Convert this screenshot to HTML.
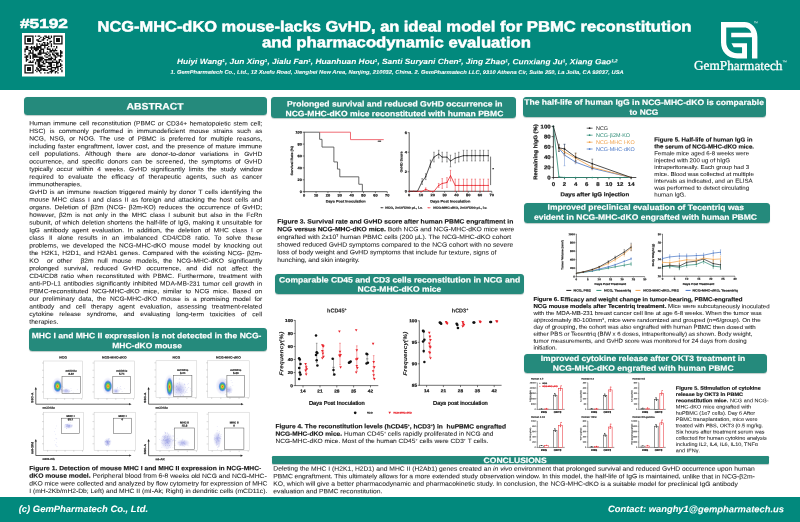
<!DOCTYPE html>
<html lang="en"><head><meta charset="utf-8"><title>NCG-MHC-dKO mouse poster</title>
<style>

html,body{margin:0;padding:0;background:#fff;}
body{width:800px;height:522px;overflow:hidden;font-family:"Liberation Sans",sans-serif;color:#262626;}
#poster{position:relative;width:800px;height:522px;overflow:hidden;background:#fff;}
.ln{position:absolute;left:0;top:0;-webkit-text-stroke:0.06px currentColor;white-space:nowrap;line-height:1;margin:0;padding:0;transform-origin:0 0;}
.w{color:#fff;}
.bd{font-weight:bold;-webkit-text-stroke:0.18px currentColor;}
.bi{font-weight:bold;font-style:italic;}
.hdr{position:absolute;left:0;top:0;width:800px;height:89.7px;background:#02897d;}
.ftr{position:absolute;left:0;top:497.3px;width:800px;height:24.7px;background:#02897d;}
.ban{position:absolute;background:#258a7c;border-radius:3.5px;box-shadow:0 0.5px 0.8px rgba(70,110,100,.35);}
b{-webkit-text-stroke:0.15px currentColor;color:#161616;}
sup{font-size:55%;line-height:0;vertical-align:baseline;position:relative;top:-0.5em;}
svg{position:absolute;left:0;top:0;overflow:visible;}
svg text{font-family:"Liberation Sans",sans-serif;}

</style></head>
<body>
<div id="poster">
<div class="hdr"></div>
<div class="ftr"></div>
<div class="ln w bd" style="font-size:13.075px;transform:translate(20.00px,16.93px) rotate(0.03deg) scaleX(1.32);-webkit-text-stroke:0.55px #fff;">#5192</div>
<svg style="left:22px;top:32.5px" width="43" height="43.5" viewBox="0 0 43 43.5"><rect width="43" height="43.5" fill="#fff"/><path d="M2.40 2.40h9.22v1.32h-9.22zM12.94 2.40h1.32v1.32h-1.32zM15.57 2.40h2.63v1.32h-2.63zM22.16 2.40h2.63v1.32h-2.63zM26.11 2.40h1.32v1.32h-1.32zM28.74 2.40h1.32v1.32h-1.32zM31.38 2.40h9.22v1.32h-9.22zM2.40 3.72h1.32v1.32h-1.32zM10.30 3.72h1.32v1.32h-1.32zM18.21 3.72h1.32v1.32h-1.32zM20.84 3.72h1.32v1.32h-1.32zM23.48 3.72h3.95v1.32h-3.95zM28.74 3.72h1.32v1.32h-1.32zM31.38 3.72h1.32v1.32h-1.32zM39.28 3.72h1.32v1.32h-1.32zM2.40 5.03h1.32v1.32h-1.32zM5.03 5.03h3.95v1.32h-3.95zM10.30 5.03h1.32v1.32h-1.32zM16.89 5.03h1.32v1.32h-1.32zM20.84 5.03h2.63v1.32h-2.63zM26.11 5.03h2.63v1.32h-2.63zM31.38 5.03h1.32v1.32h-1.32zM34.01 5.03h3.95v1.32h-3.95zM39.28 5.03h1.32v1.32h-1.32zM2.40 6.35h1.32v1.32h-1.32zM5.03 6.35h3.95v1.32h-3.95zM10.30 6.35h1.32v1.32h-1.32zM14.26 6.35h2.63v1.32h-2.63zM19.52 6.35h2.63v1.32h-2.63zM24.79 6.35h1.32v1.32h-1.32zM31.38 6.35h1.32v1.32h-1.32zM34.01 6.35h3.95v1.32h-3.95zM39.28 6.35h1.32v1.32h-1.32zM2.40 7.67h1.32v1.32h-1.32zM5.03 7.67h3.95v1.32h-3.95zM10.30 7.67h1.32v1.32h-1.32zM15.57 7.67h3.95v1.32h-3.95zM27.43 7.67h2.63v1.32h-2.63zM31.38 7.67h1.32v1.32h-1.32zM34.01 7.67h3.95v1.32h-3.95zM39.28 7.67h1.32v1.32h-1.32zM2.40 8.99h1.32v1.32h-1.32zM10.30 8.99h1.32v1.32h-1.32zM20.84 8.99h2.63v1.32h-2.63zM24.79 8.99h1.32v1.32h-1.32zM27.43 8.99h1.32v1.32h-1.32zM31.38 8.99h1.32v1.32h-1.32zM39.28 8.99h1.32v1.32h-1.32zM2.40 10.30h9.22v1.32h-9.22zM14.26 10.30h1.32v1.32h-1.32zM16.89 10.30h1.32v1.32h-1.32zM19.52 10.30h1.32v1.32h-1.32zM22.16 10.30h1.32v1.32h-1.32zM24.79 10.30h2.63v1.32h-2.63zM28.74 10.30h1.32v1.32h-1.32zM31.38 10.30h9.22v1.32h-9.22zM14.26 11.62h1.32v1.32h-1.32zM18.21 11.62h7.90v1.32h-7.90zM28.74 11.62h1.32v1.32h-1.32zM3.72 12.94h2.63v1.32h-2.63zM8.99 12.94h1.32v1.32h-1.32zM11.62 12.94h1.32v1.32h-1.32zM14.26 12.94h5.27v1.32h-5.27zM22.16 12.94h1.32v1.32h-1.32zM26.11 12.94h1.32v1.32h-1.32zM28.74 12.94h1.32v1.32h-1.32zM31.38 12.94h1.32v1.32h-1.32zM34.01 12.94h1.32v1.32h-1.32zM3.72 14.26h2.63v1.32h-2.63zM7.67 14.26h11.86v1.32h-11.86zM22.16 14.26h1.32v1.32h-1.32zM24.79 14.26h1.32v1.32h-1.32zM34.01 14.26h1.32v1.32h-1.32zM2.40 15.57h3.95v1.32h-3.95zM8.99 15.57h1.32v1.32h-1.32zM11.62 15.57h5.27v1.32h-5.27zM18.21 15.57h3.95v1.32h-3.95zM24.79 15.57h3.95v1.32h-3.95zM30.06 15.57h1.32v1.32h-1.32zM32.70 15.57h1.32v1.32h-1.32zM2.40 16.89h1.32v1.32h-1.32zM6.35 16.89h2.63v1.32h-2.63zM10.30 16.89h1.32v1.32h-1.32zM12.94 16.89h2.63v1.32h-2.63zM16.89 16.89h2.63v1.32h-2.63zM20.84 16.89h1.32v1.32h-1.32zM27.43 16.89h7.90v1.32h-7.90zM37.97 16.89h1.32v1.32h-1.32zM2.40 18.21h1.32v1.32h-1.32zM7.67 18.21h1.32v1.32h-1.32zM10.30 18.21h1.32v1.32h-1.32zM16.89 18.21h2.63v1.32h-2.63zM20.84 18.21h1.32v1.32h-1.32zM24.79 18.21h1.32v1.32h-1.32zM27.43 18.21h2.63v1.32h-2.63zM31.38 18.21h1.32v1.32h-1.32zM37.97 18.21h2.63v1.32h-2.63zM6.35 19.52h5.27v1.32h-5.27zM15.57 19.52h9.22v1.32h-9.22zM26.11 19.52h1.32v1.32h-1.32zM30.06 19.52h1.32v1.32h-1.32zM32.70 19.52h3.95v1.32h-3.95zM37.97 19.52h2.63v1.32h-2.63zM2.40 20.84h1.32v1.32h-1.32zM6.35 20.84h1.32v1.32h-1.32zM10.30 20.84h3.95v1.32h-3.95zM15.57 20.84h3.95v1.32h-3.95zM23.48 20.84h2.63v1.32h-2.63zM27.43 20.84h1.32v1.32h-1.32zM30.06 20.84h2.63v1.32h-2.63zM34.01 20.84h2.63v1.32h-2.63zM37.97 20.84h1.32v1.32h-1.32zM3.72 22.16h2.63v1.32h-2.63zM7.67 22.16h1.32v1.32h-1.32zM10.30 22.16h5.27v1.32h-5.27zM22.16 22.16h1.32v1.32h-1.32zM26.11 22.16h2.63v1.32h-2.63zM31.38 22.16h2.63v1.32h-2.63zM35.33 22.16h5.27v1.32h-5.27zM2.40 23.48h3.95v1.32h-3.95zM7.67 23.48h1.32v1.32h-1.32zM10.30 23.48h10.54v1.32h-10.54zM23.48 23.48h2.63v1.32h-2.63zM28.74 23.48h1.32v1.32h-1.32zM32.70 23.48h2.63v1.32h-2.63zM37.97 23.48h1.32v1.32h-1.32zM3.72 24.79h1.32v1.32h-1.32zM7.67 24.79h1.32v1.32h-1.32zM10.30 24.79h1.32v1.32h-1.32zM16.89 24.79h5.27v1.32h-5.27zM26.11 24.79h5.27v1.32h-5.27zM32.70 24.79h1.32v1.32h-1.32zM3.72 26.11h2.63v1.32h-2.63zM11.62 26.11h1.32v1.32h-1.32zM14.26 26.11h6.59v1.32h-6.59zM22.16 26.11h7.90v1.32h-7.90zM31.38 26.11h2.63v1.32h-2.63zM36.65 26.11h2.63v1.32h-2.63zM3.72 27.43h1.32v1.32h-1.32zM7.67 27.43h1.32v1.32h-1.32zM10.30 27.43h1.32v1.32h-1.32zM14.26 27.43h5.27v1.32h-5.27zM20.84 27.43h1.32v1.32h-1.32zM23.48 27.43h1.32v1.32h-1.32zM30.06 27.43h1.32v1.32h-1.32zM34.01 27.43h1.32v1.32h-1.32zM36.65 27.43h1.32v1.32h-1.32zM39.28 27.43h1.32v1.32h-1.32zM6.35 28.74h5.27v1.32h-5.27zM12.94 28.74h1.32v1.32h-1.32zM15.57 28.74h2.63v1.32h-2.63zM19.52 28.74h2.63v1.32h-2.63zM23.48 28.74h14.49v1.32h-14.49zM12.94 30.06h1.32v1.32h-1.32zM15.57 30.06h2.63v1.32h-2.63zM20.84 30.06h2.63v1.32h-2.63zM26.11 30.06h3.95v1.32h-3.95zM34.01 30.06h2.63v1.32h-2.63zM37.97 30.06h1.32v1.32h-1.32zM2.40 31.38h9.22v1.32h-9.22zM15.57 31.38h5.27v1.32h-5.27zM27.43 31.38h2.63v1.32h-2.63zM31.38 31.38h1.32v1.32h-1.32zM34.01 31.38h1.32v1.32h-1.32zM37.97 31.38h2.63v1.32h-2.63zM2.40 32.70h1.32v1.32h-1.32zM10.30 32.70h1.32v1.32h-1.32zM15.57 32.70h7.90v1.32h-7.90zM24.79 32.70h5.27v1.32h-5.27zM34.01 32.70h5.27v1.32h-5.27zM2.40 34.01h1.32v1.32h-1.32zM5.03 34.01h3.95v1.32h-3.95zM10.30 34.01h1.32v1.32h-1.32zM14.26 34.01h1.32v1.32h-1.32zM16.89 34.01h2.63v1.32h-2.63zM24.79 34.01h1.32v1.32h-1.32zM28.74 34.01h7.90v1.32h-7.90zM39.28 34.01h1.32v1.32h-1.32zM2.40 35.33h1.32v1.32h-1.32zM5.03 35.33h3.95v1.32h-3.95zM10.30 35.33h1.32v1.32h-1.32zM14.26 35.33h2.63v1.32h-2.63zM18.21 35.33h5.27v1.32h-5.27zM26.11 35.33h3.95v1.32h-3.95zM32.70 35.33h1.32v1.32h-1.32zM35.33 35.33h1.32v1.32h-1.32zM37.97 35.33h1.32v1.32h-1.32zM2.40 36.65h1.32v1.32h-1.32zM5.03 36.65h3.95v1.32h-3.95zM10.30 36.65h1.32v1.32h-1.32zM12.94 36.65h1.32v1.32h-1.32zM15.57 36.65h3.95v1.32h-3.95zM20.84 36.65h5.27v1.32h-5.27zM28.74 36.65h3.95v1.32h-3.95zM35.33 36.65h1.32v1.32h-1.32zM39.28 36.65h1.32v1.32h-1.32zM2.40 37.97h1.32v1.32h-1.32zM10.30 37.97h1.32v1.32h-1.32zM14.26 37.97h1.32v1.32h-1.32zM16.89 37.97h1.32v1.32h-1.32zM27.43 37.97h3.95v1.32h-3.95zM32.70 37.97h2.63v1.32h-2.63zM39.28 37.97h1.32v1.32h-1.32zM2.40 39.28h9.22v1.32h-9.22zM18.21 39.28h1.32v1.32h-1.32zM22.16 39.28h1.32v1.32h-1.32zM24.79 39.28h2.63v1.32h-2.63zM28.74 39.28h1.32v1.32h-1.32zM32.70 39.28h1.32v1.32h-1.32zM35.33 39.28h1.32v1.32h-1.32z" fill="#111"/></svg>
<div class="ln w bd" style="font-size:14.900px;transform:translate(97.60px,19.39px) rotate(0.03deg) scaleX(1.101962574167047);-webkit-text-stroke:0.5px #fff;">NCG-MHC-dKO mouse-lacks GvHD, an </div>
<div class="ln w bd" style="font-size:14.900px;transform:translate(403.75px,19.39px) rotate(0.03deg) scaleX(1.1183579279771665);-webkit-text-stroke:0.5px #fff;">ideal model for PBMC reconstitution</div>
<div class="ln w bd" style="font-size:14.900px;transform:translate(262.00px,35.29px) rotate(0.03deg) scaleX(1.1209063090044924);-webkit-text-stroke:0.5px #fff;">and pharmacodynamic evaluation</div>
<div class="ln w bi" style="font-size:7.606px;transform:translate(177.00px,57.96px) rotate(0.03deg) scaleX(1.1);">Huiyi Wang<sup>1</sup>, Jun Xing<sup>1</sup>, Jialu Fan<sup>1</sup>, Huanhuan Hou<sup>1</sup>, Santi Suryani Chen<sup>2</sup>, Jing Zhao<sup>1</sup>, Cunxiang Ju<sup>1</sup>, Xiang Gao<sup>1,2</sup></div>
<div class="ln w bi" style="font-size:5.265px;transform:translate(170.50px,69.74px) rotate(0.03deg) scaleX(1.1);">1. GemPharmatech Co., Ltd., 12 Xuefu Road, Jiangbei New Area, Nanjing, 210032, China. 2. GemPharmatech LLC, 9310 Athena Cir, Suite 250, La Jolla, CA 92037, USA</div>
<svg style="left:721px;top:21.7px" width="36.4" height="36.4" viewBox="0 0 403 403"><path d="M0 0H258C340 0 403 70 403 165V403H178C70 403 0 330 0 225ZM58 60H258C300 60 330 90 335 120H113V170H343V404H288V235H116L140 280H233V345H180C110 345 58 295 58 225Z" fill="#fff" fill-rule="evenodd"/></svg>
<div class="ln w" style="font-size:13.277px;transform:translate(694.00px,58.86px) rotate(0.03deg) scaleX(1.0);font-family:'Liberation Serif',serif;-webkit-text-stroke:0.3px #fff;">GemPharmatech</div>
<div class="ln w" style="font-size:2.600px;transform:translate(782.60px,61.20px) rotate(0.03deg) scaleX(1.08);">TM</div>
<div class="ln w" style="font-size:2.400px;transform:translate(754.00px,22.27px) rotate(0.03deg) scaleX(1.08);opacity:.75;">TM</div>
<div class="ln w bi" style="font-size:9.171px;transform:translate(18.70px,505.04px) rotate(0.03deg) scaleX(1.03);">(c) GemPharmatech Co., Ltd.</div>
<div class="ln w bi" style="font-size:9.119px;transform:translate(608.00px,505.08px) rotate(0.03deg) scaleX(1.03);">Contact: wanghy1@gempharmatech.us</div>
<div class="ban" style="left:24.1px;top:97.4px;width:242.6px;height:17.4px;border-radius:3.5px"></div>
<div class="ln w bd" style="font-size:9.450px;transform:translate(126.60px,101.60px) rotate(0.03deg) scaleX(1.1);">ABSTRACT</div>
<div class="ban" style="left:28.7px;top:327.9px;width:238.0px;height:22.7px;border-radius:3.5px"></div>
<div class="ln w bd" style="font-size:7.769px;transform:translate(31.70px,332.22px) rotate(0.03deg) scaleX(1.1);">MHC I and MHC II expression is not detected in the NCG-</div>
<div class="ln w bd" style="font-size:7.717px;transform:translate(112.30px,342.17px) rotate(0.03deg) scaleX(1.1);">MHC-dKO mouse</div>
<div class="ban" style="left:271.3px;top:96.9px;width:244.9px;height:21.1px;border-radius:3.5px"></div>
<div class="ln w bd" style="font-size:7.803px;transform:translate(287.10px,100.49px) rotate(0.03deg) scaleX(1.1);">Prolonged survival and reduced GvHD occurrence in</div>
<div class="ln w bd" style="font-size:7.772px;transform:translate(285.50px,110.22px) rotate(0.03deg) scaleX(1.1);">NCG-MHC-dKO mice reconstituted with human PBMC</div>
<div class="ban" style="left:275.3px;top:274.1px;width:249.0px;height:20.1px;border-radius:3.5px"></div>
<div class="ln w bd" style="font-size:7.803px;transform:translate(279.00px,276.49px) rotate(0.03deg) scaleX(1.1);">Comparable CD45 and CD3 cells reconstitution in NCG and</div>
<div class="ln w bd" style="font-size:7.758px;transform:translate(357.50px,285.83px) rotate(0.03deg) scaleX(1.1);">NCG-MHC-dKO mice</div>
<div class="ban" style="left:522.8px;top:97.2px;width:243.1px;height:20.0px;border-radius:3.5px"></div>
<div class="ln w bd" style="font-size:7.771px;transform:translate(524.30px,98.82px) rotate(0.03deg) scaleX(1.1);">The half-life of human IgG in NCG-MHC-dKO is comparable</div>
<div class="ln w bd" style="font-size:7.586px;transform:translate(629.50px,108.78px) rotate(0.03deg) scaleX(1.1);">to NCG</div>
<div class="ban" style="left:524px;top:202.8px;width:245.5px;height:19.9px;border-radius:3.5px"></div>
<div class="ln w bd" style="font-size:7.756px;transform:translate(547.60px,203.83px) rotate(0.03deg) scaleX(1.1);">Improved preclinical evaluation of Tecentriq was</div>
<div class="ln w bd" style="font-size:7.785px;transform:translate(534.00px,213.71px) rotate(0.03deg) scaleX(1.1);">evident in NCG-MHC-dKO engrafted with human PBMC</div>
<div class="ban" style="left:524px;top:354px;width:242.7px;height:19.4px;border-radius:3.5px"></div>
<div class="ln w bd" style="font-size:7.788px;transform:translate(540.70px,355.01px) rotate(0.03deg) scaleX(1.1);">Improved cytokine release after OKT3 treatment in</div>
<div class="ln w bd" style="font-size:7.787px;transform:translate(552.80px,364.71px) rotate(0.03deg) scaleX(1.1);">NCG-MHC-dKO engrafted with human PBMC</div>
<div class="ban" style="left:272px;top:455.6px;width:496.8px;height:8.3px;border-radius:1.2px"></div>
<div class="ln w bd" style="font-size:7.775px;transform:translate(483.60px,457.02px) rotate(0.03deg) scaleX(1.1);">CONCLUSIONS</div>
<div class="ln" style="font-size:6.130px;transform:translate(29.30px,120.31px) rotate(0.03deg) scaleX(1.08);word-spacing:0.718px;">Human immune cell reconstitution (PBMC or CD34+ hematopoietic stem cell;</div>
<div class="ln" style="font-size:6.130px;transform:translate(29.30px,127.94px) rotate(0.03deg) scaleX(1.08);word-spacing:2.213px;">HSC) is commonly performed in immunodeficient mouse strains such as</div>
<div class="ln" style="font-size:6.130px;transform:translate(29.30px,135.57px) rotate(0.03deg) scaleX(1.08);word-spacing:1.641px;">NCG, NSG, or NOG. The use of PBMC is preferred for multiple reasons,</div>
<div class="ln" style="font-size:6.130px;transform:translate(29.30px,143.20px) rotate(0.03deg) scaleX(1.08);word-spacing:0.729px;">including faster engraftment, lower cost, and the presence of mature immune</div>
<div class="ln" style="font-size:6.130px;transform:translate(29.30px,150.83px) rotate(0.03deg) scaleX(1.08);word-spacing:3.122px;">cell populations. Although there are donor-to-donor variations in GvHD</div>
<div class="ln" style="font-size:6.130px;transform:translate(29.30px,158.46px) rotate(0.03deg) scaleX(1.08);word-spacing:1.546px;">occurrence, and specific donors can be screened, the symptoms of GvHD</div>
<div class="ln" style="font-size:6.130px;transform:translate(29.30px,166.09px) rotate(0.03deg) scaleX(1.08);word-spacing:1.787px;">typically occur within 4 weeks. GvHD significantly limits the study window</div>
<div class="ln" style="font-size:6.130px;transform:translate(29.30px,173.72px) rotate(0.03deg) scaleX(1.08);word-spacing:2.541px;">required to evaluate the efficacy of therapeutic agents, such as cancer</div>
<div class="ln" style="font-size:6.130px;transform:translate(29.30px,181.35px) rotate(0.03deg) scaleX(1.08);">immunotherapies.</div>
<div class="ln" style="font-size:6.130px;transform:translate(29.30px,188.98px) rotate(0.03deg) scaleX(1.08);word-spacing:0.656px;">GvHD is an immune reaction triggered mainly by donor T cells identifying the</div>
<div class="ln" style="font-size:6.130px;transform:translate(29.30px,196.61px) rotate(0.03deg) scaleX(1.08);word-spacing:0.983px;">mouse MHC class I and class II as foreign and attacking the host cells and</div>
<div class="ln" style="font-size:6.130px;transform:translate(29.30px,204.24px) rotate(0.03deg) scaleX(1.08);word-spacing:1.185px;">organs. Deletion of β2m (NCG- β2m-KO) reduces the occurrence of GvHD;</div>
<div class="ln" style="font-size:6.130px;transform:translate(29.30px,211.87px) rotate(0.03deg) scaleX(1.08);word-spacing:1.272px;">however, β2m is not only in the MHC class I subunit but also in the FcRn</div>
<div class="ln" style="font-size:6.130px;transform:translate(29.30px,219.50px) rotate(0.03deg) scaleX(1.08);word-spacing:0.436px;">subunit, of which deletion shortens the half-life of IgG, making it unsuitable for</div>
<div class="ln" style="font-size:6.130px;transform:translate(29.30px,227.13px) rotate(0.03deg) scaleX(1.08);word-spacing:1.570px;">IgG antibody agent evaluation. In addition, the deletion of MHC class I or</div>
<div class="ln" style="font-size:6.130px;transform:translate(29.30px,234.76px) rotate(0.03deg) scaleX(1.08);word-spacing:2.560px;">class II alone results in an imbalanced CD4/CD8 ratio. To solve these</div>
<div class="ln" style="font-size:6.130px;transform:translate(29.30px,242.39px) rotate(0.03deg) scaleX(1.08);word-spacing:1.188px;">problems, we developed the NCG-MHC-dKO mouse model by knocking out</div>
<div class="ln" style="font-size:6.130px;transform:translate(29.30px,250.02px) rotate(0.03deg) scaleX(1.08);word-spacing:0.745px;">the H2K1, H2D1, and H2Ab1 genes. Compared with the existing NCG- β2m-</div>
<div class="ln" style="font-size:6.130px;transform:translate(29.30px,257.65px) rotate(0.03deg) scaleX(1.08);word-spacing:2.109px;">KO  or other  β2m null mouse models, the NCG-MHC-dKO significantly</div>
<div class="ln" style="font-size:6.130px;transform:translate(29.30px,265.28px) rotate(0.03deg) scaleX(1.08);word-spacing:3.280px;">prolonged survival, reduced GvHD occurrence, and did not affect the</div>
<div class="ln" style="font-size:6.130px;transform:translate(29.30px,272.91px) rotate(0.03deg) scaleX(1.08);word-spacing:1.468px;">CD4/CD8 ratio when reconstituted with PBMC. Furthermore, treatment with</div>
<div class="ln" style="font-size:6.130px;transform:translate(29.30px,280.54px) rotate(0.03deg) scaleX(1.08);word-spacing:0.657px;">anti-PD-L1 antibodies significantly inhibited MDA-MB-231 tumor cell growth in</div>
<div class="ln" style="font-size:6.130px;transform:translate(29.30px,288.17px) rotate(0.03deg) scaleX(1.08);word-spacing:1.683px;">PBMC-reconstituted NCG-MHC-dKO mice, similar to NCG mice. Based on</div>
<div class="ln" style="font-size:6.130px;transform:translate(29.30px,295.80px) rotate(0.03deg) scaleX(1.08);word-spacing:1.720px;">our preliminary data, the NCG-MHC-dKO mouse is a promising model for</div>
<div class="ln" style="font-size:6.130px;transform:translate(29.30px,303.43px) rotate(0.03deg) scaleX(1.08);word-spacing:3.128px;">antibody and cell therapy agent evaluation, assessing treatment-related</div>
<div class="ln" style="font-size:6.130px;transform:translate(29.30px,311.06px) rotate(0.03deg) scaleX(1.08);word-spacing:3.634px;">cytokine release syndrome, and evaluating long-term toxicities of cell</div>
<div class="ln" style="font-size:6.130px;transform:translate(29.30px,318.69px) rotate(0.03deg) scaleX(1.08);">therapies.</div>
<div class="ln" style="font-size:6.243px;transform:translate(29.20px,465.22px) rotate(0.03deg) scaleX(1.08);word-spacing:0.011px;"><b>Figure 1. Detection of mouse MHC I and MHC II expression in NCG-MHC-</b></div>
<div class="ln" style="font-size:6.243px;transform:translate(29.20px,472.80px) rotate(0.03deg) scaleX(1.08);word-spacing:-0.012px;"><b>dKO mouse model.</b> Peripheral blood from 6-8 weeks old NCG and NCG-MHC-</div>
<div class="ln" style="font-size:6.243px;transform:translate(29.20px,480.38px) rotate(0.03deg) scaleX(1.08);word-spacing:-0.066px;">dKO mice were collected and analyzed by flow cytometry for expression of MHC</div>
<div class="ln" style="font-size:6.243px;transform:translate(29.20px,487.96px) rotate(0.03deg) scaleX(1.08);word-spacing:0.020px;">I (mH-2Kb/mH2-Db; Left) and MHC II (mI-Ak; Right) in dendritic cells (mCD11c).</div>
<div class="ln" style="font-size:6.257px;transform:translate(277.30px,218.50px) rotate(0.03deg) scaleX(1.08);word-spacing:0.002px;"><b>Figure 3. Survival rate and GvHD score after human PBMC engraftment in</b></div>
<div class="ln" style="font-size:6.257px;transform:translate(277.30px,226.20px) rotate(0.03deg) scaleX(1.08);word-spacing:-0.039px;"><b>NCG versus NCG-MHC-dKO mice.</b> Both NCG and NCG-MHC-dKO mice were</div>
<div class="ln" style="font-size:6.257px;transform:translate(277.30px,233.90px) rotate(0.03deg) scaleX(1.08);word-spacing:0.017px;">engrafted with 2x10<sup>7</sup> human PBMC cells (200 μL). The NCG-MHC-dKO cohort</div>
<div class="ln" style="font-size:6.257px;transform:translate(277.30px,241.60px) rotate(0.03deg) scaleX(1.08);word-spacing:-0.002px;">showed reduced GvHD symptoms compared to the NCG cohort with no severe</div>
<div class="ln" style="font-size:6.257px;transform:translate(277.30px,249.30px) rotate(0.03deg) scaleX(1.08);word-spacing:0.002px;">loss of body weight and GvHD symptoms that include fur texture, signs of</div>
<div class="ln" style="font-size:6.257px;transform:translate(277.30px,257.00px) rotate(0.03deg) scaleX(1.08);word-spacing:-0.244px;">hunching, and skin integrity.</div>
<div class="ln" style="font-size:6.116px;transform:translate(275.40px,423.32px) rotate(0.03deg) scaleX(1.08);word-spacing:0.050px;"><b>Figure 4. The reconstitution levels (hCD45<sup>+</sup>, hCD3<sup>+</sup>) in&nbsp; huPBMC engrafted</b></div>
<div class="ln" style="font-size:6.116px;transform:translate(275.40px,430.64px) rotate(0.03deg) scaleX(1.08);word-spacing:-0.008px;"><b>NCG-MHC-dKO mice.</b> Human CD45<sup>+</sup> cells rapidly proliferated in NCG and</div>
<div class="ln" style="font-size:6.116px;transform:translate(275.40px,437.96px) rotate(0.03deg) scaleX(1.08);word-spacing:0.000px;">NCG-MHC-dKO mice. Most of the human CD45<sup>+</sup> cells were CD3<sup>+</sup> T cells.</div>
<div class="ln" style="font-size:6.249px;transform:translate(273.30px,465.61px) rotate(0.03deg) scaleX(1.08);word-spacing:0.005px;">Deleting the MHC I (H2K1, H2D1) and MHC II (H2Ab1) genes created an <i>in vivo</i> environment that prolonged survival and reduced GvHD occurrence upon human</div>
<div class="ln" style="font-size:6.249px;transform:translate(273.30px,473.16px) rotate(0.03deg) scaleX(1.08);word-spacing:-0.008px;">PBMC engraftment. This ultimately allows for a more extended study observation window. In this model, the half-life of IgG is maintained, unlike that in NCG-β2m-</div>
<div class="ln" style="font-size:6.249px;transform:translate(273.30px,480.71px) rotate(0.03deg) scaleX(1.08);word-spacing:-0.005px;">KO, which will give a better pharmacodynamic and pharmacokinetic study. In conclusion, the NCG-MHC-dKO is a suitable model for preclinical IgG antibody</div>
<div class="ln" style="font-size:6.249px;transform:translate(273.30px,488.26px) rotate(0.03deg) scaleX(1.08);word-spacing:0.021px;">evaluation and PBMC reconstitution.</div>
<div class="ln" style="font-size:5.677px;transform:translate(654.30px,137.49px) rotate(0.03deg) scaleX(1.08);word-spacing:0.059px;"><b>Figure 5. Half-life of human IgG in</b></div>
<div class="ln" style="font-size:5.677px;transform:translate(654.30px,144.37px) rotate(0.03deg) scaleX(1.08);word-spacing:-0.091px;"><b>the serum of NCG-MHC-dKO mice.</b></div>
<div class="ln" style="font-size:5.677px;transform:translate(654.30px,151.25px) rotate(0.03deg) scaleX(1.08);word-spacing:0.000px;">Female mice aged 6-8 weeks were</div>
<div class="ln" style="font-size:5.677px;transform:translate(654.30px,158.13px) rotate(0.03deg) scaleX(1.08);word-spacing:-0.000px;">injected with 200 ug of hIgG</div>
<div class="ln" style="font-size:5.677px;transform:translate(654.30px,165.01px) rotate(0.03deg) scaleX(1.08);word-spacing:0.102px;">intraperitoneally. Each group had 3</div>
<div class="ln" style="font-size:5.677px;transform:translate(654.30px,171.89px) rotate(0.03deg) scaleX(1.08);word-spacing:-0.053px;">mice. Blood was collected at multiple</div>
<div class="ln" style="font-size:5.677px;transform:translate(654.30px,178.77px) rotate(0.03deg) scaleX(1.08);word-spacing:0.017px;">intervals as indicated, and an ELISA</div>
<div class="ln" style="font-size:5.677px;transform:translate(654.30px,185.65px) rotate(0.03deg) scaleX(1.08);word-spacing:0.000px;">was performed to detect circulating</div>
<div class="ln" style="font-size:5.677px;transform:translate(654.30px,192.53px) rotate(0.03deg) scaleX(1.08);letter-spacing:-0.023px;">human IgG.</div>
<div class="ln" style="font-size:5.660px;transform:translate(533.40px,297.11px) rotate(0.03deg) scaleX(1.08);word-spacing:0.029px;"><b>Figure 6. Efficacy and weight change in tumor-bearing, PBMC-engrafted</b></div>
<div class="ln" style="font-size:5.660px;transform:translate(533.40px,304.03px) rotate(0.03deg) scaleX(1.08);word-spacing:0.001px;"><b>NCG mouse models after Tecentriq treatment.</b> Mice were subcutaneously inoculated</div>
<div class="ln" style="font-size:5.660px;transform:translate(533.40px,310.95px) rotate(0.03deg) scaleX(1.08);word-spacing:0.003px;">with the MDA-MB-231 breast cancer cell line at age 6-8 weeks. When the tumor was</div>
<div class="ln" style="font-size:5.660px;transform:translate(533.40px,317.87px) rotate(0.03deg) scaleX(1.08);word-spacing:0.038px;">approximately 80-100mm<sup>3</sup>, mice were randomized and grouped (n=6/group). On the</div>
<div class="ln" style="font-size:5.660px;transform:translate(533.40px,324.79px) rotate(0.03deg) scaleX(1.08);word-spacing:-0.008px;">day of grouping, the cohort was also engrafted with human PBMC then dosed with</div>
<div class="ln" style="font-size:5.660px;transform:translate(533.40px,331.71px) rotate(0.03deg) scaleX(1.08);word-spacing:-0.096px;">either PBS or Tecentriq (BIW x 6 doses, intraperitoneally) as shown. Body weight,</div>
<div class="ln" style="font-size:5.660px;transform:translate(533.40px,338.63px) rotate(0.03deg) scaleX(1.08);word-spacing:-0.001px;">tumor measurements, and GvHD score was monitored for 24 days from dosing</div>
<div class="ln" style="font-size:5.660px;transform:translate(533.40px,345.55px) rotate(0.03deg) scaleX(1.08);letter-spacing:-0.047px;">initiation.</div>
<div class="ln" style="font-size:5.108px;transform:translate(675.80px,385.78px) rotate(0.03deg) scaleX(1.08);word-spacing:0.000px;"><b>Figure 5. Stimulation of cytokine</b></div>
<div class="ln" style="font-size:5.108px;transform:translate(675.80px,392.03px) rotate(0.03deg) scaleX(1.08);word-spacing:-0.018px;"><b>release by OKT3 in PBMC</b></div>
<div class="ln" style="font-size:5.108px;transform:translate(675.80px,398.28px) rotate(0.03deg) scaleX(1.08);word-spacing:0.128px;"><b>reconstitution mice.</b> NCG and NCG-</div>
<div class="ln" style="font-size:5.108px;transform:translate(675.80px,404.53px) rotate(0.03deg) scaleX(1.08);word-spacing:0.177px;">MHC-dKO mice engrafted with</div>
<div class="ln" style="font-size:5.108px;transform:translate(675.80px,410.78px) rotate(0.03deg) scaleX(1.08);word-spacing:-0.003px;">huPBMC (1e7 cells). Day 6 After</div>
<div class="ln" style="font-size:5.108px;transform:translate(675.80px,417.03px) rotate(0.03deg) scaleX(1.08);word-spacing:0.013px;">PBMC transplantation, mice were</div>
<div class="ln" style="font-size:5.108px;transform:translate(675.80px,423.28px) rotate(0.03deg) scaleX(1.08);word-spacing:-0.051px;">treated with PBS, OKT3 (0.5 mg/kg.</div>
<div class="ln" style="font-size:5.108px;transform:translate(675.80px,429.53px) rotate(0.03deg) scaleX(1.08);word-spacing:0.057px;">Six hours after treatment serum was</div>
<div class="ln" style="font-size:5.108px;transform:translate(675.80px,435.78px) rotate(0.03deg) scaleX(1.08);word-spacing:-0.035px;">collected for human cytokine analysis</div>
<div class="ln" style="font-size:5.108px;transform:translate(675.80px,442.03px) rotate(0.03deg) scaleX(1.08);word-spacing:-0.134px;">including IL2, IL4, IL6, IL10, TNFα</div>
<div class="ln" style="font-size:5.108px;transform:translate(675.80px,448.28px) rotate(0.03deg) scaleX(1.08);letter-spacing:0.040px;">and IFNγ.</div>
<svg width="800" height="522" viewBox="0 0 800 522">
<defs><radialGradient id="blob"><stop offset="0" stop-color="#f0442a"/><stop offset="0.22" stop-color="#f6c02c"/><stop offset="0.45" stop-color="#58c05a"/><stop offset="0.7" stop-color="#3a8ad8"/><stop offset="1" stop-color="#5a6ae0" stop-opacity="0.0"/></radialGradient><radialGradient id="haze"><stop offset="0" stop-color="#6a72d8" stop-opacity="0.55"/><stop offset="1" stop-color="#8a90e0" stop-opacity="0"/></radialGradient></defs>
<rect x="43.6" y="361" width="39.1" height="37.3" fill="#fff" stroke="#c4c4c4" stroke-width="0.45" />
<line x1="42" y1="363" x2="43.6" y2="363" stroke="#999" stroke-width="0.35" />
<line x1="42" y1="370.24" x2="43.6" y2="370.24" stroke="#999" stroke-width="0.35" />
<line x1="42" y1="377.48" x2="43.6" y2="377.48" stroke="#999" stroke-width="0.35" />
<line x1="42" y1="384.72" x2="43.6" y2="384.72" stroke="#999" stroke-width="0.35" />
<line x1="42" y1="391.96" x2="43.6" y2="391.96" stroke="#999" stroke-width="0.35" />
<line x1="47.6" y1="398.3" x2="47.6" y2="399.8" stroke="#999" stroke-width="0.35" />
<line x1="56.12" y1="398.3" x2="56.12" y2="399.8" stroke="#999" stroke-width="0.35" />
<line x1="64.65" y1="398.3" x2="64.65" y2="399.8" stroke="#999" stroke-width="0.35" />
<line x1="73.18" y1="398.3" x2="73.18" y2="399.8" stroke="#999" stroke-width="0.35" />
<line x1="81.7" y1="398.3" x2="81.7" y2="399.8" stroke="#999" stroke-width="0.35" />
<ellipse cx="57.6" cy="386" rx="6" ry="9" fill="url(#haze)"/>
<ellipse cx="66" cy="391" rx="5" ry="3" fill="url(#haze)"/>
<circle cx="62.1" cy="390.94" r="0.32" fill="#7a80d8" opacity="0.55"/>
<circle cx="70.98" cy="388.72" r="0.32" fill="#7a80d8" opacity="0.55"/>
<circle cx="61.68" cy="389.84" r="0.32" fill="#7a80d8" opacity="0.55"/>
<circle cx="68.91" cy="392.75" r="0.32" fill="#7a80d8" opacity="0.55"/>
<circle cx="62.14" cy="386.77" r="0.32" fill="#7a80d8" opacity="0.55"/>
<circle cx="69.82" cy="391.19" r="0.32" fill="#7a80d8" opacity="0.55"/>
<circle cx="73.14" cy="392.46" r="0.32" fill="#7a80d8" opacity="0.55"/>
<circle cx="66.59" cy="389.31" r="0.32" fill="#7a80d8" opacity="0.55"/>
<circle cx="77.28" cy="389.28" r="0.32" fill="#7a80d8" opacity="0.55"/>
<circle cx="63.86" cy="387.15" r="0.32" fill="#7a80d8" opacity="0.55"/>
<circle cx="67.38" cy="390.36" r="0.32" fill="#7a80d8" opacity="0.55"/>
<circle cx="65.62" cy="389.84" r="0.32" fill="#7a80d8" opacity="0.55"/>
<circle cx="68.09" cy="391.73" r="0.32" fill="#7a80d8" opacity="0.55"/>
<circle cx="71.39" cy="390.52" r="0.32" fill="#7a80d8" opacity="0.55"/>
<circle cx="59.84" cy="391.75" r="0.32" fill="#7a80d8" opacity="0.55"/>
<circle cx="61.32" cy="389.57" r="0.32" fill="#7a80d8" opacity="0.55"/>
<circle cx="61.1" cy="390.01" r="0.32" fill="#7a80d8" opacity="0.55"/>
<circle cx="63.89" cy="390.53" r="0.32" fill="#7a80d8" opacity="0.55"/>
<ellipse cx="57.6" cy="386.2" rx="4.2" ry="6.2" fill="url(#blob)"/>
<rect x="62" y="376.3" width="18.3" height="17.1" fill="none" stroke="#555" stroke-width="0.5" />
<text transform="translate(63.15 358.6) rotate(0.03) scale(1.1 1)" font-size="3.1" text-anchor="middle" fill="#333" font-weight="bold" stroke="#333" stroke-width="0.22" >NCG</text>
<text transform="translate(71.15 371.7) rotate(0.03) scale(1.1 1)" font-size="2.6" text-anchor="middle" fill="#333" font-weight="bold" stroke="#333" stroke-width="0.22" >mCD11c</text>
<text transform="translate(71.15 374.7) rotate(0.03) scale(1.1 1)" font-size="2.6" text-anchor="middle" fill="#333" font-weight="bold" stroke="#333" stroke-width="0.22" >6.32</text>
<rect x="94.1" y="361" width="40.4" height="37.3" fill="#fff" stroke="#c4c4c4" stroke-width="0.45" />
<line x1="92.5" y1="363" x2="94.1" y2="363" stroke="#999" stroke-width="0.35" />
<line x1="92.5" y1="370.24" x2="94.1" y2="370.24" stroke="#999" stroke-width="0.35" />
<line x1="92.5" y1="377.48" x2="94.1" y2="377.48" stroke="#999" stroke-width="0.35" />
<line x1="92.5" y1="384.72" x2="94.1" y2="384.72" stroke="#999" stroke-width="0.35" />
<line x1="92.5" y1="391.96" x2="94.1" y2="391.96" stroke="#999" stroke-width="0.35" />
<line x1="98.1" y1="398.3" x2="98.1" y2="399.8" stroke="#999" stroke-width="0.35" />
<line x1="106.95" y1="398.3" x2="106.95" y2="399.8" stroke="#999" stroke-width="0.35" />
<line x1="115.8" y1="398.3" x2="115.8" y2="399.8" stroke="#999" stroke-width="0.35" />
<line x1="124.65" y1="398.3" x2="124.65" y2="399.8" stroke="#999" stroke-width="0.35" />
<line x1="133.5" y1="398.3" x2="133.5" y2="399.8" stroke="#999" stroke-width="0.35" />
<ellipse cx="108" cy="386" rx="6" ry="9" fill="url(#haze)"/>
<ellipse cx="116" cy="391" rx="4" ry="3" fill="url(#haze)"/>
<circle cx="130.2" cy="389.88" r="0.32" fill="#7a80d8" opacity="0.55"/>
<circle cx="120.37" cy="386.69" r="0.32" fill="#7a80d8" opacity="0.55"/>
<circle cx="115.85" cy="391.66" r="0.32" fill="#7a80d8" opacity="0.55"/>
<circle cx="116.63" cy="390.93" r="0.32" fill="#7a80d8" opacity="0.55"/>
<circle cx="117.41" cy="387.48" r="0.32" fill="#7a80d8" opacity="0.55"/>
<circle cx="119.25" cy="387.97" r="0.32" fill="#7a80d8" opacity="0.55"/>
<circle cx="124.49" cy="388.74" r="0.32" fill="#7a80d8" opacity="0.55"/>
<circle cx="119.74" cy="390.01" r="0.32" fill="#7a80d8" opacity="0.55"/>
<circle cx="120.81" cy="388.49" r="0.32" fill="#7a80d8" opacity="0.55"/>
<circle cx="121" cy="389.69" r="0.32" fill="#7a80d8" opacity="0.55"/>
<circle cx="122.05" cy="391.56" r="0.32" fill="#7a80d8" opacity="0.55"/>
<circle cx="117.57" cy="388.05" r="0.32" fill="#7a80d8" opacity="0.55"/>
<ellipse cx="108" cy="386.2" rx="4.2" ry="6.2" fill="url(#blob)"/>
<rect x="112.8" y="376.3" width="17.9" height="17.1" fill="none" stroke="#555" stroke-width="0.5" />
<text transform="translate(114.3 358.6) rotate(0.03) scale(1.1 1)" font-size="3.1" text-anchor="middle" fill="#333" font-weight="bold" stroke="#333" stroke-width="0.22" >NCG-MHC-dKO</text>
<text transform="translate(121.75 371.7) rotate(0.03) scale(1.1 1)" font-size="2.6" text-anchor="middle" fill="#333" font-weight="bold" stroke="#333" stroke-width="0.22" >mCD11c</text>
<text transform="translate(121.75 374.7) rotate(0.03) scale(1.1 1)" font-size="2.6" text-anchor="middle" fill="#333" font-weight="bold" stroke="#333" stroke-width="0.22" >5.71</text>
<line x1="35.8" y1="389" x2="35.8" y2="404.2" stroke="#222" stroke-width="0.7" />
<line x1="35.8" y1="404.2" x2="129.5" y2="404.2" stroke="#222" stroke-width="0.7" />
<polygon points="34.7,389.4 36.9,389.4 35.8,387" fill="#222"/>
<polygon points="129.1,403.1 129.1,405.3 131.5,404.2" fill="#222"/>
<text transform="translate(33.2 402.7) rotate(-89.97) scale(1.1 1)" font-size="2.9" text-anchor="start" fill="#333" font-weight="bold" stroke="#333" stroke-width="0.22" >SSC-A</text>
<text transform="translate(42.5 408.8) rotate(0.03) scale(1.1 1)" font-size="2.9" text-anchor="start" fill="#333" font-weight="bold" stroke="#333" stroke-width="0.22" >mCD11c</text>
<rect x="156" y="360.8" width="40.8" height="36.7" fill="#fff" stroke="#c4c4c4" stroke-width="0.45" />
<line x1="154.4" y1="362.8" x2="156" y2="362.8" stroke="#999" stroke-width="0.35" />
<line x1="154.4" y1="369.91" x2="156" y2="369.91" stroke="#999" stroke-width="0.35" />
<line x1="154.4" y1="377.02" x2="156" y2="377.02" stroke="#999" stroke-width="0.35" />
<line x1="154.4" y1="384.13" x2="156" y2="384.13" stroke="#999" stroke-width="0.35" />
<line x1="154.4" y1="391.23" x2="156" y2="391.23" stroke="#999" stroke-width="0.35" />
<line x1="160" y1="397.5" x2="160" y2="399" stroke="#999" stroke-width="0.35" />
<line x1="168.95" y1="397.5" x2="168.95" y2="399" stroke="#999" stroke-width="0.35" />
<line x1="177.9" y1="397.5" x2="177.9" y2="399" stroke="#999" stroke-width="0.35" />
<line x1="186.85" y1="397.5" x2="186.85" y2="399" stroke="#999" stroke-width="0.35" />
<line x1="195.8" y1="397.5" x2="195.8" y2="399" stroke="#999" stroke-width="0.35" />
<ellipse cx="169.6" cy="386" rx="5.5" ry="12" fill="url(#haze)"/>
<ellipse cx="179" cy="389" rx="8" ry="8" fill="url(#haze)"/>
<circle cx="183.84" cy="391.11" r="0.32" fill="#7a80d8" opacity="0.55"/>
<circle cx="188.21" cy="387.3" r="0.32" fill="#7a80d8" opacity="0.55"/>
<circle cx="182.77" cy="391.29" r="0.32" fill="#7a80d8" opacity="0.55"/>
<circle cx="181.41" cy="389.94" r="0.32" fill="#7a80d8" opacity="0.55"/>
<circle cx="180.91" cy="386.31" r="0.32" fill="#7a80d8" opacity="0.55"/>
<circle cx="174.93" cy="387.22" r="0.32" fill="#7a80d8" opacity="0.55"/>
<circle cx="182.95" cy="395.8" r="0.32" fill="#7a80d8" opacity="0.55"/>
<circle cx="184.89" cy="393.74" r="0.32" fill="#7a80d8" opacity="0.55"/>
<circle cx="183.89" cy="392.14" r="0.32" fill="#7a80d8" opacity="0.55"/>
<circle cx="180.92" cy="392.47" r="0.32" fill="#7a80d8" opacity="0.55"/>
<circle cx="188.87" cy="387.53" r="0.32" fill="#7a80d8" opacity="0.55"/>
<circle cx="181.22" cy="393.37" r="0.32" fill="#7a80d8" opacity="0.55"/>
<circle cx="184.37" cy="383.89" r="0.32" fill="#7a80d8" opacity="0.55"/>
<circle cx="180.88" cy="392.39" r="0.32" fill="#7a80d8" opacity="0.55"/>
<circle cx="180.63" cy="385.02" r="0.32" fill="#7a80d8" opacity="0.55"/>
<circle cx="179.44" cy="390.68" r="0.32" fill="#7a80d8" opacity="0.55"/>
<circle cx="185.58" cy="392.19" r="0.32" fill="#7a80d8" opacity="0.55"/>
<circle cx="180.3" cy="395.1" r="0.32" fill="#7a80d8" opacity="0.55"/>
<circle cx="176.2" cy="392.57" r="0.32" fill="#7a80d8" opacity="0.55"/>
<circle cx="185.56" cy="387.69" r="0.32" fill="#7a80d8" opacity="0.55"/>
<circle cx="171.05" cy="384.92" r="0.32" fill="#7a80d8" opacity="0.55"/>
<circle cx="181.19" cy="391.38" r="0.32" fill="#7a80d8" opacity="0.55"/>
<circle cx="187.74" cy="384.48" r="0.32" fill="#7a80d8" opacity="0.55"/>
<circle cx="180.01" cy="391.92" r="0.32" fill="#7a80d8" opacity="0.55"/>
<circle cx="179.21" cy="378.34" r="0.32" fill="#7a80d8" opacity="0.55"/>
<circle cx="185.02" cy="384.87" r="0.32" fill="#7a80d8" opacity="0.55"/>
<circle cx="177.94" cy="390" r="0.32" fill="#7a80d8" opacity="0.55"/>
<circle cx="192.45" cy="391.78" r="0.32" fill="#7a80d8" opacity="0.55"/>
<circle cx="180.57" cy="396.01" r="0.32" fill="#7a80d8" opacity="0.55"/>
<circle cx="176.57" cy="386.86" r="0.32" fill="#7a80d8" opacity="0.55"/>
<circle cx="183.6" cy="395.41" r="0.32" fill="#7a80d8" opacity="0.55"/>
<circle cx="183.27" cy="390.36" r="0.32" fill="#7a80d8" opacity="0.55"/>
<circle cx="170.89" cy="385.79" r="0.32" fill="#7a80d8" opacity="0.55"/>
<circle cx="176.95" cy="386.6" r="0.32" fill="#7a80d8" opacity="0.55"/>
<circle cx="182.93" cy="387.49" r="0.32" fill="#7a80d8" opacity="0.55"/>
<circle cx="183.94" cy="389.37" r="0.32" fill="#7a80d8" opacity="0.55"/>
<circle cx="178.34" cy="389.53" r="0.32" fill="#7a80d8" opacity="0.55"/>
<circle cx="182.14" cy="392.86" r="0.32" fill="#7a80d8" opacity="0.55"/>
<circle cx="177.61" cy="387.95" r="0.32" fill="#7a80d8" opacity="0.55"/>
<circle cx="173.18" cy="396.22" r="0.32" fill="#7a80d8" opacity="0.55"/>
<circle cx="187.26" cy="388.2" r="0.32" fill="#7a80d8" opacity="0.55"/>
<circle cx="177.61" cy="383.44" r="0.32" fill="#7a80d8" opacity="0.55"/>
<circle cx="180.85" cy="389.93" r="0.32" fill="#7a80d8" opacity="0.55"/>
<circle cx="190.91" cy="390.11" r="0.32" fill="#7a80d8" opacity="0.55"/>
<circle cx="176.11" cy="378" r="0.32" fill="#7a80d8" opacity="0.55"/>
<circle cx="187.05" cy="389.85" r="0.32" fill="#7a80d8" opacity="0.55"/>
<circle cx="171.95" cy="389.81" r="0.32" fill="#7a80d8" opacity="0.55"/>
<circle cx="185.59" cy="391.58" r="0.32" fill="#7a80d8" opacity="0.55"/>
<circle cx="179.12" cy="379.37" r="0.32" fill="#7a80d8" opacity="0.55"/>
<circle cx="179.37" cy="382" r="0.32" fill="#7a80d8" opacity="0.55"/>
<circle cx="182.98" cy="379.38" r="0.32" fill="#7a80d8" opacity="0.55"/>
<circle cx="175.46" cy="394.49" r="0.32" fill="#7a80d8" opacity="0.55"/>
<circle cx="188.22" cy="383.68" r="0.32" fill="#7a80d8" opacity="0.55"/>
<circle cx="172.33" cy="392.96" r="0.32" fill="#7a80d8" opacity="0.55"/>
<circle cx="184.27" cy="384.56" r="0.32" fill="#7a80d8" opacity="0.55"/>
<circle cx="176.53" cy="385.88" r="0.32" fill="#7a80d8" opacity="0.55"/>
<circle cx="174.05" cy="385.94" r="0.32" fill="#7a80d8" opacity="0.55"/>
<circle cx="186.25" cy="392.1" r="0.32" fill="#7a80d8" opacity="0.55"/>
<circle cx="190.28" cy="388.61" r="0.32" fill="#7a80d8" opacity="0.55"/>
<circle cx="179.32" cy="384.58" r="0.32" fill="#7a80d8" opacity="0.55"/>
<circle cx="179.38" cy="383.09" r="0.32" fill="#7a80d8" opacity="0.55"/>
<circle cx="171.11" cy="392.14" r="0.32" fill="#7a80d8" opacity="0.55"/>
<circle cx="187.2" cy="392.77" r="0.32" fill="#7a80d8" opacity="0.55"/>
<circle cx="186.66" cy="390.14" r="0.32" fill="#7a80d8" opacity="0.55"/>
<circle cx="176.41" cy="389.39" r="0.32" fill="#7a80d8" opacity="0.55"/>
<ellipse cx="169.6" cy="386.8" rx="3.4" ry="9.5" fill="url(#blob)"/>
<rect x="173.5" y="375.5" width="18.4" height="21.2" fill="none" stroke="#555" stroke-width="0.5" />
<text transform="translate(176.4 358.4) rotate(0.03) scale(1.1 1)" font-size="3.1" text-anchor="middle" fill="#333" font-weight="bold" stroke="#333" stroke-width="0.22" >NCG</text>
<text transform="translate(182.7 370.9) rotate(0.03) scale(1.1 1)" font-size="2.6" text-anchor="middle" fill="#333" font-weight="bold" stroke="#333" stroke-width="0.22" >mCD11c</text>
<text transform="translate(182.7 373.9) rotate(0.03) scale(1.1 1)" font-size="2.6" text-anchor="middle" fill="#333" font-weight="bold" stroke="#333" stroke-width="0.22" >6.21</text>
<rect x="207.7" y="360.8" width="41.5" height="36.7" fill="#fff" stroke="#c4c4c4" stroke-width="0.45" />
<line x1="206.1" y1="362.8" x2="207.7" y2="362.8" stroke="#999" stroke-width="0.35" />
<line x1="206.1" y1="369.91" x2="207.7" y2="369.91" stroke="#999" stroke-width="0.35" />
<line x1="206.1" y1="377.02" x2="207.7" y2="377.02" stroke="#999" stroke-width="0.35" />
<line x1="206.1" y1="384.13" x2="207.7" y2="384.13" stroke="#999" stroke-width="0.35" />
<line x1="206.1" y1="391.23" x2="207.7" y2="391.23" stroke="#999" stroke-width="0.35" />
<line x1="211.7" y1="397.5" x2="211.7" y2="399" stroke="#999" stroke-width="0.35" />
<line x1="220.82" y1="397.5" x2="220.82" y2="399" stroke="#999" stroke-width="0.35" />
<line x1="229.95" y1="397.5" x2="229.95" y2="399" stroke="#999" stroke-width="0.35" />
<line x1="239.07" y1="397.5" x2="239.07" y2="399" stroke="#999" stroke-width="0.35" />
<line x1="248.2" y1="397.5" x2="248.2" y2="399" stroke="#999" stroke-width="0.35" />
<ellipse cx="222.4" cy="386" rx="7" ry="9" fill="url(#haze)"/>
<ellipse cx="229" cy="390" rx="4" ry="4" fill="url(#haze)"/>
<circle cx="226.5" cy="384.55" r="0.32" fill="#7a80d8" opacity="0.55"/>
<circle cx="221.23" cy="383.07" r="0.32" fill="#7a80d8" opacity="0.55"/>
<circle cx="227.98" cy="389.6" r="0.32" fill="#7a80d8" opacity="0.55"/>
<circle cx="226.1" cy="394.72" r="0.32" fill="#7a80d8" opacity="0.55"/>
<circle cx="228.72" cy="391.33" r="0.32" fill="#7a80d8" opacity="0.55"/>
<circle cx="232.87" cy="385.72" r="0.32" fill="#7a80d8" opacity="0.55"/>
<circle cx="220.12" cy="392.01" r="0.32" fill="#7a80d8" opacity="0.55"/>
<circle cx="225.25" cy="394.24" r="0.32" fill="#7a80d8" opacity="0.55"/>
<circle cx="229.35" cy="393.03" r="0.32" fill="#7a80d8" opacity="0.55"/>
<circle cx="231.05" cy="380.68" r="0.32" fill="#7a80d8" opacity="0.55"/>
<circle cx="230.88" cy="386.31" r="0.32" fill="#7a80d8" opacity="0.55"/>
<circle cx="224.98" cy="387.26" r="0.32" fill="#7a80d8" opacity="0.55"/>
<circle cx="231.07" cy="392.54" r="0.32" fill="#7a80d8" opacity="0.55"/>
<circle cx="232.05" cy="382.36" r="0.32" fill="#7a80d8" opacity="0.55"/>
<circle cx="225.64" cy="379.5" r="0.32" fill="#7a80d8" opacity="0.55"/>
<circle cx="227.59" cy="391.4" r="0.32" fill="#7a80d8" opacity="0.55"/>
<ellipse cx="222.4" cy="386.6" rx="4" ry="5.2" fill="url(#blob)"/>
<rect x="226.9" y="375.5" width="17.8" height="21.5" fill="none" stroke="#555" stroke-width="0.5" />
<text transform="translate(228.45 358.4) rotate(0.03) scale(1.1 1)" font-size="3.1" text-anchor="middle" fill="#333" font-weight="bold" stroke="#333" stroke-width="0.22" >NCG-MHC-dKO</text>
<text transform="translate(235.8 370.9) rotate(0.03) scale(1.1 1)" font-size="2.6" text-anchor="middle" fill="#333" font-weight="bold" stroke="#333" stroke-width="0.22" >mCD11c</text>
<text transform="translate(235.8 373.9) rotate(0.03) scale(1.1 1)" font-size="2.6" text-anchor="middle" fill="#333" font-weight="bold" stroke="#333" stroke-width="0.22" >5.60</text>
<line x1="148.6" y1="389" x2="148.6" y2="404.2" stroke="#222" stroke-width="0.7" />
<line x1="148.6" y1="404.2" x2="241.5" y2="404.2" stroke="#222" stroke-width="0.7" />
<polygon points="147.5,389.4 149.7,389.4 148.6,387" fill="#222"/>
<polygon points="241.1,403.1 241.1,405.3 243.5,404.2" fill="#222"/>
<text transform="translate(146 402.7) rotate(-89.97) scale(1.1 1)" font-size="2.9" text-anchor="start" fill="#333" font-weight="bold" stroke="#333" stroke-width="0.22" >SSC-A</text>
<text transform="translate(155.5 408.8) rotate(0.03) scale(1.1 1)" font-size="2.9" text-anchor="start" fill="#333" font-weight="bold" stroke="#333" stroke-width="0.22" >mCD11c</text>
<rect x="43.6" y="412.2" width="39.9" height="38" fill="#fff" stroke="#c4c4c4" stroke-width="0.45" />
<line x1="42" y1="414.2" x2="43.6" y2="414.2" stroke="#999" stroke-width="0.35" />
<line x1="42" y1="421.59" x2="43.6" y2="421.59" stroke="#999" stroke-width="0.35" />
<line x1="42" y1="428.98" x2="43.6" y2="428.98" stroke="#999" stroke-width="0.35" />
<line x1="42" y1="436.37" x2="43.6" y2="436.37" stroke="#999" stroke-width="0.35" />
<line x1="42" y1="443.77" x2="43.6" y2="443.77" stroke="#999" stroke-width="0.35" />
<line x1="47.6" y1="450.2" x2="47.6" y2="451.7" stroke="#999" stroke-width="0.35" />
<line x1="56.33" y1="450.2" x2="56.33" y2="451.7" stroke="#999" stroke-width="0.35" />
<line x1="65.05" y1="450.2" x2="65.05" y2="451.7" stroke="#999" stroke-width="0.35" />
<line x1="73.78" y1="450.2" x2="73.78" y2="451.7" stroke="#999" stroke-width="0.35" />
<line x1="82.5" y1="450.2" x2="82.5" y2="451.7" stroke="#999" stroke-width="0.35" />
<ellipse cx="68.5" cy="426" rx="5" ry="3" fill="url(#haze)"/>
<circle cx="66.51" cy="426.34" r="0.32" fill="#7a80d8" opacity="0.55"/>
<circle cx="69.1" cy="427.41" r="0.32" fill="#7a80d8" opacity="0.55"/>
<circle cx="66.36" cy="424.84" r="0.32" fill="#7a80d8" opacity="0.55"/>
<circle cx="66.52" cy="428.45" r="0.32" fill="#7a80d8" opacity="0.55"/>
<circle cx="71.34" cy="425.83" r="0.32" fill="#7a80d8" opacity="0.55"/>
<circle cx="69.09" cy="426.16" r="0.32" fill="#7a80d8" opacity="0.55"/>
<circle cx="69.03" cy="425.71" r="0.32" fill="#7a80d8" opacity="0.55"/>
<circle cx="67.63" cy="424.24" r="0.32" fill="#7a80d8" opacity="0.55"/>
<circle cx="66.83" cy="428.31" r="0.32" fill="#7a80d8" opacity="0.55"/>
<circle cx="69.9" cy="426.09" r="0.32" fill="#7a80d8" opacity="0.55"/>
<circle cx="67.94" cy="426.09" r="0.32" fill="#7a80d8" opacity="0.55"/>
<circle cx="69.42" cy="425.1" r="0.32" fill="#7a80d8" opacity="0.55"/>
<circle cx="69.01" cy="426.34" r="0.32" fill="#7a80d8" opacity="0.55"/>
<circle cx="66.55" cy="424.9" r="0.32" fill="#7a80d8" opacity="0.55"/>
<circle cx="65.9" cy="424.51" r="0.32" fill="#7a80d8" opacity="0.55"/>
<circle cx="70.81" cy="422.7" r="0.32" fill="#7a80d8" opacity="0.55"/>
<circle cx="67.81" cy="425.14" r="0.32" fill="#7a80d8" opacity="0.55"/>
<circle cx="66.89" cy="426.14" r="0.32" fill="#7a80d8" opacity="0.55"/>
<circle cx="71.43" cy="426.11" r="0.32" fill="#7a80d8" opacity="0.55"/>
<circle cx="68.14" cy="425.14" r="0.32" fill="#7a80d8" opacity="0.55"/>
<circle cx="68.16" cy="427.28" r="0.32" fill="#7a80d8" opacity="0.55"/>
<circle cx="67.48" cy="424.39" r="0.32" fill="#7a80d8" opacity="0.55"/>
<circle cx="65.21" cy="424.45" r="0.32" fill="#7a80d8" opacity="0.55"/>
<circle cx="64.89" cy="427.54" r="0.32" fill="#7a80d8" opacity="0.55"/>
<circle cx="69.42" cy="425.67" r="0.32" fill="#7a80d8" opacity="0.55"/>
<circle cx="72.29" cy="425.08" r="0.32" fill="#7a80d8" opacity="0.55"/>
<rect x="61.5" y="418.2" width="17.9" height="15.5" fill="none" stroke="#555" stroke-width="0.5" />
<text transform="translate(70.4 417) rotate(0.03) scale(1.1 1)" font-size="2.6" text-anchor="middle" fill="#333" font-weight="bold" stroke="#333" stroke-width="0.22" >MHC I</text>
<text transform="translate(70.4 420.2) rotate(0.03) scale(1.1 1)" font-size="2.6" text-anchor="middle" fill="#333" font-weight="bold" stroke="#333" stroke-width="0.22" >83.1</text>
<circle cx="56.6" cy="438.39" r="0.3" fill="#8a90e0" opacity="0.5"/>
<circle cx="56.64" cy="444.93" r="0.3" fill="#8a90e0" opacity="0.5"/>
<circle cx="55.26" cy="444.22" r="0.3" fill="#8a90e0" opacity="0.5"/>
<circle cx="56.73" cy="442.33" r="0.3" fill="#8a90e0" opacity="0.5"/>
<circle cx="56.84" cy="438.98" r="0.3" fill="#8a90e0" opacity="0.5"/>
<circle cx="55.69" cy="428.71" r="0.3" fill="#8a90e0" opacity="0.5"/>
<circle cx="55.74" cy="438.76" r="0.3" fill="#8a90e0" opacity="0.5"/>
<circle cx="54.55" cy="440.51" r="0.3" fill="#8a90e0" opacity="0.5"/>
<circle cx="56.39" cy="446.55" r="0.3" fill="#8a90e0" opacity="0.5"/>
<circle cx="57.67" cy="446.48" r="0.3" fill="#8a90e0" opacity="0.5"/>
<circle cx="54.62" cy="431.37" r="0.3" fill="#8a90e0" opacity="0.5"/>
<circle cx="55.67" cy="444.93" r="0.3" fill="#8a90e0" opacity="0.5"/>
<circle cx="56.46" cy="425.9" r="0.3" fill="#8a90e0" opacity="0.5"/>
<circle cx="55.42" cy="434.14" r="0.3" fill="#8a90e0" opacity="0.5"/>
<rect x="94.1" y="412.2" width="41.5" height="38" fill="#fff" stroke="#c4c4c4" stroke-width="0.45" />
<line x1="92.5" y1="414.2" x2="94.1" y2="414.2" stroke="#999" stroke-width="0.35" />
<line x1="92.5" y1="421.59" x2="94.1" y2="421.59" stroke="#999" stroke-width="0.35" />
<line x1="92.5" y1="428.98" x2="94.1" y2="428.98" stroke="#999" stroke-width="0.35" />
<line x1="92.5" y1="436.37" x2="94.1" y2="436.37" stroke="#999" stroke-width="0.35" />
<line x1="92.5" y1="443.77" x2="94.1" y2="443.77" stroke="#999" stroke-width="0.35" />
<line x1="98.1" y1="450.2" x2="98.1" y2="451.7" stroke="#999" stroke-width="0.35" />
<line x1="107.22" y1="450.2" x2="107.22" y2="451.7" stroke="#999" stroke-width="0.35" />
<line x1="116.35" y1="450.2" x2="116.35" y2="451.7" stroke="#999" stroke-width="0.35" />
<line x1="125.47" y1="450.2" x2="125.47" y2="451.7" stroke="#999" stroke-width="0.35" />
<line x1="134.6" y1="450.2" x2="134.6" y2="451.7" stroke="#999" stroke-width="0.35" />
<ellipse cx="107.6" cy="442.3" rx="4" ry="4.5" fill="url(#haze)"/>
<circle cx="105.16" cy="441.24" r="0.32" fill="#7a80d8" opacity="0.55"/>
<circle cx="107.24" cy="442.34" r="0.32" fill="#7a80d8" opacity="0.55"/>
<circle cx="107.8" cy="441.62" r="0.32" fill="#7a80d8" opacity="0.55"/>
<circle cx="107.88" cy="441.13" r="0.32" fill="#7a80d8" opacity="0.55"/>
<circle cx="106.26" cy="445.33" r="0.32" fill="#7a80d8" opacity="0.55"/>
<circle cx="108.14" cy="443.18" r="0.32" fill="#7a80d8" opacity="0.55"/>
<circle cx="105.21" cy="441.97" r="0.32" fill="#7a80d8" opacity="0.55"/>
<circle cx="108.83" cy="439.72" r="0.32" fill="#7a80d8" opacity="0.55"/>
<circle cx="109.25" cy="441.52" r="0.32" fill="#7a80d8" opacity="0.55"/>
<circle cx="108.2" cy="442.03" r="0.32" fill="#7a80d8" opacity="0.55"/>
<circle cx="107.93" cy="444.71" r="0.32" fill="#7a80d8" opacity="0.55"/>
<circle cx="106.99" cy="445.43" r="0.32" fill="#7a80d8" opacity="0.55"/>
<circle cx="106.43" cy="440.44" r="0.32" fill="#7a80d8" opacity="0.55"/>
<circle cx="108.67" cy="440.17" r="0.32" fill="#7a80d8" opacity="0.55"/>
<circle cx="107.04" cy="444.11" r="0.32" fill="#7a80d8" opacity="0.55"/>
<circle cx="109.42" cy="438.75" r="0.32" fill="#7a80d8" opacity="0.55"/>
<circle cx="108.36" cy="446.07" r="0.32" fill="#7a80d8" opacity="0.55"/>
<circle cx="109.39" cy="441.82" r="0.32" fill="#7a80d8" opacity="0.55"/>
<circle cx="106.7" cy="441.71" r="0.32" fill="#7a80d8" opacity="0.55"/>
<circle cx="105.87" cy="441.77" r="0.32" fill="#7a80d8" opacity="0.55"/>
<circle cx="107.32" cy="442.01" r="0.32" fill="#7a80d8" opacity="0.55"/>
<circle cx="109.37" cy="441.84" r="0.32" fill="#7a80d8" opacity="0.55"/>
<circle cx="105.41" cy="444.4" r="0.32" fill="#7a80d8" opacity="0.55"/>
<circle cx="105.99" cy="441.41" r="0.32" fill="#7a80d8" opacity="0.55"/>
<circle cx="107.4" cy="441.61" r="0.32" fill="#7a80d8" opacity="0.55"/>
<circle cx="106.1" cy="441.8" r="0.32" fill="#7a80d8" opacity="0.55"/>
<circle cx="110.88" cy="441.09" r="0.32" fill="#7a80d8" opacity="0.55"/>
<circle cx="107.4" cy="444.55" r="0.32" fill="#7a80d8" opacity="0.55"/>
<circle cx="108.72" cy="443.83" r="0.32" fill="#7a80d8" opacity="0.55"/>
<circle cx="108.89" cy="438.36" r="0.32" fill="#7a80d8" opacity="0.55"/>
<circle cx="106.3" cy="442.56" r="0.32" fill="#7a80d8" opacity="0.55"/>
<circle cx="108.35" cy="444.89" r="0.32" fill="#7a80d8" opacity="0.55"/>
<circle cx="108.3" cy="441.82" r="0.32" fill="#7a80d8" opacity="0.55"/>
<circle cx="107.66" cy="441.88" r="0.32" fill="#7a80d8" opacity="0.55"/>
<circle cx="107.97" cy="443.65" r="0.32" fill="#7a80d8" opacity="0.55"/>
<circle cx="107.09" cy="440.67" r="0.32" fill="#7a80d8" opacity="0.55"/>
<circle cx="106.32" cy="444.49" r="0.32" fill="#7a80d8" opacity="0.55"/>
<circle cx="109.52" cy="444.28" r="0.32" fill="#7a80d8" opacity="0.55"/>
<circle cx="108.89" cy="443.97" r="0.32" fill="#7a80d8" opacity="0.55"/>
<circle cx="107.6" cy="443.63" r="0.32" fill="#7a80d8" opacity="0.55"/>
<rect x="113.3" y="418.2" width="18.3" height="15.5" fill="none" stroke="#555" stroke-width="0.5" />
<text transform="translate(122.4 417) rotate(0.03) scale(1.1 1)" font-size="2.6" text-anchor="middle" fill="#333" font-weight="bold" stroke="#333" stroke-width="0.22" >MHC I</text>
<text transform="translate(122.4 420.2) rotate(0.03) scale(1.1 1)" font-size="2.6" text-anchor="middle" fill="#333" font-weight="bold" stroke="#333" stroke-width="0.22" >0</text>
<line x1="35.8" y1="441" x2="35.8" y2="455.5" stroke="#222" stroke-width="0.7" />
<line x1="35.8" y1="455.5" x2="129.5" y2="455.5" stroke="#222" stroke-width="0.7" />
<polygon points="34.7,441.4 36.9,441.4 35.8,439" fill="#222"/>
<polygon points="129.1,454.4 129.1,456.6 131.5,455.5" fill="#222"/>
<text transform="translate(33.2 454) rotate(-89.97) scale(1.1 1)" font-size="2.9" text-anchor="start" fill="#333" font-weight="bold" stroke="#333" stroke-width="0.22" >mH-2Kd</text>
<text transform="translate(42.5 460.1) rotate(0.03) scale(1.1 1)" font-size="2.9" text-anchor="start" fill="#333" font-weight="bold" stroke="#333" stroke-width="0.22" >mH2-Db</text>
<rect x="156" y="412.2" width="41.4" height="38.3" fill="#fff" stroke="#c4c4c4" stroke-width="0.45" />
<line x1="154.4" y1="414.2" x2="156" y2="414.2" stroke="#999" stroke-width="0.35" />
<line x1="154.4" y1="421.66" x2="156" y2="421.66" stroke="#999" stroke-width="0.35" />
<line x1="154.4" y1="429.11" x2="156" y2="429.11" stroke="#999" stroke-width="0.35" />
<line x1="154.4" y1="436.57" x2="156" y2="436.57" stroke="#999" stroke-width="0.35" />
<line x1="154.4" y1="444.03" x2="156" y2="444.03" stroke="#999" stroke-width="0.35" />
<line x1="160" y1="450.5" x2="160" y2="452" stroke="#999" stroke-width="0.35" />
<line x1="169.1" y1="450.5" x2="169.1" y2="452" stroke="#999" stroke-width="0.35" />
<line x1="178.2" y1="450.5" x2="178.2" y2="452" stroke="#999" stroke-width="0.35" />
<line x1="187.3" y1="450.5" x2="187.3" y2="452" stroke="#999" stroke-width="0.35" />
<line x1="196.4" y1="450.5" x2="196.4" y2="452" stroke="#999" stroke-width="0.35" />
<ellipse cx="167" cy="441" rx="7" ry="9" fill="url(#haze)"/>
<ellipse cx="183" cy="443" rx="7" ry="4" fill="url(#haze)"/>
<circle cx="163.92" cy="440.09" r="0.32" fill="#7a80d8" opacity="0.55"/>
<circle cx="165.01" cy="444.27" r="0.32" fill="#7a80d8" opacity="0.55"/>
<circle cx="165.53" cy="440.51" r="0.32" fill="#7a80d8" opacity="0.55"/>
<circle cx="168.86" cy="447.1" r="0.32" fill="#7a80d8" opacity="0.55"/>
<circle cx="164.81" cy="436.78" r="0.32" fill="#7a80d8" opacity="0.55"/>
<circle cx="170.28" cy="436.02" r="0.32" fill="#7a80d8" opacity="0.55"/>
<circle cx="169.04" cy="438.43" r="0.32" fill="#7a80d8" opacity="0.55"/>
<circle cx="167.14" cy="432.81" r="0.32" fill="#7a80d8" opacity="0.55"/>
<circle cx="169.93" cy="438.75" r="0.32" fill="#7a80d8" opacity="0.55"/>
<circle cx="168.89" cy="439.43" r="0.32" fill="#7a80d8" opacity="0.55"/>
<circle cx="167.87" cy="448.23" r="0.32" fill="#7a80d8" opacity="0.55"/>
<circle cx="167.41" cy="443.03" r="0.32" fill="#7a80d8" opacity="0.55"/>
<circle cx="169.26" cy="436.9" r="0.32" fill="#7a80d8" opacity="0.55"/>
<circle cx="167.94" cy="438.74" r="0.32" fill="#7a80d8" opacity="0.55"/>
<circle cx="163.27" cy="444.92" r="0.32" fill="#7a80d8" opacity="0.55"/>
<circle cx="169.76" cy="441.34" r="0.32" fill="#7a80d8" opacity="0.55"/>
<circle cx="164.41" cy="431.97" r="0.32" fill="#7a80d8" opacity="0.55"/>
<circle cx="169.15" cy="440.56" r="0.32" fill="#7a80d8" opacity="0.55"/>
<circle cx="161.77" cy="440.73" r="0.32" fill="#7a80d8" opacity="0.55"/>
<circle cx="162.33" cy="440.88" r="0.32" fill="#7a80d8" opacity="0.55"/>
<circle cx="167.99" cy="442.6" r="0.32" fill="#7a80d8" opacity="0.55"/>
<circle cx="168.24" cy="441.77" r="0.32" fill="#7a80d8" opacity="0.55"/>
<circle cx="163.62" cy="439.27" r="0.32" fill="#7a80d8" opacity="0.55"/>
<circle cx="165.76" cy="439.94" r="0.32" fill="#7a80d8" opacity="0.55"/>
<circle cx="168.42" cy="443.79" r="0.32" fill="#7a80d8" opacity="0.55"/>
<circle cx="173.06" cy="429.44" r="0.32" fill="#7a80d8" opacity="0.55"/>
<circle cx="168.86" cy="440.11" r="0.32" fill="#7a80d8" opacity="0.55"/>
<circle cx="175.24" cy="445.2" r="0.32" fill="#7a80d8" opacity="0.55"/>
<circle cx="161.88" cy="442.81" r="0.32" fill="#7a80d8" opacity="0.55"/>
<circle cx="165.73" cy="445.47" r="0.32" fill="#7a80d8" opacity="0.55"/>
<circle cx="163.91" cy="440.54" r="0.32" fill="#7a80d8" opacity="0.55"/>
<circle cx="167.05" cy="440.56" r="0.32" fill="#7a80d8" opacity="0.55"/>
<circle cx="165.51" cy="432.73" r="0.32" fill="#7a80d8" opacity="0.55"/>
<circle cx="169.07" cy="445.5" r="0.32" fill="#7a80d8" opacity="0.55"/>
<circle cx="167.27" cy="436.42" r="0.32" fill="#7a80d8" opacity="0.55"/>
<circle cx="168.19" cy="443.54" r="0.32" fill="#7a80d8" opacity="0.55"/>
<circle cx="166.9" cy="440.94" r="0.32" fill="#7a80d8" opacity="0.55"/>
<circle cx="172.29" cy="435.97" r="0.32" fill="#7a80d8" opacity="0.55"/>
<circle cx="165.6" cy="432.42" r="0.32" fill="#7a80d8" opacity="0.55"/>
<circle cx="165.12" cy="437.67" r="0.32" fill="#7a80d8" opacity="0.55"/>
<circle cx="164.24" cy="437.88" r="0.32" fill="#7a80d8" opacity="0.55"/>
<circle cx="173.61" cy="440.12" r="0.32" fill="#7a80d8" opacity="0.55"/>
<circle cx="167.29" cy="433.2" r="0.32" fill="#7a80d8" opacity="0.55"/>
<circle cx="168.87" cy="436.78" r="0.32" fill="#7a80d8" opacity="0.55"/>
<circle cx="173.07" cy="435.39" r="0.32" fill="#7a80d8" opacity="0.55"/>
<circle cx="165.53" cy="433.77" r="0.32" fill="#7a80d8" opacity="0.55"/>
<circle cx="167.83" cy="436.43" r="0.32" fill="#7a80d8" opacity="0.55"/>
<circle cx="167.28" cy="439.3" r="0.32" fill="#7a80d8" opacity="0.55"/>
<circle cx="165.42" cy="445.24" r="0.32" fill="#7a80d8" opacity="0.55"/>
<circle cx="170.68" cy="441.28" r="0.32" fill="#7a80d8" opacity="0.55"/>
<circle cx="164.44" cy="436.18" r="0.32" fill="#7a80d8" opacity="0.55"/>
<circle cx="165.95" cy="437.47" r="0.32" fill="#7a80d8" opacity="0.55"/>
<circle cx="165.13" cy="436.07" r="0.32" fill="#7a80d8" opacity="0.55"/>
<circle cx="164.19" cy="440.08" r="0.32" fill="#7a80d8" opacity="0.55"/>
<circle cx="172.38" cy="441" r="0.32" fill="#7a80d8" opacity="0.55"/>
<circle cx="165.76" cy="433.73" r="0.32" fill="#7a80d8" opacity="0.55"/>
<circle cx="168.22" cy="440.88" r="0.32" fill="#7a80d8" opacity="0.55"/>
<circle cx="163.33" cy="436.11" r="0.32" fill="#7a80d8" opacity="0.55"/>
<circle cx="167.36" cy="445.56" r="0.32" fill="#7a80d8" opacity="0.55"/>
<circle cx="169.63" cy="441.93" r="0.32" fill="#7a80d8" opacity="0.55"/>
<circle cx="166.4" cy="442.44" r="0.32" fill="#7a80d8" opacity="0.55"/>
<circle cx="163.65" cy="439.34" r="0.32" fill="#7a80d8" opacity="0.55"/>
<circle cx="171.81" cy="439.8" r="0.32" fill="#7a80d8" opacity="0.55"/>
<circle cx="172.34" cy="440.8" r="0.32" fill="#7a80d8" opacity="0.55"/>
<circle cx="167.99" cy="439.33" r="0.32" fill="#7a80d8" opacity="0.55"/>
<circle cx="162.81" cy="436.63" r="0.32" fill="#7a80d8" opacity="0.55"/>
<circle cx="175.03" cy="443.9" r="0.32" fill="#7a80d8" opacity="0.55"/>
<circle cx="169.56" cy="445.29" r="0.32" fill="#7a80d8" opacity="0.55"/>
<circle cx="169.44" cy="445.6" r="0.32" fill="#7a80d8" opacity="0.55"/>
<circle cx="166.6" cy="439.99" r="0.32" fill="#7a80d8" opacity="0.55"/>
<circle cx="170.84" cy="439.41" r="0.32" fill="#7a80d8" opacity="0.55"/>
<circle cx="162.98" cy="439.98" r="0.32" fill="#7a80d8" opacity="0.55"/>
<circle cx="165.65" cy="443.76" r="0.32" fill="#7a80d8" opacity="0.55"/>
<circle cx="165.05" cy="436.22" r="0.32" fill="#7a80d8" opacity="0.55"/>
<circle cx="166.37" cy="447.99" r="0.32" fill="#7a80d8" opacity="0.55"/>
<circle cx="167.34" cy="441.72" r="0.32" fill="#7a80d8" opacity="0.55"/>
<circle cx="167.53" cy="442.33" r="0.32" fill="#7a80d8" opacity="0.55"/>
<circle cx="170.66" cy="447.28" r="0.32" fill="#7a80d8" opacity="0.55"/>
<circle cx="161.91" cy="447.13" r="0.32" fill="#7a80d8" opacity="0.55"/>
<circle cx="167.49" cy="439.56" r="0.32" fill="#7a80d8" opacity="0.55"/>
<circle cx="175.65" cy="440.24" r="0.32" fill="#7a80d8" opacity="0.55"/>
<circle cx="174.11" cy="445.36" r="0.32" fill="#7a80d8" opacity="0.55"/>
<circle cx="164" cy="443.2" r="0.32" fill="#7a80d8" opacity="0.55"/>
<circle cx="170.01" cy="440.44" r="0.32" fill="#7a80d8" opacity="0.55"/>
<circle cx="159.58" cy="439.45" r="0.32" fill="#7a80d8" opacity="0.55"/>
<circle cx="166.85" cy="436.02" r="0.32" fill="#7a80d8" opacity="0.55"/>
<circle cx="173.71" cy="439.9" r="0.32" fill="#7a80d8" opacity="0.55"/>
<circle cx="166.16" cy="439.65" r="0.32" fill="#7a80d8" opacity="0.55"/>
<circle cx="164.84" cy="437.51" r="0.32" fill="#7a80d8" opacity="0.55"/>
<circle cx="167.82" cy="442.41" r="0.32" fill="#7a80d8" opacity="0.55"/>
<circle cx="165.78" cy="440.59" r="0.32" fill="#7a80d8" opacity="0.55"/>
<circle cx="162.77" cy="443.35" r="0.32" fill="#7a80d8" opacity="0.55"/>
<circle cx="164.95" cy="441.97" r="0.32" fill="#7a80d8" opacity="0.55"/>
<circle cx="164.42" cy="438.68" r="0.32" fill="#7a80d8" opacity="0.55"/>
<circle cx="168.23" cy="435.55" r="0.32" fill="#7a80d8" opacity="0.55"/>
<circle cx="175.9" cy="440.83" r="0.32" fill="#7a80d8" opacity="0.55"/>
<circle cx="167.25" cy="437.7" r="0.32" fill="#7a80d8" opacity="0.55"/>
<circle cx="172.92" cy="447.24" r="0.32" fill="#7a80d8" opacity="0.55"/>
<circle cx="168.52" cy="434.84" r="0.32" fill="#7a80d8" opacity="0.55"/>
<circle cx="165.79" cy="443.77" r="0.32" fill="#7a80d8" opacity="0.55"/>
<circle cx="165.76" cy="435.67" r="0.32" fill="#7a80d8" opacity="0.55"/>
<circle cx="163.46" cy="437.53" r="0.32" fill="#7a80d8" opacity="0.55"/>
<circle cx="167.55" cy="438.08" r="0.32" fill="#7a80d8" opacity="0.55"/>
<circle cx="173.53" cy="436.33" r="0.32" fill="#7a80d8" opacity="0.55"/>
<rect x="174.3" y="428" width="20.4" height="21.7" fill="none" stroke="#555" stroke-width="0.5" />
<text transform="translate(184.5 423.4) rotate(0.03) scale(1.1 1)" font-size="2.6" text-anchor="middle" fill="#333" font-weight="bold" stroke="#333" stroke-width="0.22" >MHC II</text>
<text transform="translate(184.5 426.4) rotate(0.03) scale(1.1 1)" font-size="2.6" text-anchor="middle" fill="#333" font-weight="bold" stroke="#333" stroke-width="0.22" >15.8</text>
<circle cx="184.2" cy="443.67" r="0.3" fill="#8a90e0" opacity="0.5"/>
<circle cx="182.52" cy="445.59" r="0.3" fill="#8a90e0" opacity="0.5"/>
<circle cx="181.84" cy="442.85" r="0.3" fill="#8a90e0" opacity="0.5"/>
<circle cx="181.69" cy="443.3" r="0.3" fill="#8a90e0" opacity="0.5"/>
<circle cx="187.5" cy="445.05" r="0.3" fill="#8a90e0" opacity="0.5"/>
<circle cx="178.31" cy="442.62" r="0.3" fill="#8a90e0" opacity="0.5"/>
<circle cx="180.21" cy="445.13" r="0.3" fill="#8a90e0" opacity="0.5"/>
<circle cx="183.79" cy="445.28" r="0.3" fill="#8a90e0" opacity="0.5"/>
<circle cx="182.78" cy="439.68" r="0.3" fill="#8a90e0" opacity="0.5"/>
<circle cx="184.58" cy="443.95" r="0.3" fill="#8a90e0" opacity="0.5"/>
<circle cx="184.78" cy="440.89" r="0.3" fill="#8a90e0" opacity="0.5"/>
<circle cx="183.28" cy="442.12" r="0.3" fill="#8a90e0" opacity="0.5"/>
<circle cx="180.6" cy="444.21" r="0.3" fill="#8a90e0" opacity="0.5"/>
<circle cx="184.23" cy="441.72" r="0.3" fill="#8a90e0" opacity="0.5"/>
<circle cx="177.01" cy="438.55" r="0.3" fill="#8a90e0" opacity="0.5"/>
<circle cx="180.99" cy="445.74" r="0.3" fill="#8a90e0" opacity="0.5"/>
<circle cx="182.81" cy="439" r="0.3" fill="#8a90e0" opacity="0.5"/>
<circle cx="179.98" cy="444.34" r="0.3" fill="#8a90e0" opacity="0.5"/>
<circle cx="188.85" cy="445.84" r="0.3" fill="#8a90e0" opacity="0.5"/>
<circle cx="184.28" cy="443.89" r="0.3" fill="#8a90e0" opacity="0.5"/>
<circle cx="179.29" cy="442.6" r="0.3" fill="#8a90e0" opacity="0.5"/>
<circle cx="181.83" cy="441.95" r="0.3" fill="#8a90e0" opacity="0.5"/>
<circle cx="183.22" cy="442.71" r="0.3" fill="#8a90e0" opacity="0.5"/>
<circle cx="184.18" cy="446.37" r="0.3" fill="#8a90e0" opacity="0.5"/>
<circle cx="185.59" cy="444.34" r="0.3" fill="#8a90e0" opacity="0.5"/>
<circle cx="182.16" cy="440.46" r="0.3" fill="#8a90e0" opacity="0.5"/>
<circle cx="182.6" cy="444.59" r="0.3" fill="#8a90e0" opacity="0.5"/>
<circle cx="179.47" cy="446.01" r="0.3" fill="#8a90e0" opacity="0.5"/>
<circle cx="181.83" cy="444.24" r="0.3" fill="#8a90e0" opacity="0.5"/>
<circle cx="181.85" cy="440.99" r="0.3" fill="#8a90e0" opacity="0.5"/>
<rect x="208.2" y="412.2" width="41" height="38.3" fill="#fff" stroke="#c4c4c4" stroke-width="0.45" />
<line x1="206.6" y1="414.2" x2="208.2" y2="414.2" stroke="#999" stroke-width="0.35" />
<line x1="206.6" y1="421.66" x2="208.2" y2="421.66" stroke="#999" stroke-width="0.35" />
<line x1="206.6" y1="429.11" x2="208.2" y2="429.11" stroke="#999" stroke-width="0.35" />
<line x1="206.6" y1="436.57" x2="208.2" y2="436.57" stroke="#999" stroke-width="0.35" />
<line x1="206.6" y1="444.03" x2="208.2" y2="444.03" stroke="#999" stroke-width="0.35" />
<line x1="212.2" y1="450.5" x2="212.2" y2="452" stroke="#999" stroke-width="0.35" />
<line x1="221.2" y1="450.5" x2="221.2" y2="452" stroke="#999" stroke-width="0.35" />
<line x1="230.2" y1="450.5" x2="230.2" y2="452" stroke="#999" stroke-width="0.35" />
<line x1="239.2" y1="450.5" x2="239.2" y2="452" stroke="#999" stroke-width="0.35" />
<line x1="248.2" y1="450.5" x2="248.2" y2="452" stroke="#999" stroke-width="0.35" />
<ellipse cx="217.5" cy="439" rx="4.5" ry="8" fill="url(#haze)"/>
<circle cx="221.22" cy="434.77" r="0.32" fill="#7a80d8" opacity="0.55"/>
<circle cx="219.15" cy="437.5" r="0.32" fill="#7a80d8" opacity="0.55"/>
<circle cx="218" cy="436.37" r="0.32" fill="#7a80d8" opacity="0.55"/>
<circle cx="216.75" cy="444.14" r="0.32" fill="#7a80d8" opacity="0.55"/>
<circle cx="221" cy="436.19" r="0.32" fill="#7a80d8" opacity="0.55"/>
<circle cx="217.52" cy="444.26" r="0.32" fill="#7a80d8" opacity="0.55"/>
<circle cx="216.36" cy="443.2" r="0.32" fill="#7a80d8" opacity="0.55"/>
<circle cx="216.09" cy="442.72" r="0.32" fill="#7a80d8" opacity="0.55"/>
<circle cx="218.29" cy="445.45" r="0.32" fill="#7a80d8" opacity="0.55"/>
<circle cx="218.15" cy="434.63" r="0.32" fill="#7a80d8" opacity="0.55"/>
<circle cx="218.7" cy="435.04" r="0.32" fill="#7a80d8" opacity="0.55"/>
<circle cx="218.85" cy="446.8" r="0.32" fill="#7a80d8" opacity="0.55"/>
<circle cx="218.57" cy="437.51" r="0.32" fill="#7a80d8" opacity="0.55"/>
<circle cx="219.65" cy="440.75" r="0.32" fill="#7a80d8" opacity="0.55"/>
<circle cx="215.26" cy="438.4" r="0.32" fill="#7a80d8" opacity="0.55"/>
<circle cx="220.05" cy="438.63" r="0.32" fill="#7a80d8" opacity="0.55"/>
<circle cx="217.72" cy="438.46" r="0.32" fill="#7a80d8" opacity="0.55"/>
<circle cx="214.47" cy="437.7" r="0.32" fill="#7a80d8" opacity="0.55"/>
<circle cx="218.14" cy="440.94" r="0.32" fill="#7a80d8" opacity="0.55"/>
<circle cx="217.19" cy="430.39" r="0.32" fill="#7a80d8" opacity="0.55"/>
<circle cx="219.7" cy="443.24" r="0.32" fill="#7a80d8" opacity="0.55"/>
<circle cx="219.34" cy="445.85" r="0.32" fill="#7a80d8" opacity="0.55"/>
<circle cx="216.7" cy="437.28" r="0.32" fill="#7a80d8" opacity="0.55"/>
<circle cx="218.07" cy="447.53" r="0.32" fill="#7a80d8" opacity="0.55"/>
<circle cx="214.47" cy="438.97" r="0.32" fill="#7a80d8" opacity="0.55"/>
<circle cx="216.21" cy="442.52" r="0.32" fill="#7a80d8" opacity="0.55"/>
<circle cx="220.14" cy="438.67" r="0.32" fill="#7a80d8" opacity="0.55"/>
<circle cx="215.27" cy="440.22" r="0.32" fill="#7a80d8" opacity="0.55"/>
<circle cx="216.99" cy="433.06" r="0.32" fill="#7a80d8" opacity="0.55"/>
<circle cx="219.09" cy="437.64" r="0.32" fill="#7a80d8" opacity="0.55"/>
<circle cx="218.73" cy="434.08" r="0.32" fill="#7a80d8" opacity="0.55"/>
<circle cx="219.47" cy="433.51" r="0.32" fill="#7a80d8" opacity="0.55"/>
<circle cx="219.4" cy="431.85" r="0.32" fill="#7a80d8" opacity="0.55"/>
<circle cx="219.98" cy="438.31" r="0.32" fill="#7a80d8" opacity="0.55"/>
<circle cx="214.7" cy="438.94" r="0.32" fill="#7a80d8" opacity="0.55"/>
<circle cx="218.11" cy="435.54" r="0.32" fill="#7a80d8" opacity="0.55"/>
<circle cx="216.61" cy="441.21" r="0.32" fill="#7a80d8" opacity="0.55"/>
<circle cx="217.2" cy="426.21" r="0.32" fill="#7a80d8" opacity="0.55"/>
<circle cx="216.73" cy="441.92" r="0.32" fill="#7a80d8" opacity="0.55"/>
<circle cx="218.04" cy="444.54" r="0.32" fill="#7a80d8" opacity="0.55"/>
<circle cx="218.94" cy="441.4" r="0.32" fill="#7a80d8" opacity="0.55"/>
<circle cx="219.45" cy="444.29" r="0.32" fill="#7a80d8" opacity="0.55"/>
<circle cx="217.68" cy="437.21" r="0.32" fill="#7a80d8" opacity="0.55"/>
<circle cx="219.34" cy="441.9" r="0.32" fill="#7a80d8" opacity="0.55"/>
<circle cx="214.09" cy="435.03" r="0.32" fill="#7a80d8" opacity="0.55"/>
<circle cx="218.34" cy="440.49" r="0.32" fill="#7a80d8" opacity="0.55"/>
<circle cx="218" cy="442.89" r="0.32" fill="#7a80d8" opacity="0.55"/>
<circle cx="217.76" cy="447.12" r="0.32" fill="#7a80d8" opacity="0.55"/>
<circle cx="216.44" cy="438.2" r="0.32" fill="#7a80d8" opacity="0.55"/>
<circle cx="218.08" cy="443.35" r="0.32" fill="#7a80d8" opacity="0.55"/>
<circle cx="218.92" cy="446.69" r="0.32" fill="#7a80d8" opacity="0.55"/>
<circle cx="216.64" cy="445.25" r="0.32" fill="#7a80d8" opacity="0.55"/>
<circle cx="218.34" cy="435.31" r="0.32" fill="#7a80d8" opacity="0.55"/>
<circle cx="217.25" cy="449.38" r="0.32" fill="#7a80d8" opacity="0.55"/>
<rect x="224.3" y="428" width="19.6" height="21.7" fill="none" stroke="#555" stroke-width="0.5" />
<text transform="translate(234.1 423.4) rotate(0.03) scale(1.1 1)" font-size="2.6" text-anchor="middle" fill="#333" font-weight="bold" stroke="#333" stroke-width="0.22" >MHC II</text>
<text transform="translate(234.1 426.4) rotate(0.03) scale(1.1 1)" font-size="2.6" text-anchor="middle" fill="#333" font-weight="bold" stroke="#333" stroke-width="0.22" >0</text>
<line x1="148.6" y1="441" x2="148.6" y2="455.7" stroke="#222" stroke-width="0.7" />
<line x1="148.6" y1="455.7" x2="241" y2="455.7" stroke="#222" stroke-width="0.7" />
<polygon points="147.5,441.4 149.7,441.4 148.6,439" fill="#222"/>
<polygon points="240.6,454.6 240.6,456.8 243,455.7" fill="#222"/>
<text transform="translate(146 454.2) rotate(-89.97) scale(1.1 1)" font-size="2.9" text-anchor="start" fill="#333" font-weight="bold" stroke="#333" stroke-width="0.22" >SSC-A</text>
<text transform="translate(155.5 460.3) rotate(0.03) scale(1.1 1)" font-size="2.9" text-anchor="start" fill="#333" font-weight="bold" stroke="#333" stroke-width="0.22" >mI-AK</text>
<line x1="304.2" y1="131.9" x2="304.2" y2="191.7" stroke="#333" stroke-width="0.8" />
<line x1="303.8" y1="191.7" x2="387.29" y2="191.7" stroke="#333" stroke-width="0.8" />
<line x1="302.7" y1="191.7" x2="304.2" y2="191.7" stroke="#222" stroke-width="0.6" />
<text transform="translate(302 193) rotate(0.03) scale(1.1 1)" font-size="3.6" text-anchor="end" fill="#222" font-weight="bold" stroke="#222" stroke-width="0.22" >0</text>
<line x1="302.7" y1="179.8" x2="304.2" y2="179.8" stroke="#222" stroke-width="0.6" />
<text transform="translate(302 181.1) rotate(0.03) scale(1.1 1)" font-size="3.6" text-anchor="end" fill="#222" font-weight="bold" stroke="#222" stroke-width="0.22" >20</text>
<line x1="302.7" y1="167.9" x2="304.2" y2="167.9" stroke="#222" stroke-width="0.6" />
<text transform="translate(302 169.2) rotate(0.03) scale(1.1 1)" font-size="3.6" text-anchor="end" fill="#222" font-weight="bold" stroke="#222" stroke-width="0.22" >40</text>
<line x1="302.7" y1="156" x2="304.2" y2="156" stroke="#222" stroke-width="0.6" />
<text transform="translate(302 157.3) rotate(0.03) scale(1.1 1)" font-size="3.6" text-anchor="end" fill="#222" font-weight="bold" stroke="#222" stroke-width="0.22" >60</text>
<line x1="302.7" y1="144.1" x2="304.2" y2="144.1" stroke="#222" stroke-width="0.6" />
<text transform="translate(302 145.4) rotate(0.03) scale(1.1 1)" font-size="3.6" text-anchor="end" fill="#222" font-weight="bold" stroke="#222" stroke-width="0.22" >80</text>
<line x1="302.7" y1="132.2" x2="304.2" y2="132.2" stroke="#222" stroke-width="0.6" />
<text transform="translate(302 133.5) rotate(0.03) scale(1.1 1)" font-size="3.6" text-anchor="end" fill="#222" font-weight="bold" stroke="#222" stroke-width="0.22" >100</text>
<line x1="304.2" y1="191.7" x2="304.2" y2="193.2" stroke="#222" stroke-width="0.6" />
<text transform="translate(304.2 196.62) rotate(0.03) scale(1.1 1)" font-size="3.6" text-anchor="middle" fill="#222" font-weight="bold" stroke="#222" stroke-width="0.22" >0</text>
<line x1="316.07" y1="191.7" x2="316.07" y2="193.2" stroke="#222" stroke-width="0.6" />
<text transform="translate(316.07 196.62) rotate(0.03) scale(1.1 1)" font-size="3.6" text-anchor="middle" fill="#222" font-weight="bold" stroke="#222" stroke-width="0.22" >10</text>
<line x1="327.94" y1="191.7" x2="327.94" y2="193.2" stroke="#222" stroke-width="0.6" />
<text transform="translate(327.94 196.62) rotate(0.03) scale(1.1 1)" font-size="3.6" text-anchor="middle" fill="#222" font-weight="bold" stroke="#222" stroke-width="0.22" >20</text>
<line x1="339.81" y1="191.7" x2="339.81" y2="193.2" stroke="#222" stroke-width="0.6" />
<text transform="translate(339.81 196.62) rotate(0.03) scale(1.1 1)" font-size="3.6" text-anchor="middle" fill="#222" font-weight="bold" stroke="#222" stroke-width="0.22" >30</text>
<line x1="351.68" y1="191.7" x2="351.68" y2="193.2" stroke="#222" stroke-width="0.6" />
<text transform="translate(351.68 196.62) rotate(0.03) scale(1.1 1)" font-size="3.6" text-anchor="middle" fill="#222" font-weight="bold" stroke="#222" stroke-width="0.22" >40</text>
<line x1="363.55" y1="191.7" x2="363.55" y2="193.2" stroke="#222" stroke-width="0.6" />
<text transform="translate(363.55 196.62) rotate(0.03) scale(1.1 1)" font-size="3.6" text-anchor="middle" fill="#222" font-weight="bold" stroke="#222" stroke-width="0.22" >50</text>
<line x1="375.42" y1="191.7" x2="375.42" y2="193.2" stroke="#222" stroke-width="0.6" />
<text transform="translate(375.42 196.62) rotate(0.03) scale(1.1 1)" font-size="3.6" text-anchor="middle" fill="#222" font-weight="bold" stroke="#222" stroke-width="0.22" >60</text>
<line x1="387.29" y1="191.7" x2="387.29" y2="193.2" stroke="#222" stroke-width="0.6" />
<text transform="translate(387.29 196.62) rotate(0.03) scale(1.1 1)" font-size="3.6" text-anchor="middle" fill="#222" font-weight="bold" stroke="#222" stroke-width="0.22" >70</text>
<polyline points="304.2,132.2 319.63,132.2 319.63,139.34 322,139.34 322,147.07 333.88,147.07 333.88,161.95 337.44,161.95 337.44,169.09 339.81,169.09 339.81,176.82 358.8,176.82 358.8,184.26 362.36,184.26 362.36,191.7" fill="none" stroke="#444" stroke-width="0.8" stroke-linejoin="round" />
<polyline points="319.63,132.2 350.49,132.2 350.49,139.64 383.73,139.64" fill="none" stroke="#ee5a64" stroke-width="0.9" stroke-linejoin="round" />
<text transform="translate(379.5 142.4) rotate(0.03) scale(1.1 1)" font-size="2.6" text-anchor="middle" fill="#444" font-weight="bold" stroke="#444" stroke-width="0.22" >***</text>
<text transform="translate(292.9 160.7) rotate(-89.97) scale(1.1 1)" font-size="3.3" text-anchor="middle" fill="#333" font-weight="bold" stroke="#333" stroke-width="0.22" >Survival Rate (%)</text>
<text transform="translate(345.7 202.6) rotate(0.03) scale(1.1 1)" font-size="3.5" text-anchor="middle" fill="#333" font-weight="bold" stroke="#333" stroke-width="0.22" >Days Post Inoculation</text>
<line x1="409.2" y1="132.38" x2="409.2" y2="191.3" stroke="#333" stroke-width="0.8" />
<line x1="408.8" y1="191.3" x2="491.8" y2="191.3" stroke="#333" stroke-width="0.8" />
<line x1="407.7" y1="191.3" x2="409.2" y2="191.3" stroke="#222" stroke-width="0.6" />
<text transform="translate(407 192.6) rotate(0.03) scale(1.1 1)" font-size="3.6" text-anchor="end" fill="#222" font-weight="bold" stroke="#222" stroke-width="0.22" >0</text>
<line x1="407.7" y1="171.76" x2="409.2" y2="171.76" stroke="#222" stroke-width="0.6" />
<text transform="translate(407 173.06) rotate(0.03) scale(1.1 1)" font-size="3.6" text-anchor="end" fill="#222" font-weight="bold" stroke="#222" stroke-width="0.22" >2</text>
<line x1="407.7" y1="152.22" x2="409.2" y2="152.22" stroke="#222" stroke-width="0.6" />
<text transform="translate(407 153.52) rotate(0.03) scale(1.1 1)" font-size="3.6" text-anchor="end" fill="#222" font-weight="bold" stroke="#222" stroke-width="0.22" >4</text>
<line x1="407.7" y1="132.68" x2="409.2" y2="132.68" stroke="#222" stroke-width="0.6" />
<text transform="translate(407 133.98) rotate(0.03) scale(1.1 1)" font-size="3.6" text-anchor="end" fill="#222" font-weight="bold" stroke="#222" stroke-width="0.22" >6</text>
<line x1="409.2" y1="191.3" x2="409.2" y2="192.8" stroke="#222" stroke-width="0.6" />
<text transform="translate(409.2 196.22) rotate(0.03) scale(1.1 1)" font-size="3.6" text-anchor="middle" fill="#222" font-weight="bold" stroke="#222" stroke-width="0.22" >0</text>
<line x1="421" y1="191.3" x2="421" y2="192.8" stroke="#222" stroke-width="0.6" />
<text transform="translate(421 196.22) rotate(0.03) scale(1.1 1)" font-size="3.6" text-anchor="middle" fill="#222" font-weight="bold" stroke="#222" stroke-width="0.22" >10</text>
<line x1="432.8" y1="191.3" x2="432.8" y2="192.8" stroke="#222" stroke-width="0.6" />
<text transform="translate(432.8 196.22) rotate(0.03) scale(1.1 1)" font-size="3.6" text-anchor="middle" fill="#222" font-weight="bold" stroke="#222" stroke-width="0.22" >20</text>
<line x1="444.6" y1="191.3" x2="444.6" y2="192.8" stroke="#222" stroke-width="0.6" />
<text transform="translate(444.6 196.22) rotate(0.03) scale(1.1 1)" font-size="3.6" text-anchor="middle" fill="#222" font-weight="bold" stroke="#222" stroke-width="0.22" >30</text>
<line x1="456.4" y1="191.3" x2="456.4" y2="192.8" stroke="#222" stroke-width="0.6" />
<text transform="translate(456.4 196.22) rotate(0.03) scale(1.1 1)" font-size="3.6" text-anchor="middle" fill="#222" font-weight="bold" stroke="#222" stroke-width="0.22" >40</text>
<line x1="468.2" y1="191.3" x2="468.2" y2="192.8" stroke="#222" stroke-width="0.6" />
<text transform="translate(468.2 196.22) rotate(0.03) scale(1.1 1)" font-size="3.6" text-anchor="middle" fill="#222" font-weight="bold" stroke="#222" stroke-width="0.22" >50</text>
<line x1="480" y1="191.3" x2="480" y2="192.8" stroke="#222" stroke-width="0.6" />
<text transform="translate(480 196.22) rotate(0.03) scale(1.1 1)" font-size="3.6" text-anchor="middle" fill="#222" font-weight="bold" stroke="#222" stroke-width="0.22" >60</text>
<line x1="491.8" y1="191.3" x2="491.8" y2="192.8" stroke="#222" stroke-width="0.6" />
<text transform="translate(491.8 196.22) rotate(0.03) scale(1.1 1)" font-size="3.6" text-anchor="middle" fill="#222" font-weight="bold" stroke="#222" stroke-width="0.22" >70</text>
<line x1="422.18" y1="178.6" x2="422.18" y2="184.46" stroke="#333" stroke-width="0.5" />
<line x1="421.38" y1="178.6" x2="422.98" y2="178.6" stroke="#333" stroke-width="0.4" />
<line x1="421.38" y1="184.46" x2="422.98" y2="184.46" stroke="#333" stroke-width="0.4" />
<line x1="425.72" y1="173.71" x2="425.72" y2="179.58" stroke="#333" stroke-width="0.5" />
<line x1="424.92" y1="173.71" x2="426.52" y2="173.71" stroke="#333" stroke-width="0.4" />
<line x1="424.92" y1="179.58" x2="426.52" y2="179.58" stroke="#333" stroke-width="0.4" />
<line x1="430.44" y1="160.04" x2="430.44" y2="167.85" stroke="#333" stroke-width="0.5" />
<line x1="429.64" y1="160.04" x2="431.24" y2="160.04" stroke="#333" stroke-width="0.4" />
<line x1="429.64" y1="167.85" x2="431.24" y2="167.85" stroke="#333" stroke-width="0.4" />
<line x1="433.98" y1="152.22" x2="433.98" y2="161.99" stroke="#333" stroke-width="0.5" />
<line x1="433.18" y1="152.22" x2="434.78" y2="152.22" stroke="#333" stroke-width="0.4" />
<line x1="433.18" y1="161.99" x2="434.78" y2="161.99" stroke="#333" stroke-width="0.4" />
<line x1="438.7" y1="150.27" x2="438.7" y2="158.08" stroke="#333" stroke-width="0.5" />
<line x1="437.9" y1="150.27" x2="439.5" y2="150.27" stroke="#333" stroke-width="0.4" />
<line x1="437.9" y1="158.08" x2="439.5" y2="158.08" stroke="#333" stroke-width="0.4" />
<line x1="442.24" y1="152.22" x2="442.24" y2="161.99" stroke="#333" stroke-width="0.5" />
<line x1="441.44" y1="152.22" x2="443.04" y2="152.22" stroke="#333" stroke-width="0.4" />
<line x1="441.44" y1="161.99" x2="443.04" y2="161.99" stroke="#333" stroke-width="0.4" />
<line x1="446.96" y1="152.22" x2="446.96" y2="161.99" stroke="#333" stroke-width="0.5" />
<line x1="446.16" y1="152.22" x2="447.76" y2="152.22" stroke="#333" stroke-width="0.4" />
<line x1="446.16" y1="161.99" x2="447.76" y2="161.99" stroke="#333" stroke-width="0.4" />
<line x1="450.5" y1="155.15" x2="450.5" y2="166.88" stroke="#333" stroke-width="0.5" />
<line x1="449.7" y1="155.15" x2="451.3" y2="155.15" stroke="#333" stroke-width="0.4" />
<line x1="449.7" y1="166.88" x2="451.3" y2="166.88" stroke="#333" stroke-width="0.4" />
<line x1="455.22" y1="153.2" x2="455.22" y2="162.97" stroke="#333" stroke-width="0.5" />
<line x1="454.42" y1="153.2" x2="456.02" y2="153.2" stroke="#333" stroke-width="0.4" />
<line x1="454.42" y1="162.97" x2="456.02" y2="162.97" stroke="#333" stroke-width="0.4" />
<line x1="458.76" y1="152.22" x2="458.76" y2="161.99" stroke="#333" stroke-width="0.5" />
<line x1="457.96" y1="152.22" x2="459.56" y2="152.22" stroke="#333" stroke-width="0.4" />
<line x1="457.96" y1="161.99" x2="459.56" y2="161.99" stroke="#333" stroke-width="0.4" />
<line x1="463.48" y1="150.27" x2="463.48" y2="161.01" stroke="#333" stroke-width="0.5" />
<line x1="462.68" y1="150.27" x2="464.28" y2="150.27" stroke="#333" stroke-width="0.4" />
<line x1="462.68" y1="161.01" x2="464.28" y2="161.01" stroke="#333" stroke-width="0.4" />
<line x1="467.02" y1="150.27" x2="467.02" y2="161.01" stroke="#333" stroke-width="0.5" />
<line x1="466.22" y1="150.27" x2="467.82" y2="150.27" stroke="#333" stroke-width="0.4" />
<line x1="466.22" y1="161.01" x2="467.82" y2="161.01" stroke="#333" stroke-width="0.4" />
<line x1="471.74" y1="150.27" x2="471.74" y2="161.01" stroke="#333" stroke-width="0.5" />
<line x1="470.94" y1="150.27" x2="472.54" y2="150.27" stroke="#333" stroke-width="0.4" />
<line x1="470.94" y1="161.01" x2="472.54" y2="161.01" stroke="#333" stroke-width="0.4" />
<line x1="475.28" y1="150.27" x2="475.28" y2="161.01" stroke="#333" stroke-width="0.5" />
<line x1="474.48" y1="150.27" x2="476.08" y2="150.27" stroke="#333" stroke-width="0.4" />
<line x1="474.48" y1="161.01" x2="476.08" y2="161.01" stroke="#333" stroke-width="0.4" />
<line x1="480" y1="150.27" x2="480" y2="161.01" stroke="#333" stroke-width="0.5" />
<line x1="479.2" y1="150.27" x2="480.8" y2="150.27" stroke="#333" stroke-width="0.4" />
<line x1="479.2" y1="161.01" x2="480.8" y2="161.01" stroke="#333" stroke-width="0.4" />
<line x1="483.54" y1="150.27" x2="483.54" y2="161.01" stroke="#333" stroke-width="0.5" />
<line x1="482.74" y1="150.27" x2="484.34" y2="150.27" stroke="#333" stroke-width="0.4" />
<line x1="482.74" y1="161.01" x2="484.34" y2="161.01" stroke="#333" stroke-width="0.4" />
<line x1="488.26" y1="150.27" x2="488.26" y2="161.01" stroke="#333" stroke-width="0.5" />
<line x1="487.46" y1="150.27" x2="489.06" y2="150.27" stroke="#333" stroke-width="0.4" />
<line x1="487.46" y1="161.01" x2="489.06" y2="161.01" stroke="#333" stroke-width="0.4" />
<line x1="425.72" y1="187.88" x2="425.72" y2="190.81" stroke="#e8242c" stroke-width="0.5" />
<line x1="424.92" y1="187.88" x2="426.52" y2="187.88" stroke="#e8242c" stroke-width="0.4" />
<line x1="424.92" y1="190.81" x2="426.52" y2="190.81" stroke="#e8242c" stroke-width="0.4" />
<line x1="438.7" y1="183.48" x2="438.7" y2="187.39" stroke="#e8242c" stroke-width="0.5" />
<line x1="437.9" y1="183.48" x2="439.5" y2="183.48" stroke="#e8242c" stroke-width="0.4" />
<line x1="437.9" y1="187.39" x2="439.5" y2="187.39" stroke="#e8242c" stroke-width="0.4" />
<line x1="442.24" y1="178.6" x2="442.24" y2="188.37" stroke="#e8242c" stroke-width="0.5" />
<line x1="441.44" y1="178.6" x2="443.04" y2="178.6" stroke="#e8242c" stroke-width="0.4" />
<line x1="441.44" y1="188.37" x2="443.04" y2="188.37" stroke="#e8242c" stroke-width="0.4" />
<line x1="446.96" y1="177.62" x2="446.96" y2="187.39" stroke="#e8242c" stroke-width="0.5" />
<line x1="446.16" y1="177.62" x2="447.76" y2="177.62" stroke="#e8242c" stroke-width="0.4" />
<line x1="446.16" y1="187.39" x2="447.76" y2="187.39" stroke="#e8242c" stroke-width="0.4" />
<line x1="450.5" y1="170.29" x2="450.5" y2="181.04" stroke="#e8242c" stroke-width="0.5" />
<line x1="449.7" y1="170.29" x2="451.3" y2="170.29" stroke="#e8242c" stroke-width="0.4" />
<line x1="449.7" y1="181.04" x2="451.3" y2="181.04" stroke="#e8242c" stroke-width="0.4" />
<line x1="455.22" y1="179.09" x2="455.22" y2="191.3" stroke="#e8242c" stroke-width="0.5" />
<line x1="454.42" y1="179.09" x2="456.02" y2="179.09" stroke="#e8242c" stroke-width="0.4" />
<line x1="454.42" y1="191.3" x2="456.02" y2="191.3" stroke="#e8242c" stroke-width="0.4" />
<line x1="458.76" y1="179.09" x2="458.76" y2="191.3" stroke="#e8242c" stroke-width="0.5" />
<line x1="457.96" y1="179.09" x2="459.56" y2="179.09" stroke="#e8242c" stroke-width="0.4" />
<line x1="457.96" y1="191.3" x2="459.56" y2="191.3" stroke="#e8242c" stroke-width="0.4" />
<line x1="463.48" y1="179.09" x2="463.48" y2="191.3" stroke="#e8242c" stroke-width="0.5" />
<line x1="462.68" y1="179.09" x2="464.28" y2="179.09" stroke="#e8242c" stroke-width="0.4" />
<line x1="462.68" y1="191.3" x2="464.28" y2="191.3" stroke="#e8242c" stroke-width="0.4" />
<line x1="467.02" y1="179.09" x2="467.02" y2="191.3" stroke="#e8242c" stroke-width="0.5" />
<line x1="466.22" y1="179.09" x2="467.82" y2="179.09" stroke="#e8242c" stroke-width="0.4" />
<line x1="466.22" y1="191.3" x2="467.82" y2="191.3" stroke="#e8242c" stroke-width="0.4" />
<line x1="471.74" y1="179.09" x2="471.74" y2="191.3" stroke="#e8242c" stroke-width="0.5" />
<line x1="470.94" y1="179.09" x2="472.54" y2="179.09" stroke="#e8242c" stroke-width="0.4" />
<line x1="470.94" y1="191.3" x2="472.54" y2="191.3" stroke="#e8242c" stroke-width="0.4" />
<line x1="475.28" y1="179.09" x2="475.28" y2="191.3" stroke="#e8242c" stroke-width="0.5" />
<line x1="474.48" y1="179.09" x2="476.08" y2="179.09" stroke="#e8242c" stroke-width="0.4" />
<line x1="474.48" y1="191.3" x2="476.08" y2="191.3" stroke="#e8242c" stroke-width="0.4" />
<line x1="480" y1="179.09" x2="480" y2="191.3" stroke="#e8242c" stroke-width="0.5" />
<line x1="479.2" y1="179.09" x2="480.8" y2="179.09" stroke="#e8242c" stroke-width="0.4" />
<line x1="479.2" y1="191.3" x2="480.8" y2="191.3" stroke="#e8242c" stroke-width="0.4" />
<line x1="483.54" y1="179.09" x2="483.54" y2="191.3" stroke="#e8242c" stroke-width="0.5" />
<line x1="482.74" y1="179.09" x2="484.34" y2="179.09" stroke="#e8242c" stroke-width="0.4" />
<line x1="482.74" y1="191.3" x2="484.34" y2="191.3" stroke="#e8242c" stroke-width="0.4" />
<line x1="488.26" y1="179.09" x2="488.26" y2="191.3" stroke="#e8242c" stroke-width="0.5" />
<line x1="487.46" y1="179.09" x2="489.06" y2="179.09" stroke="#e8242c" stroke-width="0.4" />
<line x1="487.46" y1="191.3" x2="489.06" y2="191.3" stroke="#e8242c" stroke-width="0.4" />
<polyline points="409.2,191.3 413.92,191.3 417.46,191.3 422.18,191.3 425.72,189.35 430.44,191.3 433.98,191.3 438.7,185.44 442.24,183.48 446.96,182.51 450.5,175.67 455.22,185.44 458.76,185.44 463.48,185.44 467.02,185.44 471.74,185.44 475.28,185.44 480,185.44 483.54,185.44 488.26,185.44" fill="none" stroke="#e8242c" stroke-width="0.8" stroke-linejoin="round" />
<polyline points="409.2,191.3 413.92,191.3 417.46,191.3 422.18,181.53 425.72,176.65 430.44,163.94 433.98,157.11 438.7,154.17 442.24,157.11 446.96,157.11 450.5,161.01 455.22,158.08 458.76,157.11 463.48,155.64 467.02,155.64 471.74,155.64 475.28,155.64 480,155.64 483.54,155.64 488.26,155.64" fill="none" stroke="#222" stroke-width="0.8" stroke-linejoin="round" />
<circle cx="409.2" cy="191.3" r="0.55" fill="#222" />
<circle cx="413.92" cy="191.3" r="0.55" fill="#222" />
<circle cx="417.46" cy="191.3" r="0.55" fill="#222" />
<circle cx="422.18" cy="181.53" r="0.55" fill="#222" />
<circle cx="425.72" cy="176.65" r="0.55" fill="#222" />
<circle cx="430.44" cy="163.94" r="0.55" fill="#222" />
<circle cx="433.98" cy="157.11" r="0.55" fill="#222" />
<circle cx="438.7" cy="154.17" r="0.55" fill="#222" />
<circle cx="442.24" cy="157.11" r="0.55" fill="#222" />
<circle cx="446.96" cy="157.11" r="0.55" fill="#222" />
<circle cx="450.5" cy="161.01" r="0.55" fill="#222" />
<circle cx="455.22" cy="158.08" r="0.55" fill="#222" />
<circle cx="458.76" cy="157.11" r="0.55" fill="#222" />
<circle cx="463.48" cy="155.64" r="0.55" fill="#222" />
<circle cx="467.02" cy="155.64" r="0.55" fill="#222" />
<circle cx="471.74" cy="155.64" r="0.55" fill="#222" />
<circle cx="475.28" cy="155.64" r="0.55" fill="#222" />
<circle cx="480" cy="155.64" r="0.55" fill="#222" />
<circle cx="483.54" cy="155.64" r="0.55" fill="#222" />
<circle cx="488.26" cy="155.64" r="0.55" fill="#222" />
<polygon points="408.5,191.86 409.9,191.86 409.2,190.6" fill="#e8242c"/>
<polygon points="413.22,191.86 414.62,191.86 413.92,190.6" fill="#e8242c"/>
<polygon points="416.76,191.86 418.16,191.86 417.46,190.6" fill="#e8242c"/>
<polygon points="421.48,191.86 422.88,191.86 422.18,190.6" fill="#e8242c"/>
<polygon points="425.02,189.91 426.42,189.91 425.72,188.65" fill="#e8242c"/>
<polygon points="429.74,191.86 431.14,191.86 430.44,190.6" fill="#e8242c"/>
<polygon points="433.28,191.86 434.68,191.86 433.98,190.6" fill="#e8242c"/>
<polygon points="438,186 439.4,186 438.7,184.74" fill="#e8242c"/>
<polygon points="441.54,184.04 442.94,184.04 442.24,182.78" fill="#e8242c"/>
<polygon points="446.26,183.07 447.66,183.07 446.96,181.81" fill="#e8242c"/>
<polygon points="449.8,176.23 451.2,176.23 450.5,174.97" fill="#e8242c"/>
<polygon points="454.52,186 455.92,186 455.22,184.74" fill="#e8242c"/>
<polygon points="458.06,186 459.46,186 458.76,184.74" fill="#e8242c"/>
<polygon points="462.78,186 464.18,186 463.48,184.74" fill="#e8242c"/>
<polygon points="466.32,186 467.72,186 467.02,184.74" fill="#e8242c"/>
<polygon points="471.04,186 472.44,186 471.74,184.74" fill="#e8242c"/>
<polygon points="474.58,186 475.98,186 475.28,184.74" fill="#e8242c"/>
<polygon points="479.3,186 480.7,186 480,184.74" fill="#e8242c"/>
<polygon points="482.84,186 484.24,186 483.54,184.74" fill="#e8242c"/>
<polygon points="487.56,186 488.96,186 488.26,184.74" fill="#e8242c"/>
<line x1="490.6" y1="156.6" x2="490.6" y2="185.1" stroke="#333" stroke-width="0.7" />
<text transform="translate(493.3 170.2) rotate(0.03) scale(1.1 1)" font-size="3.3" text-anchor="middle" fill="#333" font-weight="bold" stroke="#333" stroke-width="0.22" >*</text>
<text transform="translate(402.4 162) rotate(-89.97) scale(1.1 1)" font-size="3.3" text-anchor="middle" fill="#333" font-weight="bold" stroke="#333" stroke-width="0.22" >GvHD Score</text>
<text transform="translate(450.3 202.6) rotate(0.03) scale(1.1 1)" font-size="3.5" text-anchor="middle" fill="#333" font-weight="bold" stroke="#333" stroke-width="0.22" >Days Post Inoculation</text>
<line x1="380.3" y1="207.7" x2="383.5" y2="207.7" stroke="#222" stroke-width="0.5" />
<circle cx="381.9" cy="207.7" r="0.6" fill="#222" />
<text transform="translate(385.3 208.8) rotate(0.03) scale(1.1 1)" font-size="3" text-anchor="start" fill="#333" font-weight="bold" textLength="33.91" lengthAdjust="spacingAndGlyphs" stroke="#333" stroke-width="0.22" >NCG, 2×10<tspan dy="-1" font-size="1.8">7</tspan><tspan dy="1">/200 μL, i.v.</tspan></text>
<line x1="427.2" y1="207.7" x2="430.6" y2="207.7" stroke="#e8242c" stroke-width="0.5" />
<polygon points="428.15,208.3 429.65,208.3 428.9,206.95" fill="#e8242c"/>
<text transform="translate(433.2 208.8) rotate(0.03) scale(1.1 1)" font-size="3" text-anchor="start" fill="#333" font-weight="bold" textLength="49.09" lengthAdjust="spacingAndGlyphs" stroke="#333" stroke-width="0.22" >NCG-MHC-dKO, 2×10<tspan dy="-1" font-size="1.8">7</tspan><tspan dy="1">/200 μL, i.v.</tspan></text>
<line x1="295.2" y1="320.1" x2="295.2" y2="385.6" stroke="#333" stroke-width="0.7" />
<line x1="294.9" y1="385.6" x2="378.3" y2="385.6" stroke="#333" stroke-width="0.7" />
<line x1="293.7" y1="385.6" x2="295.2" y2="385.6" stroke="#222" stroke-width="0.6" />
<text transform="translate(293 387.15) rotate(0.03) scale(1.1 1)" font-size="4.3" text-anchor="end" fill="#222" font-weight="bold" stroke="#222" stroke-width="0.22" >0</text>
<line x1="293.7" y1="372.56" x2="295.2" y2="372.56" stroke="#222" stroke-width="0.6" />
<text transform="translate(293 374.11) rotate(0.03) scale(1.1 1)" font-size="4.3" text-anchor="end" fill="#222" font-weight="bold" stroke="#222" stroke-width="0.22" >20</text>
<line x1="293.7" y1="359.52" x2="295.2" y2="359.52" stroke="#222" stroke-width="0.6" />
<text transform="translate(293 361.07) rotate(0.03) scale(1.1 1)" font-size="4.3" text-anchor="end" fill="#222" font-weight="bold" stroke="#222" stroke-width="0.22" >40</text>
<line x1="293.7" y1="346.48" x2="295.2" y2="346.48" stroke="#222" stroke-width="0.6" />
<text transform="translate(293 348.03) rotate(0.03) scale(1.1 1)" font-size="4.3" text-anchor="end" fill="#222" font-weight="bold" stroke="#222" stroke-width="0.22" >60</text>
<line x1="293.7" y1="333.44" x2="295.2" y2="333.44" stroke="#222" stroke-width="0.6" />
<text transform="translate(293 334.99) rotate(0.03) scale(1.1 1)" font-size="4.3" text-anchor="end" fill="#222" font-weight="bold" stroke="#222" stroke-width="0.22" >80</text>
<line x1="293.7" y1="320.4" x2="295.2" y2="320.4" stroke="#222" stroke-width="0.6" />
<text transform="translate(293 321.95) rotate(0.03) scale(1.1 1)" font-size="4.3" text-anchor="end" fill="#222" font-weight="bold" stroke="#222" stroke-width="0.22" >100</text>
<line x1="303" y1="385.6" x2="303" y2="387.4" stroke="#222" stroke-width="0.6" />
<text transform="translate(303 392.6) rotate(0.03) scale(1.1 1)" font-size="4.3" text-anchor="middle" fill="#222" font-weight="bold" stroke="#222" stroke-width="0.22" >14</text>
<line x1="320" y1="385.6" x2="320" y2="387.4" stroke="#222" stroke-width="0.6" />
<text transform="translate(320 392.6) rotate(0.03) scale(1.1 1)" font-size="4.3" text-anchor="middle" fill="#222" font-weight="bold" stroke="#222" stroke-width="0.22" >21</text>
<line x1="336.8" y1="385.6" x2="336.8" y2="387.4" stroke="#222" stroke-width="0.6" />
<text transform="translate(336.8 392.6) rotate(0.03) scale(1.1 1)" font-size="4.3" text-anchor="middle" fill="#222" font-weight="bold" stroke="#222" stroke-width="0.22" >28</text>
<line x1="353.6" y1="385.6" x2="353.6" y2="387.4" stroke="#222" stroke-width="0.6" />
<text transform="translate(353.6 392.6) rotate(0.03) scale(1.1 1)" font-size="4.3" text-anchor="middle" fill="#222" font-weight="bold" stroke="#222" stroke-width="0.22" >35</text>
<line x1="370.5" y1="385.6" x2="370.5" y2="387.4" stroke="#222" stroke-width="0.6" />
<text transform="translate(370.5 392.6) rotate(0.03) scale(1.1 1)" font-size="4.3" text-anchor="middle" fill="#222" font-weight="bold" stroke="#222" stroke-width="0.22" >42</text>
<text transform="translate(336.8 312.4) rotate(0.03) scale(0.98 1)" font-size="5.6" text-anchor="middle" fill="#222" font-weight="bold" stroke="#222" stroke-width="0.1" >hCD45<tspan dy="-2" font-size="3.6">+</tspan></text>
<text transform="translate(283.3 353.5) rotate(-89.97) scale(1.1 1)" font-size="5.6" text-anchor="middle" fill="#222" font-weight="bold" font-style="italic" stroke="#222" stroke-width="0.1" letter-spacing="0.25">Frequency(%)</text>
<text transform="translate(336.8 404.7) rotate(0.03) scale(1.09 1)" font-size="5.3" text-anchor="middle" fill="#222" stroke="#222" stroke-width="0.3" >Days Post Inoculation</text>
<line x1="299.8" y1="359.52" x2="299.8" y2="375.82" stroke="#333" stroke-width="0.4" />
<line x1="298.96" y1="359.52" x2="300.64" y2="359.52" stroke="#333" stroke-width="0.4" />
<line x1="298.96" y1="375.82" x2="300.64" y2="375.82" stroke="#333" stroke-width="0.4" />
<line x1="298.6" y1="368" x2="301" y2="368" stroke="#333" stroke-width="0.5" />
<line x1="306.2" y1="365.39" x2="306.2" y2="373.21" stroke="#e8242c" stroke-width="0.4" />
<line x1="305.36" y1="365.39" x2="307.04" y2="365.39" stroke="#e8242c" stroke-width="0.4" />
<line x1="305.36" y1="373.21" x2="307.04" y2="373.21" stroke="#e8242c" stroke-width="0.4" />
<line x1="305" y1="369.3" x2="307.4" y2="369.3" stroke="#e8242c" stroke-width="0.5" />
<circle cx="299.1" cy="358.22" r="1.25" fill="#111" />
<circle cx="299.8" cy="359.52" r="1.25" fill="#111" />
<circle cx="300.5" cy="364.08" r="1.25" fill="#111" />
<circle cx="299.1" cy="368" r="1.25" fill="#111" />
<circle cx="299.8" cy="372.56" r="1.25" fill="#111" />
<circle cx="300.5" cy="374.52" r="1.25" fill="#111" />
<circle cx="299.1" cy="379.08" r="1.25" fill="#111" />
<polygon points="304.3,363.04 306.9,363.04 305.6,365.38" fill="#e8242c"/>
<polygon points="304.9,366.3 307.5,366.3 306.2,368.64" fill="#e8242c"/>
<polygon points="305.5,368.26 308.1,368.26 306.8,370.6" fill="#e8242c"/>
<polygon points="304.3,369.56 306.9,369.56 305.6,371.9" fill="#e8242c"/>
<polygon points="304.9,373.48 307.5,373.48 306.2,375.82" fill="#e8242c"/>
<line x1="316.7" y1="343.22" x2="316.7" y2="362.78" stroke="#333" stroke-width="0.4" />
<line x1="315.86" y1="343.22" x2="317.54" y2="343.22" stroke="#333" stroke-width="0.4" />
<line x1="315.86" y1="362.78" x2="317.54" y2="362.78" stroke="#333" stroke-width="0.4" />
<line x1="315.5" y1="353" x2="317.9" y2="353" stroke="#333" stroke-width="0.5" />
<line x1="322.9" y1="345.83" x2="322.9" y2="356.26" stroke="#e8242c" stroke-width="0.4" />
<line x1="322.06" y1="345.83" x2="323.74" y2="345.83" stroke="#e8242c" stroke-width="0.4" />
<line x1="322.06" y1="356.26" x2="323.74" y2="356.26" stroke="#e8242c" stroke-width="0.4" />
<line x1="321.7" y1="351.04" x2="324.1" y2="351.04" stroke="#e8242c" stroke-width="0.5" />
<circle cx="316" cy="335.4" r="1.25" fill="#111" />
<circle cx="316.7" cy="352.35" r="1.25" fill="#111" />
<circle cx="317.4" cy="353" r="1.25" fill="#111" />
<circle cx="316" cy="354.96" r="1.25" fill="#111" />
<circle cx="316.7" cy="360.17" r="1.25" fill="#111" />
<circle cx="317.4" cy="365.39" r="1.25" fill="#111" />
<polygon points="321,344.14 323.6,344.14 322.3,346.48" fill="#e8242c"/>
<polygon points="321.6,344.79 324.2,344.79 322.9,347.13" fill="#e8242c"/>
<polygon points="322.2,345.44 324.8,345.44 323.5,347.78" fill="#e8242c"/>
<polygon points="321,350 323.6,350 322.3,352.34" fill="#e8242c"/>
<polygon points="321.6,352.61 324.2,352.61 322.9,354.95" fill="#e8242c"/>
<polygon points="322.2,355.87 324.8,355.87 323.5,358.21" fill="#e8242c"/>
<polygon points="321,357.18 323.6,357.18 322.3,359.52" fill="#e8242c"/>
<line x1="333.5" y1="358.87" x2="333.5" y2="375.17" stroke="#333" stroke-width="0.4" />
<line x1="332.66" y1="358.87" x2="334.34" y2="358.87" stroke="#333" stroke-width="0.4" />
<line x1="332.66" y1="375.17" x2="334.34" y2="375.17" stroke="#333" stroke-width="0.4" />
<line x1="332.3" y1="367.34" x2="334.7" y2="367.34" stroke="#333" stroke-width="0.5" />
<line x1="340" y1="343.22" x2="340" y2="364.74" stroke="#e8242c" stroke-width="0.4" />
<line x1="339.16" y1="343.22" x2="340.84" y2="343.22" stroke="#e8242c" stroke-width="0.4" />
<line x1="339.16" y1="364.74" x2="340.84" y2="364.74" stroke="#e8242c" stroke-width="0.4" />
<line x1="338.8" y1="354.3" x2="341.2" y2="354.3" stroke="#e8242c" stroke-width="0.5" />
<circle cx="332.66" cy="358.87" r="1.25" fill="#111" />
<circle cx="333.5" cy="369.95" r="1.25" fill="#111" />
<circle cx="334.34" cy="374.52" r="1.25" fill="#111" />
<polygon points="338.1,330.44 340.7,330.44 339.4,332.78" fill="#e8242c"/>
<polygon points="338.7,350.66 341.3,350.66 340,353" fill="#e8242c"/>
<polygon points="339.3,353.92 341.9,353.92 340.6,356.26" fill="#e8242c"/>
<polygon points="338.1,354.57 340.7,354.57 339.4,356.91" fill="#e8242c"/>
<polygon points="338.7,355.22 341.3,355.22 340,357.56" fill="#e8242c"/>
<polygon points="339.3,366.3 341.9,366.3 340.6,368.64" fill="#e8242c"/>
<line x1="349.8" y1="361.48" x2="349.8" y2="362.78" stroke="#333" stroke-width="0.4" />
<line x1="348.96" y1="361.48" x2="350.64" y2="361.48" stroke="#333" stroke-width="0.4" />
<line x1="348.96" y1="362.78" x2="350.64" y2="362.78" stroke="#333" stroke-width="0.4" />
<line x1="348.6" y1="362.13" x2="351" y2="362.13" stroke="#333" stroke-width="0.5" />
<line x1="356.8" y1="345.83" x2="356.8" y2="371.26" stroke="#e8242c" stroke-width="0.4" />
<line x1="355.96" y1="345.83" x2="357.64" y2="345.83" stroke="#e8242c" stroke-width="0.4" />
<line x1="355.96" y1="371.26" x2="357.64" y2="371.26" stroke="#e8242c" stroke-width="0.4" />
<line x1="355.6" y1="358.87" x2="358" y2="358.87" stroke="#e8242c" stroke-width="0.5" />
<circle cx="348.96" cy="362.78" r="1.25" fill="#111" />
<circle cx="349.8" cy="362.13" r="1.25" fill="#111" />
<circle cx="350.64" cy="361.48" r="1.25" fill="#111" />
<polygon points="354.9,329.14 357.5,329.14 356.2,331.48" fill="#e8242c"/>
<polygon points="355.5,349.35 358.1,349.35 356.8,351.69" fill="#e8242c"/>
<polygon points="356.1,357.83 358.7,357.83 357.4,360.17" fill="#e8242c"/>
<polygon points="354.9,358.48 357.5,358.48 356.2,360.82" fill="#e8242c"/>
<polygon points="355.5,365 358.1,365 356.8,367.34" fill="#e8242c"/>
<polygon points="356.1,366.96 358.7,366.96 357.4,369.3" fill="#e8242c"/>
<polygon points="354.9,371.52 357.5,371.52 356.2,373.86" fill="#e8242c"/>
<line x1="367.2" y1="353.65" x2="367.2" y2="363.43" stroke="#333" stroke-width="0.4" />
<line x1="366.36" y1="353.65" x2="368.04" y2="353.65" stroke="#333" stroke-width="0.4" />
<line x1="366.36" y1="363.43" x2="368.04" y2="363.43" stroke="#333" stroke-width="0.4" />
<line x1="366" y1="358.87" x2="368.4" y2="358.87" stroke="#333" stroke-width="0.5" />
<line x1="373.7" y1="355.61" x2="373.7" y2="377.78" stroke="#e8242c" stroke-width="0.4" />
<line x1="372.86" y1="355.61" x2="374.54" y2="355.61" stroke="#e8242c" stroke-width="0.4" />
<line x1="372.86" y1="377.78" x2="374.54" y2="377.78" stroke="#e8242c" stroke-width="0.4" />
<line x1="372.5" y1="366.69" x2="374.9" y2="366.69" stroke="#e8242c" stroke-width="0.5" />
<circle cx="366.5" cy="353.65" r="1.25" fill="#111" />
<circle cx="367.2" cy="354.3" r="1.25" fill="#111" />
<circle cx="367.9" cy="362.78" r="1.25" fill="#111" />
<circle cx="366.5" cy="363.43" r="1.25" fill="#111" />
<polygon points="371.8,342.83 374.4,342.83 373.1,345.17" fill="#e8242c"/>
<polygon points="372.4,361.09 375,361.09 373.7,363.43" fill="#e8242c"/>
<polygon points="373,366.3 375.6,366.3 374.3,368.64" fill="#e8242c"/>
<polygon points="371.8,370.22 374.4,370.22 373.1,372.56" fill="#e8242c"/>
<polygon points="372.4,374.13 375,374.13 373.7,376.47" fill="#e8242c"/>
<polygon points="373,378.04 375.6,378.04 374.3,380.38" fill="#e8242c"/>
<circle cx="355.2" cy="412.8" r="1.35" fill="#111" />
<text transform="translate(367 413.6) rotate(0.03) scale(1.1 1)" font-size="2.3" text-anchor="start" fill="#333" font-weight="bold" stroke="#333" stroke-width="0.22" >NCG</text>
<polygon points="388.4,411.76 391,411.76 389.7,414.1" fill="#e8242c"/>
<text transform="translate(393.4 413.6) rotate(0.03) scale(1.1 1)" font-size="2.3" text-anchor="start" fill="#e8242c" font-weight="bold" stroke="#e8242c" stroke-width="0.22" >NCG-MHC-dKO</text>
<line x1="419.3" y1="320.5" x2="419.3" y2="385.3" stroke="#333" stroke-width="0.7" />
<line x1="419" y1="385.3" x2="501.6" y2="385.3" stroke="#333" stroke-width="0.7" />
<line x1="417.8" y1="385.3" x2="419.3" y2="385.3" stroke="#222" stroke-width="0.6" />
<text transform="translate(417.1 386.85) rotate(0.03) scale(1.1 1)" font-size="4.3" text-anchor="end" fill="#222" font-weight="bold" stroke="#222" stroke-width="0.22" >85</text>
<line x1="417.8" y1="363.8" x2="419.3" y2="363.8" stroke="#222" stroke-width="0.6" />
<text transform="translate(417.1 365.35) rotate(0.03) scale(1.1 1)" font-size="4.3" text-anchor="end" fill="#222" font-weight="bold" stroke="#222" stroke-width="0.22" >90</text>
<line x1="417.8" y1="342.3" x2="419.3" y2="342.3" stroke="#222" stroke-width="0.6" />
<text transform="translate(417.1 343.85) rotate(0.03) scale(1.1 1)" font-size="4.3" text-anchor="end" fill="#222" font-weight="bold" stroke="#222" stroke-width="0.22" >95</text>
<line x1="417.8" y1="320.8" x2="419.3" y2="320.8" stroke="#222" stroke-width="0.6" />
<text transform="translate(417.1 322.35) rotate(0.03) scale(1.1 1)" font-size="4.3" text-anchor="end" fill="#222" font-weight="bold" stroke="#222" stroke-width="0.22" >100</text>
<line x1="426.6" y1="385.3" x2="426.6" y2="387.1" stroke="#222" stroke-width="0.6" />
<text transform="translate(426.6 392.3) rotate(0.03) scale(1.1 1)" font-size="4.3" text-anchor="middle" fill="#222" font-weight="bold" stroke="#222" stroke-width="0.22" >14</text>
<line x1="443.4" y1="385.3" x2="443.4" y2="387.1" stroke="#222" stroke-width="0.6" />
<text transform="translate(443.4 392.3) rotate(0.03) scale(1.1 1)" font-size="4.3" text-anchor="middle" fill="#222" font-weight="bold" stroke="#222" stroke-width="0.22" >21</text>
<line x1="460.5" y1="385.3" x2="460.5" y2="387.1" stroke="#222" stroke-width="0.6" />
<text transform="translate(460.5 392.3) rotate(0.03) scale(1.1 1)" font-size="4.3" text-anchor="middle" fill="#222" font-weight="bold" stroke="#222" stroke-width="0.22" >28</text>
<line x1="477.5" y1="385.3" x2="477.5" y2="387.1" stroke="#222" stroke-width="0.6" />
<text transform="translate(477.5 392.3) rotate(0.03) scale(1.1 1)" font-size="4.3" text-anchor="middle" fill="#222" font-weight="bold" stroke="#222" stroke-width="0.22" >35</text>
<line x1="494.2" y1="385.3" x2="494.2" y2="387.1" stroke="#222" stroke-width="0.6" />
<text transform="translate(494.2 392.3) rotate(0.03) scale(1.1 1)" font-size="4.3" text-anchor="middle" fill="#222" font-weight="bold" stroke="#222" stroke-width="0.22" >42</text>
<text transform="translate(460 312.4) rotate(0.03) scale(0.98 1)" font-size="5.6" text-anchor="middle" fill="#222" font-weight="bold" stroke="#222" stroke-width="0.1" >hCD3<tspan dy="-2" font-size="3.6">+</tspan></text>
<text transform="translate(407.1 353.5) rotate(-89.97) scale(1.1 1)" font-size="5.6" text-anchor="middle" fill="#222" font-weight="bold" font-style="italic" stroke="#222" stroke-width="0.1" letter-spacing="0.25">Frequency(%)</text>
<text transform="translate(460.4 404.7) rotate(0.03) scale(1.09 1)" font-size="5.3" text-anchor="middle" fill="#222" stroke="#222" stroke-width="0.3" >Days post inoculation</text>
<line x1="423.7" y1="330.26" x2="423.7" y2="352.62" stroke="#333" stroke-width="0.4" />
<line x1="422.86" y1="330.26" x2="424.54" y2="330.26" stroke="#333" stroke-width="0.4" />
<line x1="422.86" y1="352.62" x2="424.54" y2="352.62" stroke="#333" stroke-width="0.4" />
<line x1="422.5" y1="341.44" x2="424.9" y2="341.44" stroke="#333" stroke-width="0.5" />
<line x1="429.9" y1="335.42" x2="429.9" y2="356.92" stroke="#e8242c" stroke-width="0.4" />
<line x1="429.06" y1="335.42" x2="430.74" y2="335.42" stroke="#e8242c" stroke-width="0.4" />
<line x1="429.06" y1="356.92" x2="430.74" y2="356.92" stroke="#e8242c" stroke-width="0.4" />
<line x1="428.7" y1="346.6" x2="431.1" y2="346.6" stroke="#e8242c" stroke-width="0.5" />
<circle cx="423" cy="330.69" r="1.25" fill="#111" />
<circle cx="423.7" cy="331.55" r="1.25" fill="#111" />
<circle cx="424.4" cy="339.72" r="1.25" fill="#111" />
<circle cx="423" cy="341.44" r="1.25" fill="#111" />
<circle cx="423.7" cy="350.9" r="1.25" fill="#111" />
<circle cx="424.4" cy="362.08" r="1.25" fill="#111" />
<polygon points="428,331.8 430.6,331.8 429.3,334.14" fill="#e8242c"/>
<polygon points="428.6,335.67 431.2,335.67 429.9,338.01" fill="#e8242c"/>
<polygon points="429.2,339.11 431.8,339.11 430.5,341.45" fill="#e8242c"/>
<polygon points="428,342.55 430.6,342.55 429.3,344.89" fill="#e8242c"/>
<polygon points="428.6,345.56 431.2,345.56 429.9,347.9" fill="#e8242c"/>
<polygon points="429.2,346.42 431.8,346.42 430.5,348.76" fill="#e8242c"/>
<polygon points="428,351.15 430.6,351.15 429.3,353.49" fill="#e8242c"/>
<polygon points="428.6,352.01 431.2,352.01 429.9,354.35" fill="#e8242c"/>
<polygon points="429.2,357.17 431.8,357.17 430.5,359.51" fill="#e8242c"/>
<line x1="440.5" y1="322.09" x2="440.5" y2="323.81" stroke="#333" stroke-width="0.4" />
<line x1="439.66" y1="322.09" x2="441.34" y2="322.09" stroke="#333" stroke-width="0.4" />
<line x1="439.66" y1="323.81" x2="441.34" y2="323.81" stroke="#333" stroke-width="0.4" />
<line x1="439.3" y1="322.95" x2="441.7" y2="322.95" stroke="#333" stroke-width="0.5" />
<line x1="446.7" y1="322.09" x2="446.7" y2="323.81" stroke="#e8242c" stroke-width="0.4" />
<line x1="445.86" y1="322.09" x2="447.54" y2="322.09" stroke="#e8242c" stroke-width="0.4" />
<line x1="445.86" y1="323.81" x2="447.54" y2="323.81" stroke="#e8242c" stroke-width="0.4" />
<line x1="445.5" y1="322.95" x2="447.9" y2="322.95" stroke="#e8242c" stroke-width="0.5" />
<circle cx="439.8" cy="322.52" r="1.25" fill="#111" />
<circle cx="440.5" cy="322.95" r="1.25" fill="#111" />
<circle cx="441.2" cy="323.81" r="1.25" fill="#111" />
<polygon points="444.8,321.05 447.4,321.05 446.1,323.39" fill="#e8242c"/>
<polygon points="445.4,321.91 448,321.91 446.7,324.25" fill="#e8242c"/>
<polygon points="446,322.77 448.6,322.77 447.3,325.11" fill="#e8242c"/>
<line x1="457.3" y1="323.38" x2="457.3" y2="328.11" stroke="#333" stroke-width="0.4" />
<line x1="456.46" y1="323.38" x2="458.14" y2="323.38" stroke="#333" stroke-width="0.4" />
<line x1="456.46" y1="328.11" x2="458.14" y2="328.11" stroke="#333" stroke-width="0.4" />
<line x1="456.1" y1="325.53" x2="458.5" y2="325.53" stroke="#333" stroke-width="0.5" />
<line x1="463.3" y1="322.09" x2="463.3" y2="326.39" stroke="#e8242c" stroke-width="0.4" />
<line x1="462.46" y1="322.09" x2="464.14" y2="322.09" stroke="#e8242c" stroke-width="0.4" />
<line x1="462.46" y1="326.39" x2="464.14" y2="326.39" stroke="#e8242c" stroke-width="0.4" />
<line x1="462.1" y1="324.24" x2="464.5" y2="324.24" stroke="#e8242c" stroke-width="0.5" />
<circle cx="456.6" cy="323.81" r="1.25" fill="#111" />
<circle cx="457.3" cy="324.67" r="1.25" fill="#111" />
<circle cx="458" cy="328.11" r="1.25" fill="#111" />
<polygon points="461.4,321.05 464,321.05 462.7,323.39" fill="#e8242c"/>
<polygon points="462,322.77 464.6,322.77 463.3,325.11" fill="#e8242c"/>
<polygon points="462.6,324.06 465.2,324.06 463.9,326.4" fill="#e8242c"/>
<polygon points="461.4,325.35 464,325.35 462.7,327.69" fill="#e8242c"/>
<line x1="474.2" y1="322.09" x2="474.2" y2="322.95" stroke="#333" stroke-width="0.4" />
<line x1="473.36" y1="322.09" x2="475.04" y2="322.09" stroke="#333" stroke-width="0.4" />
<line x1="473.36" y1="322.95" x2="475.04" y2="322.95" stroke="#333" stroke-width="0.4" />
<line x1="473" y1="322.52" x2="475.4" y2="322.52" stroke="#333" stroke-width="0.5" />
<line x1="480.4" y1="321.23" x2="480.4" y2="322.52" stroke="#e8242c" stroke-width="0.4" />
<line x1="479.56" y1="321.23" x2="481.24" y2="321.23" stroke="#e8242c" stroke-width="0.4" />
<line x1="479.56" y1="322.52" x2="481.24" y2="322.52" stroke="#e8242c" stroke-width="0.4" />
<line x1="479.2" y1="321.88" x2="481.6" y2="321.88" stroke="#e8242c" stroke-width="0.5" />
<circle cx="473.5" cy="322.52" r="1.25" fill="#111" />
<circle cx="474.2" cy="322.52" r="1.25" fill="#111" />
<polygon points="478.5,320.62 481.1,320.62 479.8,322.96" fill="#e8242c"/>
<polygon points="479.1,321.05 481.7,321.05 480.4,323.39" fill="#e8242c"/>
<line x1="491" y1="321.66" x2="491" y2="322.52" stroke="#333" stroke-width="0.4" />
<line x1="490.16" y1="321.66" x2="491.84" y2="321.66" stroke="#333" stroke-width="0.4" />
<line x1="490.16" y1="322.52" x2="491.84" y2="322.52" stroke="#333" stroke-width="0.4" />
<line x1="489.8" y1="322.09" x2="492.2" y2="322.09" stroke="#333" stroke-width="0.5" />
<line x1="497" y1="320.8" x2="497" y2="322.09" stroke="#e8242c" stroke-width="0.4" />
<line x1="496.16" y1="320.8" x2="497.84" y2="320.8" stroke="#e8242c" stroke-width="0.4" />
<line x1="496.16" y1="322.09" x2="497.84" y2="322.09" stroke="#e8242c" stroke-width="0.4" />
<line x1="495.8" y1="321.45" x2="498.2" y2="321.45" stroke="#e8242c" stroke-width="0.5" />
<circle cx="490.3" cy="322.09" r="1.25" fill="#111" />
<circle cx="491" cy="322.09" r="1.25" fill="#111" />
<polygon points="495.1,320.19 497.7,320.19 496.4,322.53" fill="#e8242c"/>
<polygon points="495.7,320.62 498.3,320.62 497,322.96" fill="#e8242c"/>
<line x1="553.4" y1="126.1" x2="553.4" y2="177.5" stroke="#222" stroke-width="0.8" />
<line x1="553" y1="177.5" x2="636.3" y2="177.5" stroke="#222" stroke-width="0.8" />
<line x1="551.6" y1="177.5" x2="553.4" y2="177.5" stroke="#222" stroke-width="0.7" />
<text transform="translate(550.6 179.5) rotate(0.03) scale(1.1 1)" font-size="5.5" text-anchor="end" fill="#222" font-weight="bold" stroke="#222" stroke-width="0.22" >0</text>
<line x1="551.6" y1="167.28" x2="553.4" y2="167.28" stroke="#222" stroke-width="0.7" />
<text transform="translate(550.6 169.28) rotate(0.03) scale(1.1 1)" font-size="5.5" text-anchor="end" fill="#222" font-weight="bold" stroke="#222" stroke-width="0.22" >20</text>
<line x1="551.6" y1="157.06" x2="553.4" y2="157.06" stroke="#222" stroke-width="0.7" />
<text transform="translate(550.6 159.06) rotate(0.03) scale(1.1 1)" font-size="5.5" text-anchor="end" fill="#222" font-weight="bold" stroke="#222" stroke-width="0.22" >40</text>
<line x1="551.6" y1="146.84" x2="553.4" y2="146.84" stroke="#222" stroke-width="0.7" />
<text transform="translate(550.6 148.84) rotate(0.03) scale(1.1 1)" font-size="5.5" text-anchor="end" fill="#222" font-weight="bold" stroke="#222" stroke-width="0.22" >60</text>
<line x1="551.6" y1="136.62" x2="553.4" y2="136.62" stroke="#222" stroke-width="0.7" />
<text transform="translate(550.6 138.62) rotate(0.03) scale(1.1 1)" font-size="5.5" text-anchor="end" fill="#222" font-weight="bold" stroke="#222" stroke-width="0.22" >80</text>
<line x1="551.6" y1="126.4" x2="553.4" y2="126.4" stroke="#222" stroke-width="0.7" />
<text transform="translate(550.6 128.4) rotate(0.03) scale(1.1 1)" font-size="5.5" text-anchor="end" fill="#222" font-weight="bold" stroke="#222" stroke-width="0.22" >100</text>
<line x1="553.4" y1="177.5" x2="553.4" y2="179.3" stroke="#222" stroke-width="0.7" />
<text transform="translate(553.4 186.1) rotate(0.03) scale(1.1 1)" font-size="5.5" text-anchor="middle" fill="#222" font-weight="bold" stroke="#222" stroke-width="0.22" >0</text>
<line x1="564.51" y1="177.5" x2="564.51" y2="179.3" stroke="#222" stroke-width="0.7" />
<text transform="translate(564.51 186.1) rotate(0.03) scale(1.1 1)" font-size="5.5" text-anchor="middle" fill="#222" font-weight="bold" stroke="#222" stroke-width="0.22" >2</text>
<line x1="575.62" y1="177.5" x2="575.62" y2="179.3" stroke="#222" stroke-width="0.7" />
<text transform="translate(575.62 186.1) rotate(0.03) scale(1.1 1)" font-size="5.5" text-anchor="middle" fill="#222" font-weight="bold" stroke="#222" stroke-width="0.22" >4</text>
<line x1="586.73" y1="177.5" x2="586.73" y2="179.3" stroke="#222" stroke-width="0.7" />
<text transform="translate(586.73 186.1) rotate(0.03) scale(1.1 1)" font-size="5.5" text-anchor="middle" fill="#222" font-weight="bold" stroke="#222" stroke-width="0.22" >6</text>
<line x1="597.84" y1="177.5" x2="597.84" y2="179.3" stroke="#222" stroke-width="0.7" />
<text transform="translate(597.84 186.1) rotate(0.03) scale(1.1 1)" font-size="5.5" text-anchor="middle" fill="#222" font-weight="bold" stroke="#222" stroke-width="0.22" >8</text>
<line x1="608.95" y1="177.5" x2="608.95" y2="179.3" stroke="#222" stroke-width="0.7" />
<text transform="translate(608.95 186.1) rotate(0.03) scale(1.1 1)" font-size="5.5" text-anchor="middle" fill="#222" font-weight="bold" stroke="#222" stroke-width="0.22" >10</text>
<line x1="620.06" y1="177.5" x2="620.06" y2="179.3" stroke="#222" stroke-width="0.7" />
<text transform="translate(620.06 186.1) rotate(0.03) scale(1.1 1)" font-size="5.5" text-anchor="middle" fill="#222" font-weight="bold" stroke="#222" stroke-width="0.22" >12</text>
<line x1="631.17" y1="177.5" x2="631.17" y2="179.3" stroke="#222" stroke-width="0.7" />
<text transform="translate(631.17 186.1) rotate(0.03) scale(1.1 1)" font-size="5.5" text-anchor="middle" fill="#222" font-weight="bold" stroke="#222" stroke-width="0.22" >14</text>
<text transform="translate(537.3 152) rotate(-89.97) scale(1.1 1)" font-size="5.3" text-anchor="middle" fill="#222" font-weight="bold" stroke="#222" stroke-width="0.22" >Remaining hIgG (%)</text>
<text transform="translate(594.8 196.2) rotate(0.03) scale(1.1 1)" font-size="5.6" text-anchor="middle" fill="#222" font-weight="bold" stroke="#222" stroke-width="0.22" >Days after IgG injection</text>
<polyline points="553.4,126.4 558.95,176.99 564.51,177.5 575.62,177.5 592.28,177.5 631.17,177.5" fill="none" stroke="#2a8a74" stroke-width="0.8" stroke-linejoin="round" />
<circle cx="553.4" cy="126.4" r="0.85" fill="#2a8a74" />
<circle cx="558.95" cy="176.99" r="0.85" fill="#2a8a74" />
<circle cx="564.51" cy="177.5" r="0.85" fill="#2a8a74" />
<circle cx="575.62" cy="177.5" r="0.85" fill="#2a8a74" />
<circle cx="592.28" cy="177.5" r="0.85" fill="#2a8a74" />
<circle cx="631.17" cy="177.5" r="0.85" fill="#2a8a74" />
<line x1="558.95" y1="145.31" x2="558.95" y2="151.44" stroke="#4472c4" stroke-width="0.4" />
<line x1="558.05" y1="145.31" x2="559.85" y2="145.31" stroke="#4472c4" stroke-width="0.4" />
<line x1="558.05" y1="151.44" x2="559.85" y2="151.44" stroke="#4472c4" stroke-width="0.4" />
<line x1="564.51" y1="144.28" x2="564.51" y2="165.75" stroke="#4472c4" stroke-width="0.4" />
<line x1="563.61" y1="144.28" x2="565.41" y2="144.28" stroke="#4472c4" stroke-width="0.4" />
<line x1="563.61" y1="165.75" x2="565.41" y2="165.75" stroke="#4472c4" stroke-width="0.4" />
<line x1="575.62" y1="160.64" x2="575.62" y2="163.7" stroke="#4472c4" stroke-width="0.4" />
<line x1="574.72" y1="160.64" x2="576.52" y2="160.64" stroke="#4472c4" stroke-width="0.4" />
<line x1="574.72" y1="163.7" x2="576.52" y2="163.7" stroke="#4472c4" stroke-width="0.4" />
<line x1="592.28" y1="166.77" x2="592.28" y2="169.84" stroke="#4472c4" stroke-width="0.4" />
<line x1="591.38" y1="166.77" x2="593.18" y2="166.77" stroke="#4472c4" stroke-width="0.4" />
<line x1="591.38" y1="169.84" x2="593.18" y2="169.84" stroke="#4472c4" stroke-width="0.4" />
<polyline points="558.95,148.37 564.51,155.02 575.62,162.17 592.28,168.3 631.17,177.5" fill="none" stroke="#4472c4" stroke-width="0.8" stroke-linejoin="round" />
<circle cx="558.95" cy="148.37" r="0.85" fill="#4472c4" />
<circle cx="564.51" cy="155.02" r="0.85" fill="#4472c4" />
<circle cx="575.62" cy="162.17" r="0.85" fill="#4472c4" />
<circle cx="592.28" cy="168.3" r="0.85" fill="#4472c4" />
<circle cx="631.17" cy="177.5" r="0.85" fill="#4472c4" />
<line x1="558.95" y1="144.8" x2="558.95" y2="150.93" stroke="#f0a048" stroke-width="0.4" />
<line x1="558.05" y1="144.8" x2="559.85" y2="144.8" stroke="#f0a048" stroke-width="0.4" />
<line x1="558.05" y1="150.93" x2="559.85" y2="150.93" stroke="#f0a048" stroke-width="0.4" />
<line x1="564.51" y1="147.86" x2="564.51" y2="156.04" stroke="#f0a048" stroke-width="0.4" />
<line x1="563.61" y1="147.86" x2="565.41" y2="147.86" stroke="#f0a048" stroke-width="0.4" />
<line x1="563.61" y1="156.04" x2="565.41" y2="156.04" stroke="#f0a048" stroke-width="0.4" />
<line x1="575.62" y1="153.48" x2="575.62" y2="162.68" stroke="#f0a048" stroke-width="0.4" />
<line x1="574.72" y1="153.48" x2="576.52" y2="153.48" stroke="#f0a048" stroke-width="0.4" />
<line x1="574.72" y1="162.68" x2="576.52" y2="162.68" stroke="#f0a048" stroke-width="0.4" />
<line x1="592.28" y1="165.24" x2="592.28" y2="169.32" stroke="#f0a048" stroke-width="0.4" />
<line x1="591.38" y1="165.24" x2="593.18" y2="165.24" stroke="#f0a048" stroke-width="0.4" />
<line x1="591.38" y1="169.32" x2="593.18" y2="169.32" stroke="#f0a048" stroke-width="0.4" />
<polyline points="558.95,147.86 564.51,151.95 575.62,158.08 592.28,167.28 631.17,177.5" fill="none" stroke="#f0a048" stroke-width="0.8" stroke-linejoin="round" />
<circle cx="558.95" cy="147.86" r="0.85" fill="#f0a048" />
<circle cx="564.51" cy="151.95" r="0.85" fill="#f0a048" />
<circle cx="575.62" cy="158.08" r="0.85" fill="#f0a048" />
<circle cx="592.28" cy="167.28" r="0.85" fill="#f0a048" />
<circle cx="631.17" cy="177.5" r="0.85" fill="#f0a048" />
<line x1="558.95" y1="144.28" x2="558.95" y2="151.44" stroke="#222" stroke-width="0.4" />
<line x1="558.05" y1="144.28" x2="559.85" y2="144.28" stroke="#222" stroke-width="0.4" />
<line x1="558.05" y1="151.44" x2="559.85" y2="151.44" stroke="#222" stroke-width="0.4" />
<line x1="564.51" y1="144.28" x2="564.51" y2="153.48" stroke="#222" stroke-width="0.4" />
<line x1="563.61" y1="144.28" x2="565.41" y2="144.28" stroke="#222" stroke-width="0.4" />
<line x1="563.61" y1="153.48" x2="565.41" y2="153.48" stroke="#222" stroke-width="0.4" />
<line x1="575.62" y1="152.97" x2="575.62" y2="161.15" stroke="#222" stroke-width="0.4" />
<line x1="574.72" y1="152.97" x2="576.52" y2="152.97" stroke="#222" stroke-width="0.4" />
<line x1="574.72" y1="161.15" x2="576.52" y2="161.15" stroke="#222" stroke-width="0.4" />
<line x1="592.28" y1="159.1" x2="592.28" y2="168.3" stroke="#222" stroke-width="0.4" />
<line x1="591.38" y1="159.1" x2="593.18" y2="159.1" stroke="#222" stroke-width="0.4" />
<line x1="591.38" y1="168.3" x2="593.18" y2="168.3" stroke="#222" stroke-width="0.4" />
<polyline points="553.4,126.4 558.95,147.86 564.51,148.88 575.62,157.06 592.28,163.7 631.17,177.5" fill="none" stroke="#222" stroke-width="0.8" stroke-linejoin="round" />
<circle cx="553.4" cy="126.4" r="0.85" fill="#222" />
<circle cx="558.95" cy="147.86" r="0.85" fill="#222" />
<circle cx="564.51" cy="148.88" r="0.85" fill="#222" />
<circle cx="575.62" cy="157.06" r="0.85" fill="#222" />
<circle cx="592.28" cy="163.7" r="0.85" fill="#222" />
<circle cx="631.17" cy="177.5" r="0.85" fill="#222" />
<line x1="586.7" y1="128.2" x2="592.6" y2="128.2" stroke="#222" stroke-width="0.7" />
<circle cx="589.6" cy="128.2" r="0.85" fill="#222" />
<text transform="translate(596 130.1) rotate(0.03) scale(1.02 1)" font-size="5.3" text-anchor="start" fill="#222" >NCG</text>
<line x1="586.7" y1="135.2" x2="592.6" y2="135.2" stroke="#2a8a74" stroke-width="0.7" />
<circle cx="589.6" cy="135.2" r="0.85" fill="#2a8a74" />
<text transform="translate(596 137.1) rotate(0.03) scale(1.02 1)" font-size="5.3" text-anchor="start" fill="#2a8a74" >NCG-β2M-KO</text>
<line x1="586.7" y1="142.2" x2="592.6" y2="142.2" stroke="#f0a048" stroke-width="0.7" />
<circle cx="589.6" cy="142.2" r="0.85" fill="#f0a048" />
<text transform="translate(596 144.1) rotate(0.03) scale(1.02 1)" font-size="5.3" text-anchor="start" fill="#f0a048" >NCG-MHC I-KO</text>
<line x1="586.7" y1="149" x2="592.6" y2="149" stroke="#4472c4" stroke-width="0.7" />
<circle cx="589.6" cy="149" r="0.85" fill="#4472c4" />
<text transform="translate(596 150.9) rotate(0.03) scale(1.02 1)" font-size="5.3" text-anchor="start" fill="#4472c4" >NCG-MHC-dKO</text>
<line x1="576.4" y1="233.9" x2="576.4" y2="276.6" stroke="#333" stroke-width="0.6" />
<line x1="576.1" y1="276.6" x2="644.8" y2="276.6" stroke="#333" stroke-width="0.6" />
<line x1="575.2" y1="276.6" x2="576.4" y2="276.6" stroke="#333" stroke-width="0.4" />
<text transform="translate(574.8 277.54) rotate(0.03) scale(1.1 1)" font-size="2.6" text-anchor="end" fill="#333" font-weight="bold" stroke="#333" stroke-width="0.22" >0</text>
<line x1="575.2" y1="268.12" x2="576.4" y2="268.12" stroke="#333" stroke-width="0.4" />
<text transform="translate(574.8 269.06) rotate(0.03) scale(1.1 1)" font-size="2.6" text-anchor="end" fill="#333" font-weight="bold" stroke="#333" stroke-width="0.22" >200</text>
<line x1="575.2" y1="259.64" x2="576.4" y2="259.64" stroke="#333" stroke-width="0.4" />
<text transform="translate(574.8 260.58) rotate(0.03) scale(1.1 1)" font-size="2.6" text-anchor="end" fill="#333" font-weight="bold" stroke="#333" stroke-width="0.22" >400</text>
<line x1="575.2" y1="251.16" x2="576.4" y2="251.16" stroke="#333" stroke-width="0.4" />
<text transform="translate(574.8 252.1) rotate(0.03) scale(1.1 1)" font-size="2.6" text-anchor="end" fill="#333" font-weight="bold" stroke="#333" stroke-width="0.22" >600</text>
<line x1="575.2" y1="242.68" x2="576.4" y2="242.68" stroke="#333" stroke-width="0.4" />
<text transform="translate(574.8 243.62) rotate(0.03) scale(1.1 1)" font-size="2.6" text-anchor="end" fill="#333" font-weight="bold" stroke="#333" stroke-width="0.22" >800</text>
<line x1="575.2" y1="234.2" x2="576.4" y2="234.2" stroke="#333" stroke-width="0.4" />
<text transform="translate(574.8 235.14) rotate(0.03) scale(1.1 1)" font-size="2.6" text-anchor="end" fill="#333" font-weight="bold" stroke="#333" stroke-width="0.22" >1000</text>
<line x1="576.4" y1="276.6" x2="576.4" y2="277.8" stroke="#333" stroke-width="0.4" />
<text transform="translate(576.4 280.27) rotate(0.03) scale(1.1 1)" font-size="2.6" text-anchor="middle" fill="#333" font-weight="bold" stroke="#333" stroke-width="0.22" >0</text>
<line x1="587.8" y1="276.6" x2="587.8" y2="277.8" stroke="#333" stroke-width="0.4" />
<text transform="translate(587.8 280.27) rotate(0.03) scale(1.1 1)" font-size="2.6" text-anchor="middle" fill="#333" font-weight="bold" stroke="#333" stroke-width="0.22" >5</text>
<line x1="599.2" y1="276.6" x2="599.2" y2="277.8" stroke="#333" stroke-width="0.4" />
<text transform="translate(599.2 280.27) rotate(0.03) scale(1.1 1)" font-size="2.6" text-anchor="middle" fill="#333" font-weight="bold" stroke="#333" stroke-width="0.22" >10</text>
<line x1="610.6" y1="276.6" x2="610.6" y2="277.8" stroke="#333" stroke-width="0.4" />
<text transform="translate(610.6 280.27) rotate(0.03) scale(1.1 1)" font-size="2.6" text-anchor="middle" fill="#333" font-weight="bold" stroke="#333" stroke-width="0.22" >15</text>
<line x1="622" y1="276.6" x2="622" y2="277.8" stroke="#333" stroke-width="0.4" />
<text transform="translate(622 280.27) rotate(0.03) scale(1.1 1)" font-size="2.6" text-anchor="middle" fill="#333" font-weight="bold" stroke="#333" stroke-width="0.22" >20</text>
<line x1="633.4" y1="276.6" x2="633.4" y2="277.8" stroke="#333" stroke-width="0.4" />
<text transform="translate(633.4 280.27) rotate(0.03) scale(1.1 1)" font-size="2.6" text-anchor="middle" fill="#333" font-weight="bold" stroke="#333" stroke-width="0.22" >25</text>
<line x1="644.8" y1="276.6" x2="644.8" y2="277.8" stroke="#333" stroke-width="0.4" />
<text transform="translate(644.8 280.27) rotate(0.03) scale(1.1 1)" font-size="2.6" text-anchor="middle" fill="#333" font-weight="bold" stroke="#333" stroke-width="0.22" >30</text>
<line x1="583.24" y1="272.15" x2="583.24" y2="272.57" stroke="#2a8a74" stroke-width="0.4" />
<line x1="582.64" y1="272.15" x2="583.84" y2="272.15" stroke="#2a8a74" stroke-width="0.3" />
<line x1="582.64" y1="272.57" x2="583.84" y2="272.57" stroke="#2a8a74" stroke-width="0.3" />
<line x1="592.36" y1="270.75" x2="592.36" y2="271.43" stroke="#2a8a74" stroke-width="0.4" />
<line x1="591.76" y1="270.75" x2="592.96" y2="270.75" stroke="#2a8a74" stroke-width="0.3" />
<line x1="591.76" y1="271.43" x2="592.96" y2="271.43" stroke="#2a8a74" stroke-width="0.3" />
<line x1="599.2" y1="269.31" x2="599.2" y2="270.32" stroke="#2a8a74" stroke-width="0.4" />
<line x1="598.6" y1="269.31" x2="599.8" y2="269.31" stroke="#2a8a74" stroke-width="0.3" />
<line x1="598.6" y1="270.32" x2="599.8" y2="270.32" stroke="#2a8a74" stroke-width="0.3" />
<line x1="608.32" y1="267.27" x2="608.32" y2="268.97" stroke="#2a8a74" stroke-width="0.4" />
<line x1="607.72" y1="267.27" x2="608.92" y2="267.27" stroke="#2a8a74" stroke-width="0.3" />
<line x1="607.72" y1="268.97" x2="608.92" y2="268.97" stroke="#2a8a74" stroke-width="0.3" />
<line x1="615.16" y1="265.79" x2="615.16" y2="267.91" stroke="#2a8a74" stroke-width="0.4" />
<line x1="614.56" y1="265.79" x2="615.76" y2="265.79" stroke="#2a8a74" stroke-width="0.3" />
<line x1="614.56" y1="267.91" x2="615.76" y2="267.91" stroke="#2a8a74" stroke-width="0.3" />
<line x1="624.28" y1="263.67" x2="624.28" y2="266.64" stroke="#2a8a74" stroke-width="0.4" />
<line x1="623.68" y1="263.67" x2="624.88" y2="263.67" stroke="#2a8a74" stroke-width="0.3" />
<line x1="623.68" y1="266.64" x2="624.88" y2="266.64" stroke="#2a8a74" stroke-width="0.3" />
<line x1="631.12" y1="262.18" x2="631.12" y2="265.58" stroke="#2a8a74" stroke-width="0.4" />
<line x1="630.52" y1="262.18" x2="631.72" y2="262.18" stroke="#2a8a74" stroke-width="0.3" />
<line x1="630.52" y1="265.58" x2="631.72" y2="265.58" stroke="#2a8a74" stroke-width="0.3" />
<polyline points="576.4,273.21 583.24,272.36 592.36,271.09 599.2,269.82 608.32,268.12 615.16,266.85 624.28,265.15 631.12,263.88" fill="none" stroke="#2a8a74" stroke-width="0.7" stroke-linejoin="round" />
<circle cx="576.4" cy="273.21" r="0.5" fill="#2a8a74" />
<circle cx="583.24" cy="272.36" r="0.5" fill="#2a8a74" />
<circle cx="592.36" cy="271.09" r="0.5" fill="#2a8a74" />
<circle cx="599.2" cy="269.82" r="0.5" fill="#2a8a74" />
<circle cx="608.32" cy="268.12" r="0.5" fill="#2a8a74" />
<circle cx="615.16" cy="266.85" r="0.5" fill="#2a8a74" />
<circle cx="624.28" cy="265.15" r="0.5" fill="#2a8a74" />
<circle cx="631.12" cy="263.88" r="0.5" fill="#2a8a74" />
<line x1="583.24" y1="271.94" x2="583.24" y2="272.36" stroke="#4472c4" stroke-width="0.4" />
<line x1="582.64" y1="271.94" x2="583.84" y2="271.94" stroke="#4472c4" stroke-width="0.3" />
<line x1="582.64" y1="272.36" x2="583.84" y2="272.36" stroke="#4472c4" stroke-width="0.3" />
<line x1="592.36" y1="270.32" x2="592.36" y2="271" stroke="#4472c4" stroke-width="0.4" />
<line x1="591.76" y1="270.32" x2="592.96" y2="270.32" stroke="#4472c4" stroke-width="0.3" />
<line x1="591.76" y1="271" x2="592.96" y2="271" stroke="#4472c4" stroke-width="0.3" />
<line x1="599.2" y1="268.54" x2="599.2" y2="269.39" stroke="#4472c4" stroke-width="0.4" />
<line x1="598.6" y1="268.54" x2="599.8" y2="268.54" stroke="#4472c4" stroke-width="0.3" />
<line x1="598.6" y1="269.39" x2="599.8" y2="269.39" stroke="#4472c4" stroke-width="0.3" />
<line x1="608.32" y1="266.21" x2="608.32" y2="267.48" stroke="#4472c4" stroke-width="0.4" />
<line x1="607.72" y1="266.21" x2="608.92" y2="266.21" stroke="#4472c4" stroke-width="0.3" />
<line x1="607.72" y1="267.48" x2="608.92" y2="267.48" stroke="#4472c4" stroke-width="0.3" />
<line x1="615.16" y1="264.09" x2="615.16" y2="265.36" stroke="#4472c4" stroke-width="0.4" />
<line x1="614.56" y1="264.09" x2="615.76" y2="264.09" stroke="#4472c4" stroke-width="0.3" />
<line x1="614.56" y1="265.36" x2="615.76" y2="265.36" stroke="#4472c4" stroke-width="0.3" />
<line x1="624.28" y1="260.49" x2="624.28" y2="262.18" stroke="#4472c4" stroke-width="0.4" />
<line x1="623.68" y1="260.49" x2="624.88" y2="260.49" stroke="#4472c4" stroke-width="0.3" />
<line x1="623.68" y1="262.18" x2="624.88" y2="262.18" stroke="#4472c4" stroke-width="0.3" />
<line x1="631.12" y1="257.73" x2="631.12" y2="259.85" stroke="#4472c4" stroke-width="0.4" />
<line x1="630.52" y1="257.73" x2="631.72" y2="257.73" stroke="#4472c4" stroke-width="0.3" />
<line x1="630.52" y1="259.85" x2="631.72" y2="259.85" stroke="#4472c4" stroke-width="0.3" />
<polyline points="576.4,273.21 583.24,272.15 592.36,270.66 599.2,268.97 608.32,266.85 615.16,264.73 624.28,261.34 631.12,258.79" fill="none" stroke="#4472c4" stroke-width="0.7" stroke-linejoin="round" />
<circle cx="576.4" cy="273.21" r="0.5" fill="#4472c4" />
<circle cx="583.24" cy="272.15" r="0.5" fill="#4472c4" />
<circle cx="592.36" cy="270.66" r="0.5" fill="#4472c4" />
<circle cx="599.2" cy="268.97" r="0.5" fill="#4472c4" />
<circle cx="608.32" cy="266.85" r="0.5" fill="#4472c4" />
<circle cx="615.16" cy="264.73" r="0.5" fill="#4472c4" />
<circle cx="624.28" cy="261.34" r="0.5" fill="#4472c4" />
<circle cx="631.12" cy="258.79" r="0.5" fill="#4472c4" />
<line x1="583.24" y1="271.72" x2="583.24" y2="272.15" stroke="#f0a048" stroke-width="0.4" />
<line x1="582.64" y1="271.72" x2="583.84" y2="271.72" stroke="#f0a048" stroke-width="0.3" />
<line x1="582.64" y1="272.15" x2="583.84" y2="272.15" stroke="#f0a048" stroke-width="0.3" />
<line x1="592.36" y1="269.39" x2="592.36" y2="270.24" stroke="#f0a048" stroke-width="0.4" />
<line x1="591.76" y1="269.39" x2="592.96" y2="269.39" stroke="#f0a048" stroke-width="0.3" />
<line x1="591.76" y1="270.24" x2="592.96" y2="270.24" stroke="#f0a048" stroke-width="0.3" />
<line x1="599.2" y1="266.64" x2="599.2" y2="267.91" stroke="#f0a048" stroke-width="0.4" />
<line x1="598.6" y1="266.64" x2="599.8" y2="266.64" stroke="#f0a048" stroke-width="0.3" />
<line x1="598.6" y1="267.91" x2="599.8" y2="267.91" stroke="#f0a048" stroke-width="0.3" />
<line x1="608.32" y1="262.18" x2="608.32" y2="264.73" stroke="#f0a048" stroke-width="0.4" />
<line x1="607.72" y1="262.18" x2="608.92" y2="262.18" stroke="#f0a048" stroke-width="0.3" />
<line x1="607.72" y1="264.73" x2="608.92" y2="264.73" stroke="#f0a048" stroke-width="0.3" />
<line x1="615.16" y1="257.94" x2="615.16" y2="261.34" stroke="#f0a048" stroke-width="0.4" />
<line x1="614.56" y1="257.94" x2="615.76" y2="257.94" stroke="#f0a048" stroke-width="0.3" />
<line x1="614.56" y1="261.34" x2="615.76" y2="261.34" stroke="#f0a048" stroke-width="0.3" />
<line x1="624.28" y1="251.16" x2="624.28" y2="256.25" stroke="#f0a048" stroke-width="0.4" />
<line x1="623.68" y1="251.16" x2="624.88" y2="251.16" stroke="#f0a048" stroke-width="0.3" />
<line x1="623.68" y1="256.25" x2="624.88" y2="256.25" stroke="#f0a048" stroke-width="0.3" />
<line x1="631.12" y1="244.8" x2="631.12" y2="250.74" stroke="#f0a048" stroke-width="0.4" />
<line x1="630.52" y1="244.8" x2="631.72" y2="244.8" stroke="#f0a048" stroke-width="0.3" />
<line x1="630.52" y1="250.74" x2="631.72" y2="250.74" stroke="#f0a048" stroke-width="0.3" />
<polyline points="576.4,273.21 583.24,271.94 592.36,269.82 599.2,267.27 608.32,263.46 615.16,259.64 624.28,253.7 631.12,247.77" fill="none" stroke="#f0a048" stroke-width="0.7" stroke-linejoin="round" />
<circle cx="576.4" cy="273.21" r="0.5" fill="#f0a048" />
<circle cx="583.24" cy="271.94" r="0.5" fill="#f0a048" />
<circle cx="592.36" cy="269.82" r="0.5" fill="#f0a048" />
<circle cx="599.2" cy="267.27" r="0.5" fill="#f0a048" />
<circle cx="608.32" cy="263.46" r="0.5" fill="#f0a048" />
<circle cx="615.16" cy="259.64" r="0.5" fill="#f0a048" />
<circle cx="624.28" cy="253.7" r="0.5" fill="#f0a048" />
<circle cx="631.12" cy="247.77" r="0.5" fill="#f0a048" />
<line x1="583.24" y1="271.72" x2="583.24" y2="272.15" stroke="#222" stroke-width="0.4" />
<line x1="582.64" y1="271.72" x2="583.84" y2="271.72" stroke="#222" stroke-width="0.3" />
<line x1="582.64" y1="272.15" x2="583.84" y2="272.15" stroke="#222" stroke-width="0.3" />
<line x1="592.36" y1="268.97" x2="592.36" y2="269.82" stroke="#222" stroke-width="0.4" />
<line x1="591.76" y1="268.97" x2="592.96" y2="268.97" stroke="#222" stroke-width="0.3" />
<line x1="591.76" y1="269.82" x2="592.96" y2="269.82" stroke="#222" stroke-width="0.3" />
<line x1="599.2" y1="266.21" x2="599.2" y2="267.48" stroke="#222" stroke-width="0.4" />
<line x1="598.6" y1="266.21" x2="599.8" y2="266.21" stroke="#222" stroke-width="0.3" />
<line x1="598.6" y1="267.48" x2="599.8" y2="267.48" stroke="#222" stroke-width="0.3" />
<line x1="608.32" y1="260.7" x2="608.32" y2="262.82" stroke="#222" stroke-width="0.4" />
<line x1="607.72" y1="260.7" x2="608.92" y2="260.7" stroke="#222" stroke-width="0.3" />
<line x1="607.72" y1="262.82" x2="608.92" y2="262.82" stroke="#222" stroke-width="0.3" />
<line x1="615.16" y1="256.04" x2="615.16" y2="259" stroke="#222" stroke-width="0.4" />
<line x1="614.56" y1="256.04" x2="615.76" y2="256.04" stroke="#222" stroke-width="0.3" />
<line x1="614.56" y1="259" x2="615.76" y2="259" stroke="#222" stroke-width="0.3" />
<line x1="624.28" y1="249.46" x2="624.28" y2="254.55" stroke="#222" stroke-width="0.4" />
<line x1="623.68" y1="249.46" x2="624.88" y2="249.46" stroke="#222" stroke-width="0.3" />
<line x1="623.68" y1="254.55" x2="624.88" y2="254.55" stroke="#222" stroke-width="0.3" />
<line x1="631.12" y1="243.1" x2="631.12" y2="250.74" stroke="#222" stroke-width="0.4" />
<line x1="630.52" y1="243.1" x2="631.72" y2="243.1" stroke="#222" stroke-width="0.3" />
<line x1="630.52" y1="250.74" x2="631.72" y2="250.74" stroke="#222" stroke-width="0.3" />
<polyline points="576.4,273.21 583.24,271.94 592.36,269.39 599.2,266.85 608.32,261.76 615.16,257.52 624.28,252.01 631.12,246.92" fill="none" stroke="#222" stroke-width="0.7" stroke-linejoin="round" />
<circle cx="576.4" cy="273.21" r="0.5" fill="#222" />
<circle cx="583.24" cy="271.94" r="0.5" fill="#222" />
<circle cx="592.36" cy="269.39" r="0.5" fill="#222" />
<circle cx="599.2" cy="266.85" r="0.5" fill="#222" />
<circle cx="608.32" cy="261.76" r="0.5" fill="#222" />
<circle cx="615.16" cy="257.52" r="0.5" fill="#222" />
<circle cx="624.28" cy="252.01" r="0.5" fill="#222" />
<circle cx="631.12" cy="246.92" r="0.5" fill="#222" />
<text transform="translate(563.2 255) rotate(-89.97) scale(1.1 1)" font-size="2.7" text-anchor="middle" fill="#333" font-weight="bold" stroke="#333" stroke-width="0.22" >Tumor Volume (mm<tspan dy="-0.8" font-size="1.6">3</tspan><tspan dy="0.8">)</tspan></text>
<text transform="translate(610.3 285) rotate(0.03) scale(1.1 1)" font-size="2.9" text-anchor="middle" fill="#333" font-weight="bold" stroke="#333" stroke-width="0.22" >Days Post Treatment</text>
<line x1="566.3" y1="290.4" x2="571.3" y2="290.4" stroke="#222" stroke-width="1.0" />
<text transform="translate(573.6 291.5) rotate(0.03) scale(1.1 1)" font-size="3" text-anchor="start" fill="#333" font-weight="bold" textLength="15.82" lengthAdjust="spacingAndGlyphs" stroke="#333" stroke-width="0.22" >NCG, PBS</text>
<line x1="596.4" y1="290.4" x2="601.4" y2="290.4" stroke="#2a8a74" stroke-width="1.0" />
<text transform="translate(604 291.5) rotate(0.03) scale(1.1 1)" font-size="3" text-anchor="start" fill="#333" font-weight="bold" textLength="24.55" lengthAdjust="spacingAndGlyphs" stroke="#333" stroke-width="0.22" >NCG, Tecentriq</text>
<line x1="635.5" y1="290.4" x2="640.5" y2="290.4" stroke="#f0a048" stroke-width="1.0" />
<text transform="translate(643.3 291.5) rotate(0.03) scale(1.1 1)" font-size="3" text-anchor="start" fill="#333" font-weight="bold" textLength="32.27" lengthAdjust="spacingAndGlyphs" stroke="#333" stroke-width="0.22" >NCG-MHC-dKO, PBS</text>
<line x1="685.6" y1="290.4" x2="690.6" y2="290.4" stroke="#4472c4" stroke-width="1.0" />
<text transform="translate(692.4 291.5) rotate(0.03) scale(1.1 1)" font-size="3" text-anchor="start" fill="#333" font-weight="bold" textLength="41.18" lengthAdjust="spacingAndGlyphs" stroke="#333" stroke-width="0.22" >NCG-MHC-dKO, Tecentriq</text>
<line x1="662.5" y1="233.9" x2="662.5" y2="276.2" stroke="#333" stroke-width="0.6" />
<line x1="662.2" y1="276.2" x2="735.01" y2="276.2" stroke="#333" stroke-width="0.6" />
<line x1="661.3" y1="276.2" x2="662.5" y2="276.2" stroke="#333" stroke-width="0.4" />
<text transform="translate(660.9 277.14) rotate(0.03) scale(1.1 1)" font-size="2.6" text-anchor="end" fill="#333" font-weight="bold" stroke="#333" stroke-width="0.22" >20</text>
<line x1="661.3" y1="267.8" x2="662.5" y2="267.8" stroke="#333" stroke-width="0.4" />
<text transform="translate(660.9 268.74) rotate(0.03) scale(1.1 1)" font-size="2.6" text-anchor="end" fill="#333" font-weight="bold" stroke="#333" stroke-width="0.22" >22</text>
<line x1="661.3" y1="259.4" x2="662.5" y2="259.4" stroke="#333" stroke-width="0.4" />
<text transform="translate(660.9 260.34) rotate(0.03) scale(1.1 1)" font-size="2.6" text-anchor="end" fill="#333" font-weight="bold" stroke="#333" stroke-width="0.22" >24</text>
<line x1="661.3" y1="251" x2="662.5" y2="251" stroke="#333" stroke-width="0.4" />
<text transform="translate(660.9 251.94) rotate(0.03) scale(1.1 1)" font-size="2.6" text-anchor="end" fill="#333" font-weight="bold" stroke="#333" stroke-width="0.22" >26</text>
<line x1="661.3" y1="242.6" x2="662.5" y2="242.6" stroke="#333" stroke-width="0.4" />
<text transform="translate(660.9 243.54) rotate(0.03) scale(1.1 1)" font-size="2.6" text-anchor="end" fill="#333" font-weight="bold" stroke="#333" stroke-width="0.22" >28</text>
<line x1="661.3" y1="234.2" x2="662.5" y2="234.2" stroke="#333" stroke-width="0.4" />
<text transform="translate(660.9 235.14) rotate(0.03) scale(1.1 1)" font-size="2.6" text-anchor="end" fill="#333" font-weight="bold" stroke="#333" stroke-width="0.22" >30</text>
<line x1="662.5" y1="276.2" x2="662.5" y2="277.4" stroke="#333" stroke-width="0.4" />
<text transform="translate(662.5 279.87) rotate(0.03) scale(1.1 1)" font-size="2.6" text-anchor="middle" fill="#333" font-weight="bold" stroke="#333" stroke-width="0.22" >0</text>
<line x1="674.59" y1="276.2" x2="674.59" y2="277.4" stroke="#333" stroke-width="0.4" />
<text transform="translate(674.59 279.87) rotate(0.03) scale(1.1 1)" font-size="2.6" text-anchor="middle" fill="#333" font-weight="bold" stroke="#333" stroke-width="0.22" >5</text>
<line x1="686.67" y1="276.2" x2="686.67" y2="277.4" stroke="#333" stroke-width="0.4" />
<text transform="translate(686.67 279.87) rotate(0.03) scale(1.1 1)" font-size="2.6" text-anchor="middle" fill="#333" font-weight="bold" stroke="#333" stroke-width="0.22" >10</text>
<line x1="698.75" y1="276.2" x2="698.75" y2="277.4" stroke="#333" stroke-width="0.4" />
<text transform="translate(698.75 279.87) rotate(0.03) scale(1.1 1)" font-size="2.6" text-anchor="middle" fill="#333" font-weight="bold" stroke="#333" stroke-width="0.22" >15</text>
<line x1="710.84" y1="276.2" x2="710.84" y2="277.4" stroke="#333" stroke-width="0.4" />
<text transform="translate(710.84 279.87) rotate(0.03) scale(1.1 1)" font-size="2.6" text-anchor="middle" fill="#333" font-weight="bold" stroke="#333" stroke-width="0.22" >20</text>
<line x1="722.92" y1="276.2" x2="722.92" y2="277.4" stroke="#333" stroke-width="0.4" />
<text transform="translate(722.92 279.87) rotate(0.03) scale(1.1 1)" font-size="2.6" text-anchor="middle" fill="#333" font-weight="bold" stroke="#333" stroke-width="0.22" >25</text>
<line x1="735.01" y1="276.2" x2="735.01" y2="277.4" stroke="#333" stroke-width="0.4" />
<text transform="translate(735.01 279.87) rotate(0.03) scale(1.1 1)" font-size="2.6" text-anchor="middle" fill="#333" font-weight="bold" stroke="#333" stroke-width="0.22" >30</text>
<line x1="662.5" y1="264.86" x2="662.5" y2="268.22" stroke="#2a8a74" stroke-width="0.4" />
<line x1="661.9" y1="264.86" x2="663.1" y2="264.86" stroke="#2a8a74" stroke-width="0.3" />
<line x1="661.9" y1="268.22" x2="663.1" y2="268.22" stroke="#2a8a74" stroke-width="0.3" />
<line x1="669.75" y1="264.02" x2="669.75" y2="268.22" stroke="#2a8a74" stroke-width="0.4" />
<line x1="669.15" y1="264.02" x2="670.35" y2="264.02" stroke="#2a8a74" stroke-width="0.3" />
<line x1="669.15" y1="268.22" x2="670.35" y2="268.22" stroke="#2a8a74" stroke-width="0.3" />
<line x1="679.42" y1="264.86" x2="679.42" y2="269.9" stroke="#2a8a74" stroke-width="0.4" />
<line x1="678.82" y1="264.86" x2="680.02" y2="264.86" stroke="#2a8a74" stroke-width="0.3" />
<line x1="678.82" y1="269.9" x2="680.02" y2="269.9" stroke="#2a8a74" stroke-width="0.3" />
<line x1="686.67" y1="263.18" x2="686.67" y2="267.38" stroke="#2a8a74" stroke-width="0.4" />
<line x1="686.07" y1="263.18" x2="687.27" y2="263.18" stroke="#2a8a74" stroke-width="0.3" />
<line x1="686.07" y1="267.38" x2="687.27" y2="267.38" stroke="#2a8a74" stroke-width="0.3" />
<line x1="696.34" y1="262.34" x2="696.34" y2="266.54" stroke="#2a8a74" stroke-width="0.4" />
<line x1="695.74" y1="262.34" x2="696.94" y2="262.34" stroke="#2a8a74" stroke-width="0.3" />
<line x1="695.74" y1="266.54" x2="696.94" y2="266.54" stroke="#2a8a74" stroke-width="0.3" />
<line x1="703.59" y1="259.4" x2="703.59" y2="263.6" stroke="#2a8a74" stroke-width="0.4" />
<line x1="702.99" y1="259.4" x2="704.19" y2="259.4" stroke="#2a8a74" stroke-width="0.3" />
<line x1="702.99" y1="263.6" x2="704.19" y2="263.6" stroke="#2a8a74" stroke-width="0.3" />
<line x1="713.26" y1="263.6" x2="713.26" y2="268.64" stroke="#2a8a74" stroke-width="0.4" />
<line x1="712.66" y1="263.6" x2="713.86" y2="263.6" stroke="#2a8a74" stroke-width="0.3" />
<line x1="712.66" y1="268.64" x2="713.86" y2="268.64" stroke="#2a8a74" stroke-width="0.3" />
<line x1="720.51" y1="264.44" x2="720.51" y2="269.48" stroke="#2a8a74" stroke-width="0.4" />
<line x1="719.91" y1="264.44" x2="721.11" y2="264.44" stroke="#2a8a74" stroke-width="0.3" />
<line x1="719.91" y1="269.48" x2="721.11" y2="269.48" stroke="#2a8a74" stroke-width="0.3" />
<polyline points="662.5,266.54 669.75,266.12 679.42,267.38 686.67,265.28 696.34,264.44 703.59,261.5 713.26,266.12 720.51,266.96" fill="none" stroke="#2a8a74" stroke-width="0.7" stroke-linejoin="round" />
<circle cx="662.5" cy="266.54" r="0.5" fill="#2a8a74" />
<circle cx="669.75" cy="266.12" r="0.5" fill="#2a8a74" />
<circle cx="679.42" cy="267.38" r="0.5" fill="#2a8a74" />
<circle cx="686.67" cy="265.28" r="0.5" fill="#2a8a74" />
<circle cx="696.34" cy="264.44" r="0.5" fill="#2a8a74" />
<circle cx="703.59" cy="261.5" r="0.5" fill="#2a8a74" />
<circle cx="713.26" cy="266.12" r="0.5" fill="#2a8a74" />
<circle cx="720.51" cy="266.96" r="0.5" fill="#2a8a74" />
<line x1="662.5" y1="264.44" x2="662.5" y2="268.64" stroke="#222" stroke-width="0.4" />
<line x1="661.9" y1="264.44" x2="663.1" y2="264.44" stroke="#222" stroke-width="0.3" />
<line x1="661.9" y1="268.64" x2="663.1" y2="268.64" stroke="#222" stroke-width="0.3" />
<line x1="669.75" y1="262.76" x2="669.75" y2="267.8" stroke="#222" stroke-width="0.4" />
<line x1="669.15" y1="262.76" x2="670.35" y2="262.76" stroke="#222" stroke-width="0.3" />
<line x1="669.15" y1="267.8" x2="670.35" y2="267.8" stroke="#222" stroke-width="0.3" />
<line x1="679.42" y1="263.18" x2="679.42" y2="269.06" stroke="#222" stroke-width="0.4" />
<line x1="678.82" y1="263.18" x2="680.02" y2="263.18" stroke="#222" stroke-width="0.3" />
<line x1="678.82" y1="269.06" x2="680.02" y2="269.06" stroke="#222" stroke-width="0.3" />
<line x1="686.67" y1="259.4" x2="686.67" y2="265.28" stroke="#222" stroke-width="0.4" />
<line x1="686.07" y1="259.4" x2="687.27" y2="259.4" stroke="#222" stroke-width="0.3" />
<line x1="686.07" y1="265.28" x2="687.27" y2="265.28" stroke="#222" stroke-width="0.3" />
<line x1="696.34" y1="258.56" x2="696.34" y2="263.6" stroke="#222" stroke-width="0.4" />
<line x1="695.74" y1="258.56" x2="696.94" y2="258.56" stroke="#222" stroke-width="0.3" />
<line x1="695.74" y1="263.6" x2="696.94" y2="263.6" stroke="#222" stroke-width="0.3" />
<line x1="703.59" y1="256.88" x2="703.59" y2="261.08" stroke="#222" stroke-width="0.4" />
<line x1="702.99" y1="256.88" x2="704.19" y2="256.88" stroke="#222" stroke-width="0.3" />
<line x1="702.99" y1="261.08" x2="704.19" y2="261.08" stroke="#222" stroke-width="0.3" />
<line x1="713.26" y1="260.24" x2="713.26" y2="266.96" stroke="#222" stroke-width="0.4" />
<line x1="712.66" y1="260.24" x2="713.86" y2="260.24" stroke="#222" stroke-width="0.3" />
<line x1="712.66" y1="266.96" x2="713.86" y2="266.96" stroke="#222" stroke-width="0.3" />
<line x1="720.51" y1="260.66" x2="720.51" y2="269.06" stroke="#222" stroke-width="0.4" />
<line x1="719.91" y1="260.66" x2="721.11" y2="260.66" stroke="#222" stroke-width="0.3" />
<line x1="719.91" y1="269.06" x2="721.11" y2="269.06" stroke="#222" stroke-width="0.3" />
<polyline points="662.5,266.54 669.75,265.28 679.42,266.12 686.67,262.34 696.34,261.08 703.59,258.98 713.26,263.6 720.51,264.86" fill="none" stroke="#222" stroke-width="0.7" stroke-linejoin="round" />
<circle cx="662.5" cy="266.54" r="0.5" fill="#222" />
<circle cx="669.75" cy="265.28" r="0.5" fill="#222" />
<circle cx="679.42" cy="266.12" r="0.5" fill="#222" />
<circle cx="686.67" cy="262.34" r="0.5" fill="#222" />
<circle cx="696.34" cy="261.08" r="0.5" fill="#222" />
<circle cx="703.59" cy="258.98" r="0.5" fill="#222" />
<circle cx="713.26" cy="263.6" r="0.5" fill="#222" />
<circle cx="720.51" cy="264.86" r="0.5" fill="#222" />
<line x1="662.5" y1="260.66" x2="662.5" y2="264.02" stroke="#f0a048" stroke-width="0.4" />
<line x1="661.9" y1="260.66" x2="663.1" y2="260.66" stroke="#f0a048" stroke-width="0.3" />
<line x1="661.9" y1="264.02" x2="663.1" y2="264.02" stroke="#f0a048" stroke-width="0.3" />
<line x1="669.75" y1="260.24" x2="669.75" y2="265.28" stroke="#f0a048" stroke-width="0.4" />
<line x1="669.15" y1="260.24" x2="670.35" y2="260.24" stroke="#f0a048" stroke-width="0.3" />
<line x1="669.15" y1="265.28" x2="670.35" y2="265.28" stroke="#f0a048" stroke-width="0.3" />
<line x1="679.42" y1="258.56" x2="679.42" y2="263.6" stroke="#f0a048" stroke-width="0.4" />
<line x1="678.82" y1="258.56" x2="680.02" y2="258.56" stroke="#f0a048" stroke-width="0.3" />
<line x1="678.82" y1="263.6" x2="680.02" y2="263.6" stroke="#f0a048" stroke-width="0.3" />
<line x1="686.67" y1="257.72" x2="686.67" y2="261.92" stroke="#f0a048" stroke-width="0.4" />
<line x1="686.07" y1="257.72" x2="687.27" y2="257.72" stroke="#f0a048" stroke-width="0.3" />
<line x1="686.07" y1="261.92" x2="687.27" y2="261.92" stroke="#f0a048" stroke-width="0.3" />
<line x1="696.34" y1="258.14" x2="696.34" y2="262.34" stroke="#f0a048" stroke-width="0.4" />
<line x1="695.74" y1="258.14" x2="696.94" y2="258.14" stroke="#f0a048" stroke-width="0.3" />
<line x1="695.74" y1="262.34" x2="696.94" y2="262.34" stroke="#f0a048" stroke-width="0.3" />
<line x1="703.59" y1="256.46" x2="703.59" y2="259.82" stroke="#f0a048" stroke-width="0.4" />
<line x1="702.99" y1="256.46" x2="704.19" y2="256.46" stroke="#f0a048" stroke-width="0.3" />
<line x1="702.99" y1="259.82" x2="704.19" y2="259.82" stroke="#f0a048" stroke-width="0.3" />
<line x1="713.26" y1="256.46" x2="713.26" y2="262.34" stroke="#f0a048" stroke-width="0.4" />
<line x1="712.66" y1="256.46" x2="713.86" y2="256.46" stroke="#f0a048" stroke-width="0.3" />
<line x1="712.66" y1="262.34" x2="713.86" y2="262.34" stroke="#f0a048" stroke-width="0.3" />
<line x1="720.51" y1="256.04" x2="720.51" y2="261.92" stroke="#f0a048" stroke-width="0.4" />
<line x1="719.91" y1="256.04" x2="721.11" y2="256.04" stroke="#f0a048" stroke-width="0.3" />
<line x1="719.91" y1="261.92" x2="721.11" y2="261.92" stroke="#f0a048" stroke-width="0.3" />
<polyline points="662.5,262.34 669.75,262.76 679.42,261.08 686.67,259.82 696.34,260.24 703.59,258.14 713.26,259.4 720.51,258.98" fill="none" stroke="#f0a048" stroke-width="0.7" stroke-linejoin="round" />
<circle cx="662.5" cy="262.34" r="0.5" fill="#f0a048" />
<circle cx="669.75" cy="262.76" r="0.5" fill="#f0a048" />
<circle cx="679.42" cy="261.08" r="0.5" fill="#f0a048" />
<circle cx="686.67" cy="259.82" r="0.5" fill="#f0a048" />
<circle cx="696.34" cy="260.24" r="0.5" fill="#f0a048" />
<circle cx="703.59" cy="258.14" r="0.5" fill="#f0a048" />
<circle cx="713.26" cy="259.4" r="0.5" fill="#f0a048" />
<circle cx="720.51" cy="258.98" r="0.5" fill="#f0a048" />
<line x1="662.5" y1="256.88" x2="662.5" y2="260.24" stroke="#4472c4" stroke-width="0.4" />
<line x1="661.9" y1="256.88" x2="663.1" y2="256.88" stroke="#4472c4" stroke-width="0.3" />
<line x1="661.9" y1="260.24" x2="663.1" y2="260.24" stroke="#4472c4" stroke-width="0.3" />
<line x1="669.75" y1="254.78" x2="669.75" y2="258.98" stroke="#4472c4" stroke-width="0.4" />
<line x1="669.15" y1="254.78" x2="670.35" y2="254.78" stroke="#4472c4" stroke-width="0.3" />
<line x1="669.15" y1="258.98" x2="670.35" y2="258.98" stroke="#4472c4" stroke-width="0.3" />
<line x1="679.42" y1="253.52" x2="679.42" y2="258.56" stroke="#4472c4" stroke-width="0.4" />
<line x1="678.82" y1="253.52" x2="680.02" y2="253.52" stroke="#4472c4" stroke-width="0.3" />
<line x1="678.82" y1="258.56" x2="680.02" y2="258.56" stroke="#4472c4" stroke-width="0.3" />
<line x1="686.67" y1="253.94" x2="686.67" y2="258.14" stroke="#4472c4" stroke-width="0.4" />
<line x1="686.07" y1="253.94" x2="687.27" y2="253.94" stroke="#4472c4" stroke-width="0.3" />
<line x1="686.07" y1="258.14" x2="687.27" y2="258.14" stroke="#4472c4" stroke-width="0.3" />
<line x1="696.34" y1="253.52" x2="696.34" y2="257.72" stroke="#4472c4" stroke-width="0.4" />
<line x1="695.74" y1="253.52" x2="696.94" y2="253.52" stroke="#4472c4" stroke-width="0.3" />
<line x1="695.74" y1="257.72" x2="696.94" y2="257.72" stroke="#4472c4" stroke-width="0.3" />
<line x1="703.59" y1="253.1" x2="703.59" y2="257.3" stroke="#4472c4" stroke-width="0.4" />
<line x1="702.99" y1="253.1" x2="704.19" y2="253.1" stroke="#4472c4" stroke-width="0.3" />
<line x1="702.99" y1="257.3" x2="704.19" y2="257.3" stroke="#4472c4" stroke-width="0.3" />
<line x1="713.26" y1="250.58" x2="713.26" y2="255.62" stroke="#4472c4" stroke-width="0.4" />
<line x1="712.66" y1="250.58" x2="713.86" y2="250.58" stroke="#4472c4" stroke-width="0.3" />
<line x1="712.66" y1="255.62" x2="713.86" y2="255.62" stroke="#4472c4" stroke-width="0.3" />
<line x1="720.51" y1="249.74" x2="720.51" y2="254.78" stroke="#4472c4" stroke-width="0.4" />
<line x1="719.91" y1="249.74" x2="721.11" y2="249.74" stroke="#4472c4" stroke-width="0.3" />
<line x1="719.91" y1="254.78" x2="721.11" y2="254.78" stroke="#4472c4" stroke-width="0.3" />
<polyline points="662.5,258.56 669.75,256.88 679.42,256.04 686.67,256.04 696.34,255.62 703.59,255.2 713.26,253.1 720.51,252.26" fill="none" stroke="#4472c4" stroke-width="0.7" stroke-linejoin="round" />
<circle cx="662.5" cy="258.56" r="0.5" fill="#4472c4" />
<circle cx="669.75" cy="256.88" r="0.5" fill="#4472c4" />
<circle cx="679.42" cy="256.04" r="0.5" fill="#4472c4" />
<circle cx="686.67" cy="256.04" r="0.5" fill="#4472c4" />
<circle cx="696.34" cy="255.62" r="0.5" fill="#4472c4" />
<circle cx="703.59" cy="255.2" r="0.5" fill="#4472c4" />
<circle cx="713.26" cy="253.1" r="0.5" fill="#4472c4" />
<circle cx="720.51" cy="252.26" r="0.5" fill="#4472c4" />
<text transform="translate(654 255) rotate(-89.97) scale(1.1 1)" font-size="2.7" text-anchor="middle" fill="#333" font-weight="bold" stroke="#333" stroke-width="0.22" >Body Weight (g)</text>
<text transform="translate(698.5 285) rotate(0.03) scale(1.1 1)" font-size="2.9" text-anchor="middle" fill="#333" font-weight="bold" stroke="#333" stroke-width="0.22" >Days Post Treatment</text>
<line x1="537.3" y1="382.7" x2="537.3" y2="409.4" stroke="#333" stroke-width="0.5" />
<line x1="537.1" y1="409.4" x2="564.7" y2="409.4" stroke="#333" stroke-width="0.5" />
<line x1="536.3" y1="409.4" x2="537.3" y2="409.4" stroke="#333" stroke-width="0.35" />
<line x1="536.3" y1="404.06" x2="537.3" y2="404.06" stroke="#333" stroke-width="0.35" />
<line x1="536.3" y1="398.72" x2="537.3" y2="398.72" stroke="#333" stroke-width="0.35" />
<line x1="536.3" y1="393.38" x2="537.3" y2="393.38" stroke="#333" stroke-width="0.35" />
<line x1="536.3" y1="388.04" x2="537.3" y2="388.04" stroke="#333" stroke-width="0.35" />
<line x1="536.3" y1="382.7" x2="537.3" y2="382.7" stroke="#333" stroke-width="0.35" />
<text transform="translate(535.8 410.1) rotate(0.03) scale(1.1 1)" font-size="2" text-anchor="end" fill="#555" font-weight="bold" stroke="#555" stroke-width="0.1" >0</text>
<text transform="translate(535.8 404.76) rotate(0.03) scale(1.1 1)" font-size="2" text-anchor="end" fill="#555" font-weight="bold" stroke="#555" stroke-width="0.1" >5000</text>
<text transform="translate(535.8 399.42) rotate(0.03) scale(1.1 1)" font-size="2" text-anchor="end" fill="#555" font-weight="bold" stroke="#555" stroke-width="0.1" >10000</text>
<text transform="translate(535.8 394.08) rotate(0.03) scale(1.1 1)" font-size="2" text-anchor="end" fill="#555" font-weight="bold" stroke="#555" stroke-width="0.1" >15000</text>
<text transform="translate(535.8 388.74) rotate(0.03) scale(1.1 1)" font-size="2" text-anchor="end" fill="#555" font-weight="bold" stroke="#555" stroke-width="0.1" >20000</text>
<text transform="translate(535.8 383.4) rotate(0.03) scale(1.1 1)" font-size="2" text-anchor="end" fill="#555" font-weight="bold" stroke="#555" stroke-width="0.1" >25000</text>
<rect x="539.56" y="409" width="3.7" height="0.4" fill="#fff" stroke="#333" stroke-width="0.45" />
<rect x="544.49" y="408.9" width="3.7" height="0.5" fill="#fff" stroke="#e8242c" stroke-width="0.45" />
<circle cx="541.41" cy="408.7" r="0.55" fill="#222" />
<polygon points="545.54,409.14 547.14,409.14 546.34,407.7" fill="#e8242c"/>
<rect x="553.32" y="395.2" width="3.7" height="14.2" fill="#fff" stroke="#333" stroke-width="0.5" />
<rect x="558.74" y="388.7" width="3.7" height="20.7" fill="#fff" stroke="#e8242c" stroke-width="0.5" />
<line x1="555.16" y1="393" x2="555.16" y2="396.7" stroke="#333" stroke-width="0.4" />
<line x1="560.59" y1="385.5" x2="560.59" y2="390.7" stroke="#e8242c" stroke-width="0.4" />
<circle cx="554.68" cy="393.6" r="0.5" fill="#222" />
<circle cx="555.04" cy="394.8" r="0.5" fill="#222" />
<circle cx="555.43" cy="396.1" r="0.5" fill="#222" />
<polygon points="560.54,386.22 561.84,386.22 561.19,385.05" fill="#e8242c"/>
<polygon points="560.1,388.42 561.4,388.42 560.75,387.25" fill="#e8242c"/>
<polygon points="559.7,390.42 561,390.42 560.35,389.25" fill="#e8242c"/>
<text transform="translate(543.88 413) rotate(0.03) scale(1.1 1)" font-size="2.6" text-anchor="middle" fill="#222" font-weight="bold" stroke="#222" stroke-width="0.22" >PBS</text>
<text transform="translate(557.48 413) rotate(0.03) scale(1.1 1)" font-size="2.6" text-anchor="middle" fill="#222" font-weight="bold" stroke="#222" stroke-width="0.22" >OKT3</text>
<text transform="translate(531.1 379.5) rotate(0.03) scale(1.1 1)" font-size="2.2" text-anchor="start" fill="#444" font-weight="bold" stroke="#444" stroke-width="0.22" >Human IL2</text>
<text transform="translate(530.9 396.05) rotate(-89.97) scale(1.1 1)" font-size="2.1" text-anchor="middle" fill="#555" font-weight="bold" stroke="#555" stroke-width="0.1" >IL2 (pg/ml)</text>
<circle cx="539.9" cy="383.3" r="0.5" fill="#222" />
<text transform="translate(542.5 384) rotate(0.03) scale(1.1 1)" font-size="1.9" text-anchor="start" fill="#333" font-weight="bold" stroke="#333" stroke-width="0.22" >NCG</text>
<polygon points="539.3,386.78 540.5,386.78 539.9,385.7" fill="#e8242c"/>
<text transform="translate(542.5 387.1) rotate(0.03) scale(1.1 1)" font-size="1.9" text-anchor="start" fill="#e8242c" font-weight="bold" stroke="#e8242c" stroke-width="0.22" >NCG-MHC-dKO</text>
<line x1="587.8" y1="382.7" x2="587.8" y2="409.4" stroke="#333" stroke-width="0.5" />
<line x1="587.6" y1="409.4" x2="614.3" y2="409.4" stroke="#333" stroke-width="0.5" />
<line x1="586.8" y1="409.4" x2="587.8" y2="409.4" stroke="#333" stroke-width="0.35" />
<line x1="586.8" y1="404.06" x2="587.8" y2="404.06" stroke="#333" stroke-width="0.35" />
<line x1="586.8" y1="398.72" x2="587.8" y2="398.72" stroke="#333" stroke-width="0.35" />
<line x1="586.8" y1="393.38" x2="587.8" y2="393.38" stroke="#333" stroke-width="0.35" />
<line x1="586.8" y1="388.04" x2="587.8" y2="388.04" stroke="#333" stroke-width="0.35" />
<line x1="586.8" y1="382.7" x2="587.8" y2="382.7" stroke="#333" stroke-width="0.35" />
<text transform="translate(586.3 410.1) rotate(0.03) scale(1.1 1)" font-size="2" text-anchor="end" fill="#555" font-weight="bold" stroke="#555" stroke-width="0.1" >0</text>
<text transform="translate(586.3 404.76) rotate(0.03) scale(1.1 1)" font-size="2" text-anchor="end" fill="#555" font-weight="bold" stroke="#555" stroke-width="0.1" >50</text>
<text transform="translate(586.3 399.42) rotate(0.03) scale(1.1 1)" font-size="2" text-anchor="end" fill="#555" font-weight="bold" stroke="#555" stroke-width="0.1" >100</text>
<text transform="translate(586.3 394.08) rotate(0.03) scale(1.1 1)" font-size="2" text-anchor="end" fill="#555" font-weight="bold" stroke="#555" stroke-width="0.1" >150</text>
<text transform="translate(586.3 388.74) rotate(0.03) scale(1.1 1)" font-size="2" text-anchor="end" fill="#555" font-weight="bold" stroke="#555" stroke-width="0.1" >200</text>
<text transform="translate(586.3 383.4) rotate(0.03) scale(1.1 1)" font-size="2" text-anchor="end" fill="#555" font-weight="bold" stroke="#555" stroke-width="0.1" >250</text>
<rect x="589.99" y="408.9" width="3.58" height="0.5" fill="#fff" stroke="#333" stroke-width="0.45" />
<rect x="594.76" y="408.9" width="3.58" height="0.5" fill="#fff" stroke="#e8242c" stroke-width="0.45" />
<circle cx="591.77" cy="408.6" r="0.55" fill="#222" />
<polygon points="595.75,409.14 597.34,409.14 596.54,407.7" fill="#e8242c"/>
<rect x="603.29" y="395.7" width="3.58" height="13.7" fill="#fff" stroke="#333" stroke-width="0.5" />
<rect x="608.54" y="389.9" width="3.58" height="19.5" fill="#fff" stroke="#e8242c" stroke-width="0.5" />
<line x1="605.08" y1="393.5" x2="605.08" y2="397.2" stroke="#333" stroke-width="0.4" />
<line x1="610.32" y1="386.7" x2="610.32" y2="391.9" stroke="#e8242c" stroke-width="0.4" />
<circle cx="604.6" cy="394.1" r="0.5" fill="#222" />
<circle cx="604.96" cy="395.3" r="0.5" fill="#222" />
<circle cx="605.35" cy="396.6" r="0.5" fill="#222" />
<polygon points="610.27,387.42 611.57,387.42 610.92,386.25" fill="#e8242c"/>
<polygon points="609.83,389.62 611.13,389.62 610.48,388.45" fill="#e8242c"/>
<polygon points="609.43,391.62 610.73,391.62 610.08,390.45" fill="#e8242c"/>
<text transform="translate(594.16 413) rotate(0.03) scale(1.1 1)" font-size="2.6" text-anchor="middle" fill="#222" font-weight="bold" stroke="#222" stroke-width="0.22" >PBS</text>
<text transform="translate(607.3 413) rotate(0.03) scale(1.1 1)" font-size="2.6" text-anchor="middle" fill="#222" font-weight="bold" stroke="#222" stroke-width="0.22" >OKT3</text>
<text transform="translate(581.6 379.5) rotate(0.03) scale(1.1 1)" font-size="2.2" text-anchor="start" fill="#444" font-weight="bold" stroke="#444" stroke-width="0.22" >Human IL4</text>
<text transform="translate(581.4 396.05) rotate(-89.97) scale(1.1 1)" font-size="2.1" text-anchor="middle" fill="#555" font-weight="bold" stroke="#555" stroke-width="0.1" >IL4 (pg/ml)</text>
<line x1="638.8" y1="382.7" x2="638.8" y2="409.4" stroke="#333" stroke-width="0.5" />
<line x1="638.6" y1="409.4" x2="665.7" y2="409.4" stroke="#333" stroke-width="0.5" />
<line x1="637.8" y1="409.4" x2="638.8" y2="409.4" stroke="#333" stroke-width="0.35" />
<line x1="637.8" y1="404.06" x2="638.8" y2="404.06" stroke="#333" stroke-width="0.35" />
<line x1="637.8" y1="398.72" x2="638.8" y2="398.72" stroke="#333" stroke-width="0.35" />
<line x1="637.8" y1="393.38" x2="638.8" y2="393.38" stroke="#333" stroke-width="0.35" />
<line x1="637.8" y1="388.04" x2="638.8" y2="388.04" stroke="#333" stroke-width="0.35" />
<line x1="637.8" y1="382.7" x2="638.8" y2="382.7" stroke="#333" stroke-width="0.35" />
<text transform="translate(637.3 410.1) rotate(0.03) scale(1.1 1)" font-size="2" text-anchor="end" fill="#555" font-weight="bold" stroke="#555" stroke-width="0.1" >0</text>
<text transform="translate(637.3 404.76) rotate(0.03) scale(1.1 1)" font-size="2" text-anchor="end" fill="#555" font-weight="bold" stroke="#555" stroke-width="0.1" >100</text>
<text transform="translate(637.3 399.42) rotate(0.03) scale(1.1 1)" font-size="2" text-anchor="end" fill="#555" font-weight="bold" stroke="#555" stroke-width="0.1" >200</text>
<text transform="translate(637.3 394.08) rotate(0.03) scale(1.1 1)" font-size="2" text-anchor="end" fill="#555" font-weight="bold" stroke="#555" stroke-width="0.1" >300</text>
<text transform="translate(637.3 388.74) rotate(0.03) scale(1.1 1)" font-size="2" text-anchor="end" fill="#555" font-weight="bold" stroke="#555" stroke-width="0.1" >400</text>
<text transform="translate(637.3 383.4) rotate(0.03) scale(1.1 1)" font-size="2" text-anchor="end" fill="#555" font-weight="bold" stroke="#555" stroke-width="0.1" >500</text>
<rect x="641.02" y="408.4" width="3.63" height="1" fill="#fff" stroke="#333" stroke-width="0.45" />
<rect x="645.86" y="408.2" width="3.63" height="1.2" fill="#fff" stroke="#e8242c" stroke-width="0.45" />
<circle cx="642.83" cy="408.1" r="0.55" fill="#222" />
<polygon points="646.88,408.44 648.48,408.44 647.68,407" fill="#e8242c"/>
<rect x="654.52" y="399.3" width="3.63" height="10.1" fill="#fff" stroke="#333" stroke-width="0.5" />
<rect x="659.85" y="393.6" width="3.63" height="15.8" fill="#fff" stroke="#e8242c" stroke-width="0.5" />
<line x1="656.34" y1="397.1" x2="656.34" y2="400.8" stroke="#333" stroke-width="0.4" />
<line x1="661.67" y1="390.4" x2="661.67" y2="395.6" stroke="#e8242c" stroke-width="0.4" />
<circle cx="655.86" cy="397.7" r="0.5" fill="#222" />
<circle cx="656.22" cy="398.9" r="0.5" fill="#222" />
<circle cx="656.61" cy="400.2" r="0.5" fill="#222" />
<polygon points="661.62,391.12 662.92,391.12 662.27,389.95" fill="#e8242c"/>
<polygon points="661.18,393.32 662.48,393.32 661.83,392.15" fill="#e8242c"/>
<polygon points="660.78,395.32 662.08,395.32 661.43,394.15" fill="#e8242c"/>
<text transform="translate(645.26 413) rotate(0.03) scale(1.1 1)" font-size="2.6" text-anchor="middle" fill="#222" font-weight="bold" stroke="#222" stroke-width="0.22" >PBS</text>
<text transform="translate(658.6 413) rotate(0.03) scale(1.1 1)" font-size="2.6" text-anchor="middle" fill="#222" font-weight="bold" stroke="#222" stroke-width="0.22" >OKT3</text>
<text transform="translate(632.6 379.5) rotate(0.03) scale(1.1 1)" font-size="2.2" text-anchor="start" fill="#444" font-weight="bold" stroke="#444" stroke-width="0.22" >Human IL6</text>
<text transform="translate(632.4 396.05) rotate(-89.97) scale(1.1 1)" font-size="2.1" text-anchor="middle" fill="#555" font-weight="bold" stroke="#555" stroke-width="0.1" >IL6 (pg/ml)</text>
<line x1="537.3" y1="421" x2="537.3" y2="447.4" stroke="#333" stroke-width="0.5" />
<line x1="537.1" y1="447.4" x2="564.7" y2="447.4" stroke="#333" stroke-width="0.5" />
<line x1="536.3" y1="447.4" x2="537.3" y2="447.4" stroke="#333" stroke-width="0.35" />
<line x1="536.3" y1="442.12" x2="537.3" y2="442.12" stroke="#333" stroke-width="0.35" />
<line x1="536.3" y1="436.84" x2="537.3" y2="436.84" stroke="#333" stroke-width="0.35" />
<line x1="536.3" y1="431.56" x2="537.3" y2="431.56" stroke="#333" stroke-width="0.35" />
<line x1="536.3" y1="426.28" x2="537.3" y2="426.28" stroke="#333" stroke-width="0.35" />
<line x1="536.3" y1="421" x2="537.3" y2="421" stroke="#333" stroke-width="0.35" />
<text transform="translate(535.8 448.1) rotate(0.03) scale(1.1 1)" font-size="2" text-anchor="end" fill="#555" font-weight="bold" stroke="#555" stroke-width="0.1" >0</text>
<text transform="translate(535.8 442.82) rotate(0.03) scale(1.1 1)" font-size="2" text-anchor="end" fill="#555" font-weight="bold" stroke="#555" stroke-width="0.1" >200</text>
<text transform="translate(535.8 437.54) rotate(0.03) scale(1.1 1)" font-size="2" text-anchor="end" fill="#555" font-weight="bold" stroke="#555" stroke-width="0.1" >400</text>
<text transform="translate(535.8 432.26) rotate(0.03) scale(1.1 1)" font-size="2" text-anchor="end" fill="#555" font-weight="bold" stroke="#555" stroke-width="0.1" >600</text>
<text transform="translate(535.8 426.98) rotate(0.03) scale(1.1 1)" font-size="2" text-anchor="end" fill="#555" font-weight="bold" stroke="#555" stroke-width="0.1" >800</text>
<text transform="translate(535.8 421.7) rotate(0.03) scale(1.1 1)" font-size="2" text-anchor="end" fill="#555" font-weight="bold" stroke="#555" stroke-width="0.1" >1000</text>
<rect x="539.56" y="445.8" width="3.7" height="1.6" fill="#fff" stroke="#333" stroke-width="0.45" />
<rect x="544.49" y="445.6" width="3.7" height="1.8" fill="#fff" stroke="#e8242c" stroke-width="0.45" />
<circle cx="541.41" cy="445.5" r="0.55" fill="#222" />
<polygon points="545.54,445.84 547.14,445.84 546.34,444.4" fill="#e8242c"/>
<rect x="553.32" y="430.3" width="3.7" height="17.1" fill="#fff" stroke="#333" stroke-width="0.5" />
<rect x="558.74" y="425.4" width="3.7" height="22" fill="#fff" stroke="#e8242c" stroke-width="0.5" />
<line x1="555.16" y1="428.1" x2="555.16" y2="431.8" stroke="#333" stroke-width="0.4" />
<line x1="560.59" y1="422.2" x2="560.59" y2="427.4" stroke="#e8242c" stroke-width="0.4" />
<circle cx="554.68" cy="428.7" r="0.5" fill="#222" />
<circle cx="555.04" cy="429.9" r="0.5" fill="#222" />
<circle cx="555.43" cy="431.2" r="0.5" fill="#222" />
<polygon points="560.54,422.92 561.84,422.92 561.19,421.75" fill="#e8242c"/>
<polygon points="560.1,425.12 561.4,425.12 560.75,423.95" fill="#e8242c"/>
<polygon points="559.7,427.12 561,427.12 560.35,425.95" fill="#e8242c"/>
<text transform="translate(543.88 451) rotate(0.03) scale(1.1 1)" font-size="2.6" text-anchor="middle" fill="#222" font-weight="bold" stroke="#222" stroke-width="0.22" >PBS</text>
<text transform="translate(557.48 451) rotate(0.03) scale(1.1 1)" font-size="2.6" text-anchor="middle" fill="#222" font-weight="bold" stroke="#222" stroke-width="0.22" >OKT3</text>
<text transform="translate(531.1 417.8) rotate(0.03) scale(1.1 1)" font-size="2.2" text-anchor="start" fill="#444" font-weight="bold" stroke="#444" stroke-width="0.22" >Human IL10</text>
<text transform="translate(530.9 434.2) rotate(-89.97) scale(1.1 1)" font-size="2.1" text-anchor="middle" fill="#555" font-weight="bold" stroke="#555" stroke-width="0.1" >IL10 (pg/ml)</text>
<line x1="587.8" y1="421" x2="587.8" y2="447.4" stroke="#333" stroke-width="0.5" />
<line x1="587.6" y1="447.4" x2="614.3" y2="447.4" stroke="#333" stroke-width="0.5" />
<line x1="586.8" y1="447.4" x2="587.8" y2="447.4" stroke="#333" stroke-width="0.35" />
<line x1="586.8" y1="442.12" x2="587.8" y2="442.12" stroke="#333" stroke-width="0.35" />
<line x1="586.8" y1="436.84" x2="587.8" y2="436.84" stroke="#333" stroke-width="0.35" />
<line x1="586.8" y1="431.56" x2="587.8" y2="431.56" stroke="#333" stroke-width="0.35" />
<line x1="586.8" y1="426.28" x2="587.8" y2="426.28" stroke="#333" stroke-width="0.35" />
<line x1="586.8" y1="421" x2="587.8" y2="421" stroke="#333" stroke-width="0.35" />
<text transform="translate(586.3 448.1) rotate(0.03) scale(1.1 1)" font-size="2" text-anchor="end" fill="#555" font-weight="bold" stroke="#555" stroke-width="0.1" >0</text>
<text transform="translate(586.3 442.82) rotate(0.03) scale(1.1 1)" font-size="2" text-anchor="end" fill="#555" font-weight="bold" stroke="#555" stroke-width="0.1" >100</text>
<text transform="translate(586.3 437.54) rotate(0.03) scale(1.1 1)" font-size="2" text-anchor="end" fill="#555" font-weight="bold" stroke="#555" stroke-width="0.1" >200</text>
<text transform="translate(586.3 432.26) rotate(0.03) scale(1.1 1)" font-size="2" text-anchor="end" fill="#555" font-weight="bold" stroke="#555" stroke-width="0.1" >300</text>
<text transform="translate(586.3 426.98) rotate(0.03) scale(1.1 1)" font-size="2" text-anchor="end" fill="#555" font-weight="bold" stroke="#555" stroke-width="0.1" >400</text>
<text transform="translate(586.3 421.7) rotate(0.03) scale(1.1 1)" font-size="2" text-anchor="end" fill="#555" font-weight="bold" stroke="#555" stroke-width="0.1" >500</text>
<rect x="589.99" y="446.9" width="3.58" height="0.5" fill="#fff" stroke="#333" stroke-width="0.45" />
<rect x="594.76" y="446.7" width="3.58" height="0.7" fill="#fff" stroke="#e8242c" stroke-width="0.45" />
<circle cx="591.77" cy="446.6" r="0.55" fill="#222" />
<polygon points="595.75,446.94 597.34,446.94 596.54,445.5" fill="#e8242c"/>
<rect x="603.29" y="435.1" width="3.58" height="12.3" fill="#fff" stroke="#333" stroke-width="0.5" />
<rect x="608.54" y="427" width="3.58" height="20.4" fill="#fff" stroke="#e8242c" stroke-width="0.5" />
<line x1="605.08" y1="432.9" x2="605.08" y2="436.6" stroke="#333" stroke-width="0.4" />
<line x1="610.32" y1="423.8" x2="610.32" y2="429" stroke="#e8242c" stroke-width="0.4" />
<circle cx="604.6" cy="433.5" r="0.5" fill="#222" />
<circle cx="604.96" cy="434.7" r="0.5" fill="#222" />
<circle cx="605.35" cy="436" r="0.5" fill="#222" />
<polygon points="610.27,424.52 611.57,424.52 610.92,423.35" fill="#e8242c"/>
<polygon points="609.83,426.72 611.13,426.72 610.48,425.55" fill="#e8242c"/>
<polygon points="609.43,428.72 610.73,428.72 610.08,427.55" fill="#e8242c"/>
<text transform="translate(594.16 451) rotate(0.03) scale(1.1 1)" font-size="2.6" text-anchor="middle" fill="#222" font-weight="bold" stroke="#222" stroke-width="0.22" >PBS</text>
<text transform="translate(607.3 451) rotate(0.03) scale(1.1 1)" font-size="2.6" text-anchor="middle" fill="#222" font-weight="bold" stroke="#222" stroke-width="0.22" >OKT3</text>
<text transform="translate(581.6 417.8) rotate(0.03) scale(1.1 1)" font-size="2.2" text-anchor="start" fill="#444" font-weight="bold" stroke="#444" stroke-width="0.22" >Human TNFα</text>
<text transform="translate(581.4 434.2) rotate(-89.97) scale(1.1 1)" font-size="2.1" text-anchor="middle" fill="#555" font-weight="bold" stroke="#555" stroke-width="0.1" >TNF (pg/ml)</text>
<line x1="638.8" y1="421" x2="638.8" y2="447.4" stroke="#333" stroke-width="0.5" />
<line x1="638.6" y1="447.4" x2="665.7" y2="447.4" stroke="#333" stroke-width="0.5" />
<line x1="637.8" y1="447.4" x2="638.8" y2="447.4" stroke="#333" stroke-width="0.35" />
<line x1="637.8" y1="442.12" x2="638.8" y2="442.12" stroke="#333" stroke-width="0.35" />
<line x1="637.8" y1="436.84" x2="638.8" y2="436.84" stroke="#333" stroke-width="0.35" />
<line x1="637.8" y1="431.56" x2="638.8" y2="431.56" stroke="#333" stroke-width="0.35" />
<line x1="637.8" y1="426.28" x2="638.8" y2="426.28" stroke="#333" stroke-width="0.35" />
<line x1="637.8" y1="421" x2="638.8" y2="421" stroke="#333" stroke-width="0.35" />
<text transform="translate(637.3 448.1) rotate(0.03) scale(1.1 1)" font-size="2" text-anchor="end" fill="#555" font-weight="bold" stroke="#555" stroke-width="0.1" >0</text>
<text transform="translate(637.3 442.82) rotate(0.03) scale(1.1 1)" font-size="2" text-anchor="end" fill="#555" font-weight="bold" stroke="#555" stroke-width="0.1" >2000</text>
<text transform="translate(637.3 437.54) rotate(0.03) scale(1.1 1)" font-size="2" text-anchor="end" fill="#555" font-weight="bold" stroke="#555" stroke-width="0.1" >4000</text>
<text transform="translate(637.3 432.26) rotate(0.03) scale(1.1 1)" font-size="2" text-anchor="end" fill="#555" font-weight="bold" stroke="#555" stroke-width="0.1" >6000</text>
<text transform="translate(637.3 426.98) rotate(0.03) scale(1.1 1)" font-size="2" text-anchor="end" fill="#555" font-weight="bold" stroke="#555" stroke-width="0.1" >8000</text>
<text transform="translate(637.3 421.7) rotate(0.03) scale(1.1 1)" font-size="2" text-anchor="end" fill="#555" font-weight="bold" stroke="#555" stroke-width="0.1" >10000</text>
<rect x="641.02" y="446" width="3.63" height="1.4" fill="#fff" stroke="#333" stroke-width="0.45" />
<rect x="645.86" y="445.9" width="3.63" height="1.5" fill="#fff" stroke="#e8242c" stroke-width="0.45" />
<circle cx="642.83" cy="445.7" r="0.55" fill="#222" />
<polygon points="646.88,446.14 648.48,446.14 647.68,444.7" fill="#e8242c"/>
<rect x="654.52" y="426.2" width="3.63" height="21.2" fill="#fff" stroke="#333" stroke-width="0.5" />
<rect x="659.85" y="422.9" width="3.63" height="24.5" fill="#fff" stroke="#e8242c" stroke-width="0.5" />
<line x1="656.34" y1="424" x2="656.34" y2="427.7" stroke="#333" stroke-width="0.4" />
<line x1="661.67" y1="419.7" x2="661.67" y2="424.9" stroke="#e8242c" stroke-width="0.4" />
<circle cx="655.86" cy="424.6" r="0.5" fill="#222" />
<circle cx="656.22" cy="425.8" r="0.5" fill="#222" />
<circle cx="656.61" cy="427.1" r="0.5" fill="#222" />
<polygon points="661.62,420.42 662.92,420.42 662.27,419.25" fill="#e8242c"/>
<polygon points="661.18,422.62 662.48,422.62 661.83,421.45" fill="#e8242c"/>
<polygon points="660.78,424.62 662.08,424.62 661.43,423.45" fill="#e8242c"/>
<text transform="translate(645.26 451) rotate(0.03) scale(1.1 1)" font-size="2.6" text-anchor="middle" fill="#222" font-weight="bold" stroke="#222" stroke-width="0.22" >PBS</text>
<text transform="translate(658.6 451) rotate(0.03) scale(1.1 1)" font-size="2.6" text-anchor="middle" fill="#222" font-weight="bold" stroke="#222" stroke-width="0.22" >OKT3</text>
<text transform="translate(632.6 417.8) rotate(0.03) scale(1.1 1)" font-size="2.2" text-anchor="start" fill="#444" font-weight="bold" stroke="#444" stroke-width="0.22" >Human IFN-gamma</text>
<text transform="translate(632.4 434.2) rotate(-89.97) scale(1.1 1)" font-size="2.1" text-anchor="middle" fill="#555" font-weight="bold" stroke="#555" stroke-width="0.1" >IFN-gamma (pg/ml)</text>
</svg>
</div>
</body></html>
